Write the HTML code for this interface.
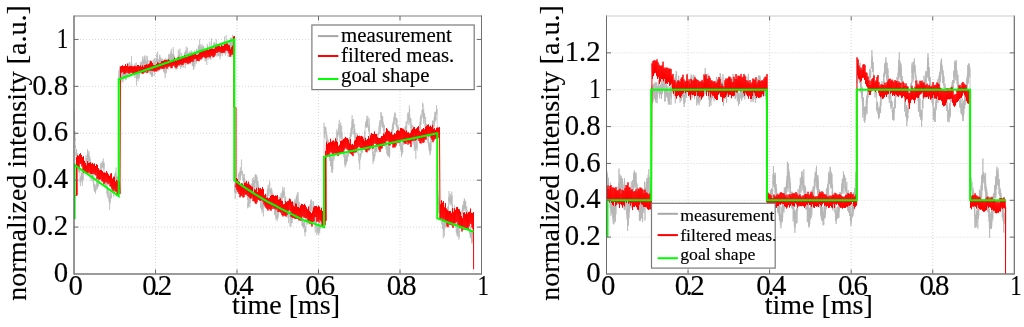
<!DOCTYPE html>
<html><head><meta charset="utf-8"><style>
html,body{margin:0;padding:0;background:#fff;width:1024px;height:327px;overflow:hidden}
svg{display:block;will-change:transform}
</style></head><body>
<svg width="1024" height="327" viewBox="0 0 1024 327" font-family='"Liberation Serif", serif' fill="#000">
<style>text{stroke:#000;stroke-width:0.15px}</style>
<defs>
<clipPath id="c1"><rect x="74.0" y="-14.0" width="407.5" height="288.0"/></clipPath>
<clipPath id="c2"><rect x="606.5" y="-14.0" width="407.79999999999995" height="288.0"/></clipPath>
</defs>
<rect width="1024" height="327" fill="#fff"/>
<g stroke="#d6d6d6" stroke-width="1" stroke-dasharray="1 2"><line x1="155.50" y1="16.00" x2="155.50" y2="274.00"/><line x1="237.00" y1="16.00" x2="237.00" y2="274.00"/><line x1="318.50" y1="16.00" x2="318.50" y2="274.00"/><line x1="400.00" y1="16.00" x2="400.00" y2="274.00"/><line x1="74.00" y1="227.09" x2="481.50" y2="227.09"/><line x1="74.00" y1="180.18" x2="481.50" y2="180.18"/><line x1="74.00" y1="133.27" x2="481.50" y2="133.27"/><line x1="74.00" y1="86.36" x2="481.50" y2="86.36"/><line x1="74.00" y1="39.45" x2="481.50" y2="39.45"/></g>
<g stroke="#d6d6d6" stroke-width="1" stroke-dasharray="1 2"><line x1="688.06" y1="16.00" x2="688.06" y2="274.00"/><line x1="769.62" y1="16.00" x2="769.62" y2="274.00"/><line x1="851.18" y1="16.00" x2="851.18" y2="274.00"/><line x1="932.74" y1="16.00" x2="932.74" y2="274.00"/><line x1="606.50" y1="237.14" x2="1014.30" y2="237.14"/><line x1="606.50" y1="200.29" x2="1014.30" y2="200.29"/><line x1="606.50" y1="163.43" x2="1014.30" y2="163.43"/><line x1="606.50" y1="126.57" x2="1014.30" y2="126.57"/><line x1="606.50" y1="89.71" x2="1014.30" y2="89.71"/><line x1="606.50" y1="52.86" x2="1014.30" y2="52.86"/></g>
<g clip-path="url(#c1)"><polyline points="74.0,124.2 74.1,110.7 74.2,128.4 74.3,131.3 74.4,131.1 74.5,132.6 74.6,131.5 74.7,137.5 74.8,132.1 74.9,131.2 75.0,139.2 75.1,138.9 75.2,140.7 75.3,138.2 75.4,147.8 75.5,145.7 75.6,147.4 75.7,150.2 75.8,155.2 75.9,154.2 76.0,151.7 76.1,159.9 76.2,155.1 76.3,152.5 76.4,149.3 76.5,151.9 76.6,149.1 76.7,152.9 76.8,160.4 76.9,152.6 77.0,161.9 77.1,160.6 77.2,153.5 77.3,159.2 77.4,166.1 77.5,157.6 77.6,158.1 77.7,158.5 77.8,166.4 77.9,155.3 78.0,160.3 78.1,155.6 78.2,165.2 78.3,163.2 78.4,171.9 78.5,167.7 78.6,161.9 78.7,164.5 78.8,169.9 78.9,161.7 79.0,168.2 79.1,169.0 79.2,169.5 79.3,172.7 79.4,172.8 79.5,172.5 79.6,167.2 79.7,172.5 79.8,169.4 79.9,176.5 80.0,182.4 80.1,178.3 80.2,178.5 80.3,180.2 80.4,186.1 80.5,178.7 80.6,180.9 80.7,177.2 80.8,176.4 80.9,177.5 81.0,176.1 81.1,180.4 81.2,178.1 81.3,176.5 81.4,172.9 81.5,177.3 81.6,176.8 81.7,179.8 81.8,174.4 81.9,172.5 82.0,182.4 82.1,175.1 82.2,174.1 82.3,170.4 82.4,185.8 82.5,177.6 82.6,180.4 82.7,169.0 82.8,173.1 82.9,169.6 83.0,170.5 83.1,171.7 83.2,172.0 83.3,173.5 83.4,179.8 83.5,172.0 83.6,173.0 83.7,173.0 83.8,172.5 83.9,165.3 84.0,172.2 84.1,171.6 84.2,164.8 84.3,161.3 84.4,169.8 84.5,169.1 84.6,171.0 84.7,166.5 84.8,166.6 84.9,165.7 85.0,169.0 85.1,169.3 85.2,170.6 85.3,163.4 85.4,169.1 85.5,172.0 85.6,169.0 85.7,166.4 85.8,165.7 85.9,167.1 86.0,156.0 86.1,155.2 86.2,164.6 86.3,158.4 86.4,161.4 86.5,158.4 86.6,161.2 86.7,161.3 86.8,159.6 86.9,158.8 87.0,164.7 87.1,167.2 87.2,163.7 87.3,153.9 87.4,160.0 87.5,156.2 87.6,149.1 87.7,157.5 87.8,151.2 87.9,156.2 88.0,154.5 88.1,164.0 88.2,157.6 88.3,155.2 88.4,155.4 88.5,162.8 88.6,157.4 88.7,153.4 88.8,157.4 88.9,151.5 89.0,151.3 89.1,154.4 89.2,157.9 89.3,156.2 89.4,164.2 89.5,158.8 89.6,160.1 89.7,158.3 89.8,156.6 89.9,158.5 90.0,160.8 90.1,163.2 90.2,159.6 90.3,158.8 90.4,164.1 90.5,168.6 90.6,170.0 90.7,164.6 90.8,166.5 90.9,170.5 91.0,178.8 91.1,175.9 91.2,181.1 91.3,178.3 91.4,174.9 91.5,174.6 91.6,165.1 91.7,172.6 91.8,172.5 91.9,170.9 92.0,169.5 92.1,169.4 92.2,173.8 92.3,177.1 92.4,176.1 92.5,174.1 92.6,179.0 92.7,173.8 92.8,180.9 92.9,181.5 93.0,179.6 93.1,172.3 93.2,179.2 93.3,180.8 93.4,184.7 93.5,186.8 93.6,185.9 93.7,175.8 93.8,178.7 93.9,184.6 94.0,187.4 94.1,190.6 94.2,188.5 94.3,183.9 94.4,185.2 94.5,187.7 94.6,191.9 94.7,186.7 94.8,190.0 94.9,184.1 95.0,188.2 95.1,185.6 95.2,187.7 95.3,191.6 95.4,187.1 95.5,193.7 95.6,188.3 95.7,191.2 95.8,190.5 95.9,188.0 96.0,187.8 96.1,189.7 96.2,188.9 96.3,189.5 96.4,184.1 96.5,183.1 96.6,183.4 96.7,187.7 96.8,181.2 96.9,178.0 97.0,187.4 97.1,187.4 97.2,182.1 97.3,186.5 97.4,181.6 97.5,184.9 97.6,188.9 97.7,184.5 97.8,183.5 97.9,181.8 98.0,185.1 98.1,183.5 98.2,173.7 98.3,184.3 98.4,176.3 98.5,186.6 98.6,180.0 98.7,179.4 98.8,174.2 98.9,177.5 99.0,179.3 99.1,176.8 99.2,180.0 99.3,183.8 99.4,181.8 99.5,170.6 99.6,172.5 99.7,168.5 99.8,173.5 99.9,179.0 100.0,175.7 100.1,171.2 100.2,175.4 100.3,174.2 100.4,173.4 100.5,171.7 100.6,173.6 100.7,163.7 100.8,169.9 100.9,163.4 101.0,164.2 101.1,170.3 101.2,167.2 101.3,165.9 101.4,167.8 101.5,168.0 101.6,163.1 101.7,165.9 101.8,167.2 101.9,167.9 102.0,164.8 102.1,161.5 102.2,161.7 102.3,167.3 102.4,164.8 102.5,162.0 102.6,164.2 102.7,161.6 102.8,166.6 102.9,167.4 103.0,165.6 103.1,167.2 103.2,170.5 103.3,158.5 103.4,166.8 103.5,163.1 103.6,163.2 103.7,165.5 103.8,163.9 103.9,164.2 104.0,168.7 104.1,168.1 104.2,162.3 104.3,174.5 104.4,173.0 104.5,173.4 104.6,177.0 104.7,181.5 104.8,182.8 104.9,181.7 105.0,181.8 105.1,181.1 105.2,176.1 105.3,183.7 105.4,185.4 105.5,180.5 105.6,180.2 105.7,185.7 105.8,181.4 105.9,184.5 106.0,179.5 106.1,180.2 106.2,183.7 106.3,180.0 106.4,185.9 106.5,186.7 106.6,187.0 106.7,187.4 106.8,183.3 106.9,194.0 107.0,187.9 107.1,189.7 107.2,185.7 107.3,195.3 107.4,196.3 107.5,187.6 107.6,187.3 107.7,188.5 107.8,191.6 107.9,188.0 108.0,192.5 108.1,197.6 108.2,195.0 108.3,196.5 108.4,198.7 108.5,195.6 108.6,195.6 108.7,190.4 108.8,188.8 108.9,189.8 109.0,193.0 109.1,202.0 109.2,198.9 109.3,200.5 109.4,201.5 109.5,202.7 109.6,209.7 109.7,197.7 109.8,199.1 109.9,192.3 110.0,204.1 110.1,196.5 110.2,199.0 110.3,201.5 110.4,197.9 110.5,195.1 110.6,190.8 110.7,192.4 110.8,192.8 110.9,194.8 111.0,198.6 111.1,198.2 111.2,195.2 111.3,194.2 111.4,197.8 111.5,198.0 111.6,188.7 111.7,189.0 111.8,181.4 111.9,189.9 112.0,184.9 112.1,187.6 112.2,187.4 112.3,189.9 112.4,186.7 112.5,187.6 112.6,190.0 112.7,188.0 112.8,187.6 112.9,185.3 113.0,183.8 113.1,185.3 113.2,185.7 113.3,182.8 113.4,190.3 113.5,184.3 113.6,185.6 113.7,196.7 113.8,190.4 113.9,185.3 114.0,192.9 114.1,183.6 114.2,182.8 114.3,184.6 114.4,181.2 114.5,183.4 114.6,177.3 114.7,174.3 114.8,174.8 114.9,175.9 115.0,182.6 115.1,180.3 115.2,173.2 115.3,173.3 115.4,177.5 115.5,180.5 115.6,183.0 115.7,172.1 115.8,176.2 115.9,170.5 116.0,169.5 116.1,167.4 116.2,172.8 116.3,176.9 116.4,177.6 116.5,176.9 116.6,186.3 116.7,177.8 116.8,182.4 116.9,175.9 117.0,180.5 117.1,181.5 117.2,176.8 117.3,191.3 117.4,176.9 117.5,180.1 117.6,182.9 117.7,179.1 117.8,184.2 117.9,180.2 118.0,183.2 118.1,179.9 118.2,186.3 118.3,183.1 118.4,175.1 118.5,180.2 118.6,183.8 118.7,186.4 118.8,72.6 118.9,70.5 119.0,77.3 119.1,74.9 119.2,75.4 119.3,84.2 119.4,74.8 119.5,68.4 119.6,74.0 119.7,72.3 119.8,66.2 119.9,70.1 120.0,77.8 120.1,73.0 120.2,75.9 120.3,79.9 120.4,73.1 120.5,76.0 120.6,76.9 120.7,77.8 120.8,68.1 120.9,73.3 121.0,82.8 121.1,75.3 121.2,78.2 121.3,79.4 121.4,70.9 121.5,71.9 121.6,77.2 121.7,76.1 121.8,72.9 121.9,76.5 122.0,74.4 122.1,79.4 122.2,72.4 122.3,71.3 122.4,78.9 122.5,81.4 122.6,75.6 122.7,71.3 122.8,74.3 122.9,75.4 123.0,75.6 123.1,82.3 123.2,73.0 123.3,73.6 123.4,75.9 123.5,69.9 123.6,75.5 123.7,77.5 123.8,71.3 123.9,69.9 124.0,73.1 124.1,71.9 124.2,71.9 124.3,71.5 124.4,78.7 124.5,72.0 124.6,70.2 124.7,75.7 124.8,79.3 124.9,73.0 125.0,74.4 125.1,78.3 125.2,75.9 125.3,77.9 125.4,71.4 125.5,80.2 125.6,70.0 125.7,77.7 125.8,74.9 125.9,76.8 126.0,73.9 126.1,70.8 126.2,72.6 126.3,79.6 126.4,78.1 126.5,76.6 126.6,68.7 126.7,77.4 126.8,75.1 126.9,75.5 127.0,71.7 127.1,71.4 127.2,75.7 127.3,66.6 127.4,67.0 127.5,67.9 127.6,68.7 127.7,63.6 127.8,76.5 127.9,72.3 128.0,63.3 128.1,72.4 128.2,64.5 128.3,67.4 128.4,71.2 128.5,69.4 128.6,69.3 128.7,67.0 128.8,66.7 128.9,65.2 129.0,67.1 129.1,64.3 129.2,62.7 129.3,65.4 129.4,70.9 129.5,62.0 129.6,74.0 129.7,63.9 129.8,62.0 129.9,72.1 130.0,77.1 130.1,73.4 130.2,69.9 130.3,73.6 130.4,65.0 130.5,66.5 130.6,72.6 130.7,66.5 130.8,74.7 130.9,71.2 131.0,69.7 131.1,65.1 131.2,65.6 131.3,63.9 131.4,72.9 131.5,55.9 131.6,72.8 131.7,69.7 131.8,63.3 131.9,67.5 132.0,64.3 132.1,72.8 132.2,71.0 132.3,69.5 132.4,72.1 132.5,71.2 132.6,70.3 132.7,74.9 132.8,70.4 132.9,74.8 133.0,70.3 133.1,68.7 133.2,73.6 133.3,72.4 133.4,70.7 133.5,68.0 133.6,67.8 133.7,67.9 133.8,67.8 133.9,74.2 134.0,72.2 134.1,71.4 134.2,70.2 134.3,69.0 134.4,70.6 134.5,69.8 134.6,64.9 134.7,71.9 134.8,78.2 134.9,74.0 135.0,72.8 135.1,73.8 135.2,63.2 135.3,68.5 135.4,65.8 135.5,73.4 135.6,68.9 135.7,71.7 135.8,70.6 135.9,72.3 136.0,68.2 136.1,77.3 136.2,69.3 136.3,62.6 136.4,69.0 136.5,85.7 136.6,76.6 136.7,78.7 136.8,78.8 136.9,79.0 137.0,71.2 137.1,73.0 137.2,78.0 137.3,73.3 137.4,73.6 137.5,66.0 137.6,78.4 137.7,73.7 137.8,77.3 137.9,72.4 138.0,81.3 138.1,76.8 138.2,74.1 138.3,74.4 138.4,75.5 138.5,72.5 138.6,74.4 138.7,76.3 138.8,72.4 138.9,72.0 139.0,70.5 139.1,78.9 139.2,72.7 139.3,68.6 139.4,77.7 139.4,71.8 139.5,74.1 139.6,67.5 139.7,66.3 139.8,70.7 139.9,72.0 140.0,73.7 140.1,70.3 140.2,70.3 140.3,66.8 140.4,62.1 140.5,63.8 140.6,69.7 140.7,72.0 140.8,72.2 140.9,70.6 141.0,69.0 141.1,61.8 141.2,69.7 141.3,65.3 141.4,69.4 141.5,67.3 141.6,62.1 141.7,68.1 141.8,70.8 141.9,72.1 142.0,69.3 142.1,74.1 142.2,63.7 142.3,60.7 142.4,61.2 142.5,59.2 142.6,63.3 142.7,56.2 142.8,70.4 142.9,67.3 143.0,59.6 143.1,69.0 143.2,71.3 143.3,73.8 143.4,60.6 143.5,59.7 143.6,61.5 143.7,68.3 143.8,63.2 143.9,67.4 144.0,59.2 144.1,57.6 144.2,58.9 144.3,58.8 144.4,56.3 144.5,55.6 144.6,67.1 144.7,60.6 144.8,68.6 144.9,65.6 145.0,58.6 145.1,67.9 145.2,67.1 145.3,60.5 145.4,65.4 145.5,72.2 145.6,66.2 145.7,66.2 145.8,68.0 145.9,55.7 146.0,64.1 146.1,64.3 146.2,60.7 146.3,64.9 146.4,71.1 146.5,67.2 146.6,66.4 146.7,67.6 146.8,62.3 146.9,62.2 147.0,63.2 147.1,63.9 147.2,62.8 147.3,55.9 147.4,70.1 147.5,58.6 147.6,61.8 147.7,66.5 147.8,66.4 147.9,64.0 148.0,72.9 148.1,68.8 148.2,67.3 148.3,72.2 148.4,68.4 148.5,65.3 148.6,68.7 148.7,70.6 148.8,71.8 148.9,72.9 149.0,60.0 149.1,64.8 149.2,65.7 149.3,66.9 149.4,69.4 149.5,61.3 149.6,62.5 149.7,61.4 149.8,72.7 149.9,63.9 150.0,65.0 150.1,74.2 150.2,72.9 150.3,72.6 150.4,67.1 150.5,70.4 150.6,74.9 150.7,69.5 150.8,73.2 150.9,69.3 151.0,69.0 151.1,69.8 151.2,61.5 151.3,64.8 151.4,74.0 151.5,66.4 151.6,62.6 151.7,77.0 151.8,66.9 151.9,69.6 152.0,75.5 152.1,70.5 152.2,75.4 152.3,76.8 152.4,70.1 152.5,69.7 152.6,76.2 152.7,69.7 152.8,65.3 152.9,71.4 153.0,60.4 153.1,66.3 153.2,63.9 153.3,65.0 153.4,71.2 153.5,65.1 153.6,66.1 153.7,64.0 153.8,63.8 153.9,58.5 154.0,60.2 154.1,59.7 154.2,62.9 154.3,75.8 154.4,72.0 154.5,69.4 154.6,65.4 154.7,71.2 154.8,63.2 154.9,61.5 155.0,62.4 155.1,58.3 155.2,65.7 155.3,62.8 155.4,68.2 155.5,64.3 155.6,68.5 155.7,66.9 155.8,62.1 155.9,68.4 156.0,63.6 156.1,60.3 156.2,59.3 156.3,60.5 156.4,59.3 156.5,61.6 156.6,56.5 156.7,57.2 156.8,53.4 156.9,59.3 157.0,58.7 157.1,64.2 157.2,59.5 157.3,62.2 157.4,57.3 157.5,57.6 157.6,51.5 157.7,65.7 157.8,61.1 157.9,61.8 158.0,60.7 158.1,67.8 158.2,66.3 158.3,60.0 158.4,67.0 158.5,66.5 158.6,59.7 158.7,71.5 158.8,61.6 158.9,61.1 159.0,59.3 159.1,65.5 159.2,65.5 159.3,63.9 159.4,64.7 159.5,57.5 159.6,63.7 159.7,54.7 159.8,59.8 159.9,55.6 160.0,62.2 160.1,62.9 160.2,60.3 160.3,58.6 160.4,65.0 160.5,60.1 160.6,66.2 160.7,57.7 160.8,68.9 160.9,68.0 161.0,62.5 161.1,64.8 161.2,69.3 161.3,64.3 161.4,63.3 161.5,66.0 161.6,63.4 161.7,66.2 161.8,68.4 161.9,58.3 162.0,68.0 162.1,64.7 162.2,59.0 162.3,64.2 162.4,66.6 162.5,63.4 162.6,62.5 162.7,59.7 162.8,64.4 162.9,64.9 163.0,68.3 163.1,65.0 163.2,65.9 163.3,60.7 163.4,71.9 163.5,71.9 163.6,71.2 163.7,66.1 163.8,63.0 163.9,59.1 164.0,72.4 164.1,66.1 164.2,70.0 164.3,61.4 164.4,64.8 164.5,59.3 164.6,67.2 164.7,61.8 164.8,67.5 164.9,74.1 165.0,66.1 165.1,70.3 165.2,78.2 165.3,67.0 165.4,66.4 165.5,62.6 165.6,58.1 165.7,61.8 165.8,61.9 165.9,71.4 166.0,67.6 166.1,68.3 166.2,58.7 166.3,67.4 166.4,63.9 166.5,73.2 166.6,66.6 166.7,64.1 166.8,64.6 166.9,63.8 167.0,59.6 167.1,59.4 167.2,66.9 167.3,67.4 167.4,61.9 167.5,60.0 167.6,68.6 167.7,58.9 167.8,67.1 167.9,62.9 168.0,59.0 168.1,69.7 168.2,63.6 168.3,61.9 168.4,62.8 168.5,53.9 168.6,57.4 168.7,60.0 168.8,62.5 168.9,58.9 169.0,59.3 169.1,57.8 169.2,62.1 169.3,65.8 169.4,55.7 169.5,63.1 169.6,59.0 169.7,54.5 169.8,55.9 169.9,66.1 170.0,64.5 170.1,61.0 170.2,53.8 170.3,59.3 170.4,52.6 170.5,53.5 170.6,55.4 170.7,57.4 170.8,60.7 170.9,54.4 171.0,58.8 171.1,51.1 171.2,57.7 171.3,60.8 171.4,48.8 171.5,59.9 171.6,56.3 171.7,60.3 171.8,58.0 171.9,59.3 172.0,61.1 172.1,62.8 172.2,57.2 172.3,62.1 172.4,53.9 172.5,59.3 172.6,53.8 172.7,60.9 172.8,56.1 172.9,60.4 173.0,62.6 173.1,59.3 173.2,57.7 173.3,47.1 173.4,61.4 173.5,57.8 173.6,53.8 173.7,59.2 173.8,58.4 173.9,55.0 174.0,61.0 174.1,62.9 174.2,65.2 174.3,61.0 174.4,57.7 174.5,59.5 174.6,56.2 174.7,61.9 174.8,58.8 174.9,63.2 175.0,67.9 175.1,59.0 175.2,64.0 175.3,61.6 175.4,68.5 175.5,69.4 175.6,67.0 175.7,61.8 175.8,63.5 175.9,61.1 176.0,58.2 176.1,60.0 176.2,59.6 176.3,60.7 176.4,62.6 176.5,64.4 176.6,69.6 176.7,61.0 176.8,59.4 176.9,67.0 177.0,67.3 177.1,65.8 177.2,60.7 177.3,61.3 177.4,62.0 177.5,62.1 177.6,69.0 177.7,62.3 177.8,62.0 177.9,60.5 178.0,62.4 178.1,62.1 178.2,60.2 178.3,49.8 178.4,63.6 178.5,54.7 178.6,64.6 178.7,60.7 178.8,65.8 178.9,56.9 179.0,61.8 179.1,62.2 179.2,59.0 179.3,58.2 179.4,62.7 179.5,58.3 179.6,58.7 179.7,51.8 179.8,63.5 179.9,48.6 180.0,57.1 180.1,66.8 180.2,60.4 180.3,66.4 180.4,62.9 180.5,64.1 180.6,59.9 180.7,68.9 180.8,58.2 180.9,56.4 181.0,65.8 181.1,58.2 181.2,57.2 181.3,63.0 181.4,67.0 181.5,57.3 181.6,59.2 181.7,53.1 181.8,60.7 181.9,58.2 182.0,61.5 182.1,61.5 182.2,67.3 182.3,63.9 182.4,60.6 182.5,59.4 182.6,60.7 182.7,56.0 182.8,58.0 182.9,56.6 183.0,59.2 183.1,57.5 183.2,61.7 183.3,67.5 183.4,56.9 183.5,57.7 183.6,58.1 183.7,61.7 183.8,56.0 183.9,58.7 184.0,55.4 184.1,58.0 184.2,58.4 184.3,55.8 184.4,51.9 184.5,55.5 184.6,53.6 184.7,58.1 184.8,60.3 184.9,56.2 185.0,58.5 185.1,58.0 185.2,68.3 185.3,53.4 185.4,57.8 185.5,60.8 185.6,50.4 185.7,56.0 185.8,55.5 185.9,55.6 186.0,65.1 186.1,51.2 186.2,57.3 186.3,46.7 186.4,52.4 186.5,57.4 186.6,62.6 186.7,56.0 186.8,59.7 186.9,57.7 187.0,59.2 187.1,53.9 187.2,58.1 187.3,58.1 187.4,47.7 187.5,52.0 187.6,56.8 187.7,55.9 187.8,63.5 187.9,60.8 188.0,57.3 188.1,60.8 188.2,61.1 188.3,52.8 188.4,56.5 188.5,58.2 188.6,57.4 188.7,57.9 188.8,52.7 188.9,55.4 189.0,63.5 189.1,53.4 189.2,54.5 189.3,61.3 189.4,64.3 189.5,61.3 189.6,62.8 189.7,58.4 189.8,58.6 189.9,51.4 190.0,61.8 190.1,56.3 190.2,52.2 190.3,58.6 190.4,59.9 190.5,63.9 190.6,53.2 190.7,62.1 190.8,55.1 190.9,59.4 191.0,57.4 191.1,58.2 191.2,50.4 191.3,54.0 191.4,53.0 191.5,53.7 191.6,53.0 191.7,59.7 191.8,58.7 191.9,51.0 192.0,58.8 192.1,54.7 192.2,62.4 192.3,65.9 192.4,62.2 192.5,65.9 192.6,63.1 192.7,56.6 192.8,61.3 192.9,56.8 193.0,63.6 193.1,62.1 193.2,66.1 193.3,56.9 193.4,68.7 193.5,59.7 193.6,57.3 193.7,70.1 193.8,66.8 193.9,65.9 194.0,58.2 194.1,58.9 194.2,57.6 194.3,54.3 194.4,50.4 194.5,64.7 194.6,59.4 194.7,61.2 194.8,57.2 194.9,67.2 195.0,63.4 195.1,61.6 195.2,60.7 195.3,54.3 195.4,55.9 195.5,61.9 195.6,55.5 195.7,58.9 195.8,57.5 195.9,57.4 196.0,60.6 196.1,55.1 196.2,52.0 196.3,57.3 196.4,63.7 196.5,52.7 196.6,48.8 196.7,54.3 196.8,52.9 196.9,50.7 197.0,54.6 197.1,49.8 197.2,53.3 197.3,57.7 197.4,56.1 197.5,55.3 197.6,57.4 197.7,50.8 197.8,52.8 197.9,56.9 198.0,51.4 198.1,54.1 198.2,49.1 198.3,46.7 198.4,50.1 198.5,53.7 198.6,55.3 198.7,44.9 198.8,49.2 198.9,51.7 199.0,49.2 199.1,54.9 199.2,46.4 199.3,49.4 199.4,51.5 199.5,56.0 199.6,39.3 199.7,45.2 199.8,54.4 199.9,50.6 200.0,47.2 200.1,47.6 200.2,51.4 200.3,44.4 200.4,45.8 200.5,47.3 200.6,49.7 200.7,55.2 200.8,50.5 200.9,50.1 201.0,54.7 201.1,50.0 201.2,48.2 201.3,53.2 201.4,54.0 201.5,51.9 201.6,46.4 201.7,48.4 201.8,58.2 201.9,53.9 202.0,44.0 202.1,54.9 202.2,46.8 202.3,52.5 202.4,47.7 202.5,55.0 202.6,53.6 202.7,53.4 202.8,54.4 202.9,54.0 203.0,47.2 203.1,52.0 203.2,45.9 203.3,54.7 203.4,53.5 203.5,49.9 203.6,50.1 203.7,45.8 203.8,49.9 203.9,51.0 204.0,52.9 204.1,58.1 204.2,58.7 204.3,51.7 204.4,57.3 204.5,55.8 204.6,52.1 204.7,56.9 204.8,53.0 204.9,55.2 205.0,49.8 205.1,61.4 205.2,58.9 205.3,60.1 205.4,60.2 205.5,60.7 205.6,50.1 205.7,56.1 205.8,53.4 205.9,58.9 206.0,58.6 206.1,56.4 206.2,59.4 206.3,54.5 206.4,59.7 206.5,58.7 206.6,58.2 206.7,62.7 206.8,64.9 206.9,58.5 207.0,56.1 207.1,54.8 207.2,53.3 207.3,43.8 207.4,50.4 207.5,48.4 207.6,45.7 207.7,55.0 207.8,48.0 207.9,51.0 208.0,49.8 208.1,59.6 208.2,59.0 208.3,56.1 208.4,54.7 208.5,50.9 208.6,55.8 208.7,52.2 208.8,54.0 208.9,58.8 209.0,53.8 209.1,52.0 209.2,47.8 209.3,50.2 209.4,53.7 209.5,55.8 209.6,52.1 209.7,53.4 209.8,41.7 209.9,49.4 210.0,52.9 210.1,54.3 210.2,54.6 210.3,50.0 210.4,59.3 210.5,51.4 210.6,54.4 210.7,47.1 210.8,60.0 210.9,51.0 211.0,55.9 211.1,48.9 211.2,55.6 211.3,50.2 211.4,47.0 211.5,38.5 211.6,51.1 211.7,51.1 211.8,50.2 211.9,53.3 212.0,50.7 212.1,50.3 212.2,49.3 212.3,56.1 212.4,48.2 212.5,55.5 212.6,50.0 212.7,46.5 212.8,56.0 212.9,49.6 213.0,48.3 213.1,51.0 213.2,50.0 213.3,45.0 213.4,43.4 213.5,49.3 213.6,45.4 213.7,46.2 213.8,51.4 213.9,54.9 214.0,46.3 214.1,46.4 214.2,41.9 214.3,46.9 214.4,49.9 214.5,44.8 214.6,43.2 214.7,45.4 214.8,51.4 214.9,46.7 215.0,48.7 215.1,52.4 215.2,48.3 215.3,45.5 215.4,46.7 215.5,49.6 215.6,43.5 215.7,54.3 215.8,45.1 215.9,51.5 216.0,46.2 216.1,50.5 216.2,39.2 216.3,41.6 216.4,51.8 216.5,42.9 216.6,47.0 216.7,44.5 216.8,51.6 216.9,52.1 217.0,56.7 217.1,54.7 217.2,53.5 217.3,55.7 217.4,52.8 217.5,49.2 217.6,47.9 217.7,51.1 217.8,45.6 217.9,50.3 218.0,46.5 218.1,44.1 218.2,51.0 218.3,44.9 218.4,52.4 218.5,55.8 218.6,48.1 218.7,48.4 218.8,56.3 218.9,50.8 219.0,50.0 219.1,51.7 219.2,43.3 219.3,51.5 219.4,55.2 219.5,51.1 219.6,52.0 219.7,54.7 219.8,52.4 219.9,56.5 220.0,50.8 220.1,59.3 220.2,51.6 220.3,53.4 220.4,55.1 220.5,54.8 220.6,56.0 220.7,52.3 220.8,46.3 220.9,52.7 221.0,54.4 221.1,45.8 221.2,53.1 221.3,53.5 221.4,44.4 221.5,51.3 221.6,47.9 221.7,51.5 221.8,51.6 221.9,50.5 222.0,48.8 222.1,42.8 222.2,53.5 222.3,56.2 222.4,47.4 222.5,52.7 222.6,45.6 222.7,48.9 222.8,45.8 222.9,43.2 223.0,49.3 223.1,52.1 223.2,47.6 223.3,52.5 223.4,50.2 223.5,49.2 223.6,51.9 223.7,43.0 223.8,49.9 223.9,42.5 224.0,45.1 224.1,49.8 224.2,48.0 224.3,45.0 224.4,47.8 224.5,36.6 224.6,51.4 224.7,41.7 224.8,52.2 224.9,47.0 225.0,43.9 225.1,53.4 225.2,48.0 225.3,52.9 225.4,55.7 225.5,53.9 225.6,51.4 225.7,50.3 225.8,47.4 225.9,47.2 226.0,53.8 226.1,40.2 226.2,35.3 226.3,43.9 226.4,46.3 226.5,46.9 226.6,42.7 226.7,43.7 226.8,47.3 226.9,44.8 227.0,42.5 227.1,43.8 227.2,44.7 227.3,45.5 227.4,49.7 227.5,47.5 227.6,48.3 227.7,53.1 227.8,50.4 227.9,45.4 228.0,46.2 228.1,56.8 228.2,53.8 228.3,42.6 228.4,46.3 228.5,46.3 228.6,54.4 228.7,49.6 228.8,49.8 228.9,48.2 229.0,51.7 229.1,49.9 229.2,45.7 229.3,44.8 229.4,42.9 229.5,56.1 229.6,49.9 229.7,41.8 229.8,52.0 229.9,46.8 230.0,40.5 230.1,49.5 230.2,46.1 230.3,37.8 230.4,49.6 230.5,52.3 230.6,39.4 230.7,45.6 230.8,43.6 230.9,41.7 231.0,37.9 231.1,43.9 231.2,38.5 231.3,44.3 231.4,47.6 231.5,44.3 231.6,50.1 231.7,51.1 231.8,37.7 231.9,57.4 232.0,52.0 232.1,48.9 232.2,46.0 232.3,41.5 232.4,43.5 232.5,34.8 232.6,47.4 232.7,52.2 232.8,49.8 232.9,50.6 233.0,51.1 233.1,45.3 233.2,45.9 233.3,43.4 233.4,52.0 233.5,47.9 233.6,50.3 233.7,53.2 233.8,56.9 233.9,49.8 234.0,53.9 234.1,46.3 234.2,45.7 234.3,45.0 234.4,175.9 234.5,180.8 234.6,192.3 234.7,184.4 234.8,185.1 234.9,187.1 235.0,189.7 235.1,185.3 235.2,199.1 235.3,195.1 235.4,190.5 235.5,193.0 235.6,191.3 235.7,193.7 235.8,193.7 235.9,186.2 236.0,187.0 236.1,191.7 236.2,184.4 236.3,193.3 236.4,187.4 236.5,189.7 236.6,188.9 236.7,187.5 236.8,191.6 236.9,184.3 237.0,185.3 237.1,183.8 237.2,181.9 237.3,183.3 237.4,181.9 237.5,181.9 237.6,185.7 237.7,179.5 237.8,183.6 237.9,187.5 238.0,183.2 238.1,181.4 238.2,186.1 238.3,178.9 238.4,179.3 238.5,174.4 238.6,176.5 238.7,173.6 238.8,175.3 238.9,186.6 239.0,177.8 239.1,176.7 239.2,176.3 239.3,172.9 239.4,175.0 239.5,172.2 239.6,174.2 239.7,179.4 239.8,180.6 239.9,171.8 240.0,171.4 240.1,178.1 240.2,175.7 240.3,167.3 240.4,171.4 240.5,180.0 240.6,172.2 240.7,170.9 240.8,172.8 240.9,174.7 241.0,173.6 241.1,174.3 241.2,173.3 241.3,168.5 241.4,160.5 241.5,159.5 241.6,169.1 241.7,173.4 241.8,171.1 241.9,170.9 242.0,171.7 242.1,175.9 242.2,171.2 242.3,173.3 242.4,171.1 242.5,178.0 242.6,176.7 242.7,180.2 242.8,179.5 242.9,179.3 243.0,178.2 243.1,178.2 243.2,179.1 243.3,178.5 243.4,180.1 243.5,182.6 243.6,181.8 243.7,174.0 243.8,179.9 243.9,186.5 244.0,188.0 244.1,177.6 244.2,182.7 244.3,177.6 244.4,173.9 244.5,185.7 244.6,182.5 244.7,181.3 244.8,179.6 244.9,184.2 245.0,183.0 245.1,183.6 245.2,184.3 245.3,186.6 245.4,191.6 245.5,194.0 245.6,192.7 245.7,189.6 245.8,184.8 245.9,189.0 246.0,190.8 246.1,186.2 246.2,188.4 246.3,189.1 246.4,193.2 246.5,193.6 246.6,193.1 246.7,195.5 246.8,190.8 246.9,196.8 247.0,193.0 247.1,191.5 247.2,195.3 247.3,191.4 247.4,195.7 247.5,196.3 247.6,200.0 247.7,192.5 247.8,208.4 247.9,204.1 248.0,207.7 248.1,202.1 248.2,204.7 248.3,206.4 248.4,196.2 248.5,194.6 248.6,205.1 248.7,199.3 248.8,201.1 248.9,204.8 249.0,198.2 249.1,197.6 249.2,196.8 249.3,193.4 249.4,190.5 249.5,198.5 249.6,192.9 249.7,189.7 249.8,207.2 249.9,197.4 250.0,193.2 250.1,193.8 250.2,198.2 250.3,192.2 250.4,195.0 250.5,202.9 250.6,195.8 250.7,198.9 250.8,195.0 250.9,197.8 251.0,190.6 251.1,192.7 251.2,195.6 251.3,192.6 251.4,185.2 251.5,184.5 251.6,192.1 251.7,183.7 251.8,187.5 251.9,188.7 252.0,185.8 252.1,182.9 252.2,185.2 252.3,188.1 252.4,184.6 252.5,183.5 252.6,178.1 252.7,183.2 252.8,184.0 252.9,183.0 253.0,181.0 253.1,192.1 253.2,180.0 253.3,185.4 253.4,185.4 253.5,187.3 253.6,182.1 253.7,176.9 253.8,181.8 253.9,186.3 254.0,180.8 254.1,180.6 254.2,181.3 254.3,190.3 254.4,183.0 254.5,181.9 254.6,200.6 254.7,184.4 254.8,180.5 254.9,186.4 255.0,192.4 255.1,182.9 255.2,175.2 255.3,181.1 255.4,174.5 255.5,177.9 255.6,180.4 255.7,179.7 255.8,174.1 255.9,182.6 256.0,180.1 256.1,183.0 256.2,182.5 256.3,181.5 256.4,188.1 256.5,188.4 256.6,175.3 256.7,182.3 256.8,183.7 256.9,184.2 257.0,182.4 257.1,186.1 257.2,176.9 257.3,178.9 257.4,184.4 257.5,182.5 257.6,187.8 257.7,190.3 257.8,184.0 257.9,186.3 258.0,186.6 258.1,180.7 258.2,189.5 258.3,189.0 258.4,186.5 258.5,199.7 258.6,193.0 258.7,189.1 258.8,194.0 258.9,196.4 259.0,195.9 259.1,198.4 259.2,198.7 259.3,195.3 259.4,196.1 259.5,188.9 259.6,194.0 259.7,187.9 259.8,193.3 259.9,188.3 260.0,194.5 260.1,191.1 260.2,197.4 260.3,192.7 260.4,202.4 260.5,203.8 260.6,202.4 260.7,208.3 260.8,201.0 260.9,206.9 261.0,202.5 261.1,198.1 261.2,198.1 261.3,204.3 261.4,205.8 261.5,209.5 261.6,207.5 261.7,209.7 261.8,209.7 261.9,205.6 262.0,211.5 262.1,213.1 262.2,205.5 262.3,199.2 262.4,210.1 262.5,206.7 262.6,206.9 262.7,202.6 262.8,202.9 262.9,206.9 263.0,205.1 263.1,207.8 263.2,204.9 263.3,202.7 263.4,216.4 263.5,211.3 263.6,210.4 263.7,210.7 263.8,206.9 263.9,205.0 264.0,200.7 264.1,201.0 264.2,202.1 264.3,202.3 264.4,197.4 264.5,196.9 264.6,201.0 264.7,198.2 264.8,200.8 264.9,200.5 265.0,199.6 265.1,201.4 265.2,201.4 265.3,200.6 265.4,202.8 265.5,206.5 265.6,195.4 265.7,195.3 265.8,193.4 265.9,194.5 266.0,199.0 266.1,201.9 266.2,200.4 266.3,201.9 266.4,197.1 266.5,202.0 266.6,197.3 266.7,195.3 266.8,201.1 266.9,199.7 267.0,198.9 267.1,194.4 267.2,199.0 267.3,188.7 267.4,197.7 267.5,194.0 267.6,193.9 267.7,193.7 267.8,193.3 267.9,191.9 268.0,193.5 268.1,184.8 268.2,194.7 268.3,188.3 268.4,188.0 268.5,193.6 268.6,196.4 268.7,190.5 268.8,185.7 268.9,188.0 269.0,189.9 269.1,188.8 269.2,190.4 269.3,188.4 269.4,183.5 269.5,180.7 269.6,181.0 269.7,185.2 269.8,183.5 269.9,184.5 270.0,196.6 270.1,190.2 270.2,192.3 270.2,188.6 270.3,193.3 270.4,192.3 270.5,189.8 270.6,192.2 270.7,191.3 270.8,192.6 270.9,191.2 271.0,190.2 271.1,201.5 271.2,198.8 271.3,198.7 271.4,192.9 271.5,189.7 271.6,187.7 271.7,190.5 271.8,196.6 271.9,190.4 272.0,190.2 272.1,205.8 272.2,196.0 272.3,199.2 272.4,204.5 272.5,194.1 272.6,197.3 272.7,193.2 272.8,204.3 272.9,202.5 273.0,206.1 273.1,201.5 273.2,208.8 273.3,203.8 273.4,199.9 273.5,203.8 273.6,201.3 273.7,203.2 273.8,201.2 273.9,203.5 274.0,204.9 274.1,200.0 274.2,203.3 274.3,206.3 274.4,209.5 274.5,203.8 274.6,214.7 274.7,210.5 274.8,208.3 274.9,206.5 275.0,207.6 275.1,215.5 275.2,205.3 275.3,208.8 275.4,213.4 275.5,205.5 275.6,208.4 275.7,216.8 275.8,219.7 275.9,212.7 276.0,213.1 276.1,209.4 276.2,208.3 276.3,211.4 276.4,209.2 276.5,212.7 276.6,217.7 276.7,215.0 276.8,218.8 276.9,217.0 277.0,215.2 277.1,221.3 277.2,219.8 277.3,214.5 277.4,217.4 277.5,208.2 277.6,209.7 277.7,209.0 277.8,205.9 277.9,210.8 278.0,208.3 278.1,218.4 278.2,208.6 278.3,215.1 278.4,214.8 278.5,210.1 278.6,209.6 278.7,207.1 278.8,206.5 278.9,196.9 279.0,209.9 279.1,208.2 279.2,208.9 279.3,202.4 279.4,202.9 279.5,202.5 279.6,196.7 279.7,204.2 279.8,209.5 279.9,203.6 280.0,198.3 280.1,197.3 280.2,202.3 280.3,201.7 280.4,201.8 280.5,202.6 280.6,203.8 280.7,203.5 280.8,195.0 280.9,193.1 281.0,196.9 281.1,199.8 281.2,200.0 281.3,201.4 281.4,203.4 281.5,198.6 281.6,199.8 281.7,196.5 281.8,197.4 281.9,196.8 282.0,194.4 282.1,200.2 282.2,191.9 282.3,195.6 282.4,191.6 282.5,197.8 282.6,196.8 282.7,197.9 282.8,186.8 282.9,191.8 283.0,189.6 283.1,194.3 283.2,190.7 283.3,196.8 283.4,194.3 283.5,193.2 283.6,197.7 283.7,192.6 283.8,192.1 283.9,191.4 284.0,195.6 284.1,193.2 284.2,191.8 284.3,187.5 284.4,195.6 284.5,195.2 284.6,192.1 284.7,196.0 284.8,196.9 284.9,202.1 285.0,198.4 285.1,196.3 285.2,197.3 285.3,209.6 285.4,201.1 285.5,205.9 285.6,208.2 285.7,196.8 285.8,202.6 285.9,208.3 286.0,205.3 286.1,201.9 286.2,208.5 286.3,203.1 286.4,203.4 286.5,213.0 286.6,205.8 286.7,204.5 286.8,207.9 286.9,203.5 287.0,202.8 287.1,205.8 287.2,209.6 287.3,206.3 287.4,211.2 287.5,210.3 287.6,208.5 287.7,212.2 287.8,217.8 287.9,205.9 288.0,208.3 288.1,211.6 288.2,210.4 288.3,215.0 288.4,214.9 288.5,213.4 288.6,223.0 288.7,217.1 288.8,216.9 288.9,216.1 289.0,215.5 289.1,217.0 289.2,213.4 289.3,211.6 289.4,212.1 289.5,211.5 289.6,214.0 289.7,212.3 289.8,213.2 289.9,224.0 290.0,226.7 290.1,224.9 290.2,221.3 290.3,216.2 290.4,215.7 290.5,214.4 290.6,217.7 290.7,219.5 290.8,218.7 290.9,215.5 291.0,226.7 291.1,215.2 291.2,212.5 291.3,218.1 291.4,211.8 291.5,215.3 291.6,214.9 291.7,222.9 291.8,213.0 291.9,214.9 292.0,214.0 292.1,223.0 292.2,220.5 292.3,217.1 292.4,218.4 292.5,208.4 292.6,219.0 292.7,212.8 292.8,213.2 292.9,205.7 293.0,214.9 293.1,207.0 293.2,210.9 293.3,214.1 293.4,208.0 293.5,203.6 293.6,208.3 293.7,201.9 293.8,203.4 293.9,206.8 294.0,206.6 294.1,207.2 294.2,211.2 294.3,208.1 294.4,206.5 294.5,208.9 294.6,214.8 294.7,203.1 294.8,205.6 294.9,198.7 295.0,204.9 295.1,200.6 295.2,204.6 295.3,205.7 295.4,205.9 295.5,203.3 295.6,211.2 295.7,200.2 295.8,201.1 295.9,205.7 296.0,213.8 296.1,204.4 296.2,205.0 296.3,196.6 296.4,201.2 296.5,199.7 296.6,195.1 296.7,206.5 296.8,200.8 296.9,198.9 297.0,207.1 297.1,202.9 297.2,196.2 297.3,195.7 297.4,192.6 297.5,196.6 297.6,203.5 297.7,198.1 297.8,201.2 297.9,201.3 298.0,202.2 298.1,192.3 298.2,193.7 298.3,199.0 298.4,203.7 298.5,205.9 298.6,208.1 298.7,202.7 298.8,211.6 298.9,203.6 299.0,209.2 299.1,207.4 299.2,204.5 299.3,201.9 299.4,209.9 299.5,212.5 299.6,210.7 299.7,211.2 299.8,210.2 299.9,209.4 300.0,213.6 300.1,209.0 300.2,216.5 300.3,207.6 300.4,209.4 300.5,213.2 300.6,207.1 300.7,207.8 300.8,212.1 300.9,221.4 301.0,221.5 301.1,216.2 301.2,211.9 301.3,215.9 301.4,215.0 301.5,214.5 301.6,220.4 301.7,212.8 301.8,221.4 301.9,220.7 302.0,224.4 302.1,225.6 302.2,222.8 302.3,226.2 302.4,224.2 302.5,216.7 302.6,222.4 302.7,225.3 302.8,219.4 302.9,224.6 303.0,219.0 303.1,221.0 303.2,226.9 303.3,226.4 303.4,223.3 303.5,228.6 303.6,227.7 303.7,223.6 303.8,226.8 303.9,226.3 304.0,222.8 304.1,226.8 304.2,226.2 304.3,221.5 304.4,226.8 304.5,220.9 304.6,230.5 304.7,232.0 304.8,229.5 304.9,232.6 305.0,236.3 305.1,226.8 305.2,227.1 305.3,231.5 305.4,229.4 305.5,228.9 305.6,232.5 305.7,226.2 305.8,231.9 305.9,230.6 306.0,217.4 306.1,221.7 306.2,222.4 306.3,219.5 306.4,221.8 306.5,213.0 306.6,217.2 306.7,216.0 306.8,215.8 306.9,210.4 307.0,224.6 307.1,214.9 307.2,217.2 307.3,217.6 307.4,213.9 307.5,215.5 307.6,223.5 307.7,214.9 307.8,215.6 307.9,212.0 308.0,224.3 308.1,216.6 308.2,217.6 308.3,214.0 308.4,214.5 308.5,222.9 308.6,212.1 308.7,214.8 308.8,219.2 308.9,212.2 309.0,213.0 309.1,205.9 309.2,208.1 309.3,216.0 309.4,208.9 309.5,210.8 309.6,212.5 309.7,210.5 309.8,204.5 309.9,208.7 310.0,205.8 310.1,211.3 310.2,207.5 310.3,212.6 310.4,213.8 310.5,208.8 310.6,211.4 310.7,201.7 310.8,210.2 310.9,199.9 311.0,203.9 311.1,206.9 311.2,205.1 311.3,206.1 311.4,199.4 311.5,205.9 311.6,209.7 311.7,206.9 311.8,210.7 311.9,209.6 312.0,211.3 312.1,212.0 312.2,208.8 312.3,210.6 312.4,209.5 312.5,211.8 312.6,209.7 312.7,210.5 312.8,204.5 312.9,201.1 313.0,209.9 313.1,209.7 313.2,216.0 313.3,217.4 313.4,209.9 313.5,216.3 313.6,201.8 313.7,209.3 313.8,206.5 313.9,216.2 314.0,221.1 314.1,218.1 314.2,219.7 314.3,213.9 314.4,222.7 314.5,223.4 314.6,214.5 314.7,224.0 314.8,222.2 314.9,213.6 315.0,211.6 315.1,227.4 315.2,232.5 315.3,226.7 315.4,223.0 315.5,222.1 315.6,225.5 315.7,226.9 315.8,219.4 315.9,225.2 316.0,225.5 316.1,220.7 316.2,217.0 316.3,222.5 316.4,214.7 316.5,227.2 316.6,225.9 316.7,235.0 316.8,228.5 316.9,226.0 317.0,227.7 317.1,227.7 317.2,228.9 317.3,232.6 317.4,231.5 317.5,230.1 317.6,228.8 317.7,231.0 317.8,228.6 317.9,233.5 318.0,227.3 318.1,225.2 318.2,229.3 318.3,228.3 318.4,229.3 318.5,225.4 318.6,228.4 318.7,235.2 318.8,226.3 318.9,222.7 319.0,228.8 319.1,229.8 319.2,230.0 319.3,224.1 319.4,231.6 319.5,226.7 319.6,228.4 319.7,233.2 319.8,226.2 319.9,222.3 320.0,223.8 320.1,224.7 320.2,228.9 320.3,222.7 320.4,222.5 320.5,220.9 320.6,214.4 320.7,220.6 320.8,217.5 320.9,219.6 321.0,209.9 321.1,217.8 321.2,207.7 321.3,221.4 321.4,220.7 321.5,213.8 321.6,217.3 321.7,211.5 321.8,211.1 321.9,209.7 322.0,216.4 322.1,213.2 322.2,213.0 322.3,220.1 322.4,218.9 322.5,215.0 322.6,219.4 322.7,217.9 322.8,213.8 322.9,217.9 323.0,223.1 323.1,217.8 323.2,216.5 323.3,213.5 323.4,205.3 323.5,209.2 323.6,209.1 323.7,211.1 323.8,204.3 323.9,204.3 324.0,122.7 324.1,127.5 324.2,126.8 324.3,133.9 324.4,133.8 324.5,134.9 324.6,138.3 324.7,130.8 324.8,133.1 324.9,131.1 325.0,129.9 325.1,126.7 325.2,134.4 325.3,127.2 325.4,129.6 325.5,128.8 325.6,127.4 325.7,130.7 325.8,132.4 325.9,127.5 326.0,135.6 326.1,135.2 326.2,141.3 326.3,135.3 326.4,135.2 326.5,132.4 326.6,131.8 326.7,131.6 326.8,138.8 326.9,139.6 327.0,135.4 327.1,141.5 327.2,143.1 327.3,140.9 327.4,145.7 327.5,146.3 327.6,139.5 327.7,142.6 327.8,139.0 327.9,145.2 328.0,149.5 328.1,140.8 328.2,143.2 328.3,140.9 328.4,145.1 328.5,143.8 328.6,145.8 328.7,149.2 328.8,147.4 328.9,150.4 329.0,145.6 329.1,144.4 329.2,147.0 329.3,154.3 329.4,146.7 329.5,161.0 329.6,155.4 329.7,156.0 329.8,152.6 329.9,157.4 330.0,156.4 330.1,149.5 330.2,149.3 330.3,158.2 330.4,157.5 330.5,158.7 330.6,166.1 330.7,153.9 330.8,161.0 330.9,158.0 331.0,158.8 331.1,165.9 331.2,159.1 331.3,165.9 331.4,172.3 331.5,167.7 331.6,164.6 331.7,168.6 331.8,166.0 331.9,156.1 332.0,158.6 332.1,163.9 332.2,164.4 332.3,157.3 332.4,166.7 332.5,173.0 332.6,161.7 332.7,165.8 332.8,169.7 332.9,164.1 333.0,161.7 333.1,160.6 333.2,155.6 333.3,156.7 333.4,151.6 333.5,157.4 333.6,161.1 333.7,158.2 333.8,155.1 333.9,148.7 334.0,147.1 334.1,159.2 334.2,157.9 334.3,152.0 334.4,145.3 334.5,154.4 334.6,148.8 334.7,152.5 334.8,152.3 334.9,150.0 335.0,141.6 335.1,146.2 335.2,143.6 335.3,142.0 335.4,140.0 335.5,142.4 335.6,138.4 335.7,137.6 335.8,140.5 335.9,143.4 336.0,142.3 336.1,140.0 336.2,138.8 336.3,141.8 336.4,142.2 336.5,139.5 336.6,144.7 336.7,129.4 336.8,134.8 336.9,138.7 337.0,140.7 337.1,134.0 337.2,140.7 337.3,138.4 337.4,132.0 337.5,135.7 337.6,131.9 337.7,134.6 337.8,135.2 337.9,136.6 338.0,130.8 338.1,132.9 338.2,133.4 338.3,135.1 338.4,128.1 338.5,132.2 338.6,127.5 338.7,132.3 338.8,134.2 338.9,123.9 339.0,128.6 339.1,126.8 339.2,124.5 339.3,119.8 339.4,128.5 339.5,130.4 339.6,131.7 339.7,132.9 339.8,136.3 339.9,142.0 340.0,132.5 340.1,137.8 340.2,124.6 340.3,135.0 340.4,131.2 340.5,132.4 340.6,129.6 340.7,122.5 340.8,133.6 340.9,129.9 341.0,133.1 341.1,138.6 341.2,133.2 341.3,134.4 341.4,137.1 341.5,137.9 341.6,132.8 341.7,125.8 341.8,137.9 341.9,138.9 342.0,145.5 342.1,132.0 342.2,147.4 342.3,144.1 342.4,147.8 342.5,141.6 342.6,141.5 342.7,143.4 342.8,146.4 342.9,139.5 343.0,138.1 343.1,140.6 343.2,154.2 343.3,147.6 343.4,144.5 343.5,142.1 343.6,156.7 343.7,139.5 343.8,144.9 343.9,142.0 344.0,152.9 344.1,151.2 344.2,156.4 344.3,156.9 344.4,157.4 344.5,161.8 344.6,151.3 344.7,153.4 344.8,159.3 344.9,165.0 345.0,154.3 345.1,167.3 345.2,162.4 345.3,163.1 345.4,161.7 345.5,158.7 345.6,157.7 345.7,160.9 345.8,165.7 345.9,157.0 346.0,155.4 346.1,157.4 346.2,152.1 346.3,163.7 346.4,160.3 346.5,161.8 346.6,161.5 346.7,155.0 346.8,157.8 346.9,161.5 347.0,155.7 347.1,159.6 347.2,160.8 347.3,159.1 347.4,161.0 347.5,156.1 347.6,157.7 347.7,155.6 347.8,153.3 347.9,151.4 348.0,156.2 348.1,145.5 348.2,156.4 348.3,151.7 348.4,153.3 348.5,148.5 348.6,152.8 348.7,150.5 348.8,142.5 348.9,150.3 349.0,142.2 349.1,144.9 349.2,146.4 349.3,140.4 349.4,143.9 349.5,137.0 349.6,151.8 349.7,144.7 349.8,142.7 349.9,139.4 350.0,139.7 350.1,144.0 350.2,132.9 350.3,132.9 350.4,136.0 350.5,138.9 350.6,133.4 350.7,133.7 350.8,134.0 350.9,137.0 351.0,128.1 351.1,133.0 351.2,131.1 351.3,136.2 351.4,132.4 351.5,127.8 351.6,132.9 351.7,126.5 351.8,129.0 351.9,121.2 352.0,128.6 352.1,115.3 352.2,120.3 352.3,123.0 352.4,126.9 352.5,125.0 352.6,119.0 352.7,131.6 352.8,134.3 352.9,126.2 353.0,122.7 353.1,126.2 353.2,128.4 353.3,125.9 353.4,127.4 353.5,120.9 353.6,119.1 353.7,127.2 353.8,128.3 353.9,130.2 354.0,134.4 354.1,131.3 354.2,134.5 354.3,129.2 354.4,133.2 354.5,134.0 354.6,124.1 354.7,139.5 354.8,129.2 354.9,131.8 355.0,133.8 355.1,137.5 355.2,140.2 355.3,134.3 355.4,133.4 355.5,144.2 355.6,136.7 355.7,136.6 355.8,139.9 355.9,137.6 356.0,139.9 356.1,141.5 356.2,136.5 356.3,143.8 356.4,143.9 356.5,144.2 356.6,147.1 356.7,145.5 356.8,136.7 356.9,144.5 357.0,132.9 357.1,148.2 357.2,153.6 357.3,150.1 357.4,149.5 357.5,140.6 357.6,142.0 357.7,146.7 357.8,144.2 357.9,146.5 358.0,138.0 358.1,148.4 358.2,147.7 358.3,150.1 358.4,151.9 358.5,153.4 358.6,155.4 358.7,155.5 358.8,152.5 358.9,160.6 359.0,154.1 359.1,161.1 359.2,163.8 359.3,162.1 359.4,160.9 359.5,160.2 359.6,166.3 359.7,169.6 359.8,164.3 359.9,160.4 360.0,160.6 360.1,157.5 360.2,156.3 360.3,153.1 360.4,159.6 360.5,155.9 360.6,154.1 360.7,155.1 360.8,153.0 360.9,156.8 361.0,148.6 361.1,150.4 361.2,151.1 361.3,152.1 361.4,147.5 361.5,150.0 361.6,152.7 361.7,145.1 361.8,151.8 361.9,147.3 362.0,148.5 362.1,150.2 362.2,150.3 362.3,153.2 362.4,147.6 362.5,146.0 362.6,137.3 362.7,138.5 362.8,140.2 362.9,138.8 363.0,149.8 363.1,142.9 363.2,145.5 363.3,140.3 363.4,142.5 363.5,142.9 363.6,141.3 363.7,139.5 363.8,142.8 363.9,143.6 364.0,137.1 364.1,141.8 364.2,136.8 364.3,139.5 364.4,135.8 364.5,137.2 364.6,130.5 364.7,136.9 364.8,142.9 364.9,137.9 365.0,137.5 365.1,132.2 365.2,132.6 365.3,125.0 365.4,126.2 365.5,122.9 365.6,121.6 365.7,122.6 365.8,123.0 365.9,127.7 366.0,124.7 366.1,125.8 366.2,121.7 366.3,127.6 366.4,123.2 366.5,127.1 366.6,121.3 366.7,119.7 366.8,118.6 366.9,124.2 367.0,115.7 367.1,127.6 367.2,120.8 367.3,122.8 367.4,120.4 367.5,126.8 367.6,120.5 367.7,124.2 367.8,120.2 367.9,116.4 368.0,124.1 368.1,125.1 368.2,126.7 368.3,127.6 368.4,126.9 368.5,128.9 368.6,131.1 368.7,126.5 368.8,131.2 368.9,129.2 369.0,132.7 369.1,118.1 369.2,122.9 369.3,130.4 369.4,123.6 369.5,130.1 369.6,131.3 369.7,136.3 369.8,137.1 369.9,132.9 370.0,135.8 370.1,134.8 370.2,135.1 370.3,140.0 370.4,141.3 370.5,138.0 370.6,146.8 370.7,140.1 370.8,135.1 370.9,141.0 371.0,134.3 371.1,141.9 371.2,145.0 371.3,140.1 371.4,143.1 371.5,142.8 371.6,146.0 371.7,142.0 371.8,144.8 371.9,144.3 372.0,141.1 372.1,150.8 372.2,150.1 372.3,147.1 372.4,146.9 372.5,149.2 372.6,154.6 372.7,152.0 372.8,155.2 372.9,156.0 373.0,161.7 373.1,163.8 373.2,151.1 373.3,151.3 373.4,160.8 373.5,156.2 373.6,157.4 373.7,158.6 373.8,154.3 373.9,156.8 374.0,161.3 374.1,155.9 374.2,154.6 374.3,158.6 374.4,151.5 374.5,149.8 374.6,151.8 374.7,148.9 374.8,151.3 374.9,148.3 375.0,152.2 375.1,156.3 375.2,153.4 375.3,145.2 375.4,146.1 375.5,152.6 375.6,149.4 375.7,149.5 375.8,151.5 375.9,148.5 376.0,143.2 376.1,145.4 376.2,144.8 376.3,151.7 376.4,137.5 376.5,148.6 376.6,146.5 376.7,145.3 376.8,147.2 376.9,142.0 377.0,152.3 377.1,140.8 377.2,138.2 377.3,139.1 377.4,140.5 377.5,133.7 377.6,143.4 377.7,135.5 377.8,136.3 377.9,139.9 378.0,142.2 378.1,139.4 378.2,137.5 378.3,135.0 378.4,135.1 378.5,131.9 378.6,132.9 378.7,133.4 378.8,135.0 378.9,131.6 379.0,126.1 379.1,133.9 379.2,131.2 379.3,129.2 379.4,123.3 379.5,124.6 379.6,122.8 379.7,125.8 379.8,122.2 379.9,120.1 380.0,126.0 380.1,126.4 380.2,133.4 380.3,130.5 380.4,125.6 380.5,130.5 380.6,127.3 380.7,120.1 380.8,124.9 380.9,119.7 381.0,112.0 381.1,118.9 381.2,113.0 381.3,115.1 381.4,122.7 381.5,120.3 381.6,117.8 381.7,116.9 381.8,115.6 381.9,118.7 382.0,122.0 382.1,126.9 382.2,119.8 382.3,126.9 382.4,118.7 382.5,116.4 382.6,128.1 382.7,116.6 382.8,124.0 382.9,122.5 383.0,125.5 383.1,121.7 383.2,125.9 383.3,124.6 383.4,127.1 383.5,130.7 383.6,131.3 383.7,126.5 383.8,125.4 383.9,129.7 384.0,135.2 384.1,134.8 384.2,132.6 384.3,124.9 384.4,136.2 384.5,138.0 384.6,135.6 384.7,132.9 384.8,134.4 384.9,142.8 385.0,139.4 385.1,141.4 385.2,139.5 385.3,145.9 385.4,145.8 385.5,145.3 385.6,142.6 385.7,132.7 385.8,137.0 385.9,139.6 386.0,148.4 386.1,149.5 386.2,142.9 386.3,146.8 386.4,144.6 386.5,145.4 386.6,145.6 386.7,153.5 386.8,143.0 386.9,139.6 387.0,145.5 387.1,148.8 387.2,150.1 387.3,151.2 387.4,156.0 387.5,151.5 387.6,150.3 387.7,146.8 387.8,155.8 387.9,155.0 388.0,153.9 388.1,151.2 388.2,144.6 388.3,148.0 388.4,148.7 388.5,155.2 388.6,144.7 388.7,156.8 388.8,148.1 388.9,147.3 389.0,148.1 389.1,152.1 389.2,145.8 389.3,146.2 389.4,142.1 389.5,158.0 389.6,148.3 389.7,155.5 389.8,147.0 389.9,143.4 390.0,136.1 390.1,139.6 390.2,138.5 390.3,141.6 390.4,137.4 390.5,136.0 390.6,138.5 390.7,142.1 390.8,138.3 390.9,135.5 391.0,136.5 391.1,144.4 391.2,136.8 391.3,136.8 391.4,142.7 391.5,129.5 391.6,132.7 391.7,140.0 391.8,135.5 391.9,135.1 392.0,136.7 392.1,130.1 392.2,129.5 392.3,129.9 392.4,125.6 392.5,136.8 392.6,123.5 392.7,128.6 392.8,130.9 392.9,125.4 393.0,129.6 393.1,130.1 393.2,121.6 393.3,126.3 393.4,129.2 393.5,128.0 393.6,121.9 393.7,120.9 393.8,124.1 393.9,116.7 394.0,120.5 394.1,120.6 394.2,117.7 394.3,122.6 394.4,124.4 394.5,118.8 394.6,114.9 394.7,117.9 394.8,113.6 394.9,112.5 395.0,115.8 395.1,112.9 395.2,115.7 395.3,114.0 395.4,115.0 395.5,120.3 395.6,117.7 395.7,119.9 395.8,120.2 395.9,125.6 396.0,121.5 396.1,117.4 396.2,120.9 396.3,122.4 396.4,123.5 396.5,127.2 396.6,125.4 396.7,118.4 396.8,123.1 396.9,123.0 397.0,119.0 397.1,126.7 397.2,129.8 397.3,124.6 397.4,126.7 397.5,136.4 397.6,130.0 397.7,131.3 397.8,130.1 397.9,131.3 398.0,135.6 398.1,133.7 398.2,125.4 398.3,131.4 398.4,131.6 398.5,127.5 398.6,136.0 398.7,132.0 398.8,128.5 398.9,134.9 399.0,134.3 399.1,136.8 399.2,137.1 399.3,134.5 399.4,136.4 399.5,137.2 399.6,139.0 399.7,146.2 399.8,140.2 399.9,138.6 400.0,140.0 400.1,140.9 400.2,144.9 400.3,140.8 400.4,134.7 400.5,138.6 400.6,146.8 400.7,139.1 400.8,149.6 400.9,149.7 401.0,146.4 401.0,145.8 401.1,151.2 401.2,144.8 401.3,149.4 401.4,146.0 401.5,156.9 401.6,148.6 401.7,146.7 401.8,142.9 401.9,155.0 402.0,146.8 402.1,152.3 402.2,145.4 402.3,149.4 402.4,149.0 402.5,147.1 402.6,148.6 402.7,152.6 402.8,147.6 402.9,136.7 403.0,145.1 403.1,139.9 403.2,142.7 403.3,138.5 403.4,142.6 403.5,139.0 403.6,144.7 403.7,137.7 403.8,127.9 403.9,140.7 404.0,138.2 404.1,134.0 404.2,139.9 404.3,144.2 404.4,141.8 404.5,135.6 404.6,131.3 404.7,136.1 404.8,136.5 404.9,132.3 405.0,134.6 405.1,129.6 405.2,126.9 405.3,133.1 405.4,126.5 405.5,129.6 405.6,131.3 405.7,130.8 405.8,125.7 405.9,133.1 406.0,133.0 406.1,125.4 406.2,121.5 406.3,126.7 406.4,126.0 406.5,136.4 406.6,132.0 406.7,128.4 406.8,127.5 406.9,122.1 407.0,124.1 407.1,121.6 407.2,122.3 407.3,116.8 407.4,115.9 407.5,114.7 407.6,113.5 407.7,118.2 407.8,119.1 407.9,122.3 408.0,121.0 408.1,112.4 408.2,112.9 408.3,113.4 408.4,115.3 408.5,116.9 408.6,120.0 408.7,115.1 408.8,117.4 408.9,125.3 409.0,112.2 409.1,119.0 409.2,113.0 409.3,107.6 409.4,105.5 409.5,112.0 409.6,109.0 409.7,109.8 409.8,115.0 409.9,116.6 410.0,123.4 410.1,117.9 410.2,121.4 410.3,120.8 410.4,121.0 410.5,118.1 410.6,125.9 410.7,128.3 410.8,128.3 410.9,118.4 411.0,131.9 411.1,129.1 411.2,136.4 411.3,132.9 411.4,136.5 411.5,132.3 411.6,125.9 411.7,123.4 411.8,127.6 411.9,125.0 412.0,127.8 412.1,131.1 412.2,128.1 412.3,126.6 412.4,130.3 412.5,134.7 412.6,137.1 412.7,137.1 412.8,139.4 412.9,136.1 413.0,144.6 413.1,133.9 413.2,136.2 413.3,132.6 413.4,125.7 413.5,127.2 413.6,136.0 413.7,139.0 413.8,137.3 413.9,137.2 414.0,142.4 414.1,140.0 414.2,142.3 414.3,150.7 414.4,137.3 414.5,142.5 414.6,139.2 414.7,144.7 414.8,144.0 414.9,147.8 415.0,142.0 415.1,142.0 415.2,140.8 415.3,142.6 415.4,145.1 415.5,150.1 415.6,148.4 415.7,146.2 415.8,158.9 415.9,152.2 416.0,147.2 416.1,140.8 416.2,138.0 416.3,137.4 416.4,144.2 416.5,141.7 416.6,146.4 416.7,147.9 416.8,145.4 416.9,145.4 417.0,143.4 417.1,150.5 417.2,148.0 417.3,148.1 417.4,138.4 417.5,134.9 417.6,141.0 417.7,138.7 417.8,133.2 417.9,130.0 418.0,137.4 418.1,134.3 418.2,131.4 418.3,137.4 418.4,128.5 418.5,132.6 418.6,132.9 418.7,138.4 418.8,129.8 418.9,138.8 419.0,135.5 419.1,133.8 419.2,130.3 419.3,133.4 419.4,132.3 419.5,127.4 419.6,128.0 419.7,126.6 419.8,124.7 419.9,123.6 420.0,121.6 420.1,126.4 420.2,128.2 420.3,117.8 420.4,129.3 420.5,128.1 420.6,127.4 420.7,114.5 420.8,121.1 420.9,117.4 421.0,124.6 421.1,121.5 421.2,116.8 421.3,118.9 421.4,118.2 421.5,116.5 421.6,116.7 421.7,114.9 421.8,113.3 421.9,112.9 422.0,110.9 422.1,109.7 422.2,117.2 422.3,113.6 422.4,110.0 422.5,113.4 422.6,110.7 422.7,102.7 422.8,107.6 422.9,103.8 423.0,105.8 423.1,115.3 423.2,118.0 423.3,115.1 423.4,109.8 423.5,123.7 423.6,112.2 423.7,108.5 423.8,112.9 423.9,115.2 424.0,118.1 424.1,122.1 424.2,114.2 424.3,118.3 424.4,115.6 424.5,118.8 424.6,113.0 424.7,118.0 424.8,120.2 424.9,122.7 425.0,126.4 425.1,124.1 425.2,120.7 425.3,125.7 425.4,132.5 425.5,126.1 425.6,116.8 425.7,126.3 425.8,123.9 425.9,133.4 426.0,130.9 426.1,132.8 426.2,126.8 426.3,126.0 426.4,125.2 426.5,124.9 426.6,129.9 426.7,124.0 426.8,133.3 426.9,129.6 427.0,124.2 427.1,133.6 427.2,129.0 427.3,130.3 427.4,129.5 427.5,131.6 427.6,132.5 427.7,133.6 427.8,132.5 427.9,143.3 428.0,137.3 428.1,139.1 428.2,142.4 428.3,135.3 428.4,137.2 428.5,142.0 428.6,144.9 428.7,146.2 428.8,143.3 428.9,148.9 429.0,143.4 429.1,144.6 429.2,144.4 429.3,150.9 429.4,149.3 429.5,142.1 429.6,147.9 429.7,150.6 429.8,151.6 429.9,147.7 430.0,155.4 430.1,145.0 430.2,145.3 430.3,150.5 430.4,143.1 430.5,153.9 430.6,147.3 430.7,144.2 430.8,138.4 430.9,148.7 431.0,150.7 431.1,143.7 431.2,141.1 431.3,142.5 431.4,141.6 431.5,129.3 431.6,138.5 431.7,139.6 431.8,135.3 431.9,126.7 432.0,130.0 432.1,133.0 432.2,138.2 432.3,131.6 432.4,120.7 432.5,127.0 432.6,121.4 432.7,130.5 432.8,127.6 432.9,129.8 433.0,120.3 433.1,130.4 433.2,128.2 433.3,130.1 433.4,137.4 433.5,125.3 433.6,131.4 433.7,125.5 433.8,127.8 433.9,123.1 434.0,121.1 434.1,124.5 434.2,117.2 434.3,126.9 434.4,122.4 434.5,117.3 434.6,120.5 434.7,120.9 434.8,111.9 434.9,116.3 435.0,122.3 435.1,116.4 435.2,120.2 435.3,112.9 435.4,120.3 435.5,112.4 435.6,114.3 435.7,114.0 435.8,115.5 435.9,116.2 436.0,120.3 436.1,115.0 436.2,110.6 436.3,110.8 436.4,112.7 436.5,105.0 436.6,113.8 436.7,113.2 436.8,114.8 436.9,113.6 437.0,113.6 437.1,109.3 437.2,108.8 437.3,191.3 437.4,199.1 437.5,195.4 437.6,194.6 437.7,200.7 437.8,205.6 437.9,199.2 438.0,190.8 438.1,199.4 438.2,198.6 438.3,196.3 438.4,203.7 438.5,203.0 438.6,201.0 438.7,198.1 438.8,202.9 438.9,206.7 439.0,213.2 439.1,201.7 439.2,212.6 439.3,203.7 439.4,209.8 439.5,202.6 439.6,200.7 439.7,212.5 439.8,207.6 439.9,208.4 440.0,206.4 440.1,212.1 440.2,208.2 440.3,212.0 440.4,215.4 440.5,208.4 440.6,209.6 440.7,212.1 440.8,214.6 440.9,210.9 441.0,206.6 441.1,216.5 441.2,207.4 441.3,201.6 441.4,213.7 441.5,211.6 441.6,214.2 441.7,214.3 441.8,214.2 441.9,223.9 442.0,221.7 442.1,224.9 442.2,222.9 442.3,216.8 442.4,228.9 442.5,226.0 442.6,227.9 442.7,224.5 442.8,223.3 442.9,226.3 443.0,227.9 443.1,226.7 443.2,231.0 443.3,238.4 443.4,224.8 443.5,228.7 443.6,231.4 443.7,227.9 443.8,221.5 443.9,227.1 444.0,222.9 444.1,225.7 444.2,221.8 444.3,236.4 444.4,231.9 444.5,222.0 444.6,227.1 444.7,221.7 444.8,223.8 444.9,228.9 445.0,219.6 445.1,217.4 445.2,222.3 445.3,227.1 445.4,221.7 445.5,213.7 445.6,221.4 445.7,221.6 445.8,215.4 445.9,218.5 446.0,223.9 446.1,220.8 446.2,215.8 446.3,217.4 446.4,216.3 446.5,212.7 446.6,215.6 446.7,214.3 446.8,210.9 446.9,213.5 447.0,213.1 447.1,216.9 447.2,220.5 447.3,220.5 447.4,215.1 447.5,207.5 447.6,216.0 447.7,206.7 447.8,207.2 447.9,211.6 448.0,211.6 448.1,207.4 448.2,209.3 448.3,211.4 448.4,210.8 448.5,204.1 448.6,213.8 448.7,204.7 448.8,197.0 448.9,201.9 449.0,191.0 449.1,199.1 449.2,199.6 449.3,198.0 449.4,204.2 449.5,203.0 449.6,200.5 449.7,202.2 449.8,197.2 449.9,195.1 450.0,201.0 450.1,198.0 450.2,197.9 450.3,201.2 450.4,193.8 450.5,195.9 450.6,202.5 450.7,200.8 450.8,205.5 450.9,203.3 451.0,200.1 451.1,200.7 451.2,199.4 451.3,201.5 451.4,196.6 451.5,197.5 451.6,204.0 451.7,198.4 451.8,191.6 451.9,204.3 452.0,199.2 452.1,195.5 452.2,206.5 452.3,204.5 452.4,214.6 452.5,204.2 452.6,208.6 452.7,209.5 452.8,210.6 452.9,209.1 453.0,209.5 453.1,208.5 453.2,211.4 453.3,212.9 453.4,211.2 453.5,211.2 453.6,215.1 453.7,219.2 453.8,215.7 453.9,222.0 454.0,220.1 454.1,222.9 454.2,223.0 454.3,218.1 454.4,215.2 454.5,205.2 454.6,213.3 454.7,209.3 454.8,212.2 454.9,214.5 455.0,219.7 455.1,219.4 455.2,218.6 455.3,227.3 455.4,220.0 455.5,221.3 455.6,225.3 455.7,225.5 455.8,219.6 455.9,218.4 456.0,225.3 456.1,222.3 456.2,224.4 456.3,232.9 456.4,232.6 456.5,227.6 456.6,231.5 456.7,229.5 456.8,228.8 456.9,232.2 457.0,233.0 457.1,235.1 457.2,223.4 457.3,236.0 457.4,232.7 457.5,228.6 457.6,233.4 457.7,236.7 457.8,236.0 457.9,227.4 458.0,225.8 458.1,233.6 458.2,230.8 458.3,223.3 458.4,217.6 458.5,227.9 458.6,226.1 458.7,236.0 458.8,236.9 458.9,239.6 459.0,233.3 459.1,232.4 459.2,230.4 459.3,237.3 459.4,221.4 459.5,226.4 459.6,215.7 459.7,222.4 459.8,227.9 459.9,221.9 460.0,225.0 460.1,214.2 460.2,218.5 460.3,215.9 460.4,222.0 460.5,222.2 460.6,220.8 460.7,221.9 460.8,225.6 460.9,220.6 461.0,217.6 461.1,222.0 461.2,221.6 461.3,220.5 461.4,216.7 461.5,218.6 461.6,215.1 461.7,213.1 461.8,217.7 461.9,217.4 462.0,218.5 462.1,209.8 462.2,213.9 462.3,212.2 462.4,212.6 462.5,205.8 462.6,208.8 462.7,214.0 462.8,207.0 462.9,209.0 463.0,204.8 463.1,206.7 463.2,206.3 463.3,209.9 463.4,201.8 463.5,201.1 463.6,210.4 463.7,210.1 463.8,209.0 463.9,211.2 464.0,208.8 464.1,209.2 464.2,208.0 464.3,198.9 464.4,207.5 464.5,198.6 464.6,206.2 464.7,204.2 464.8,208.7 464.9,206.3 465.0,208.4 465.1,201.7 465.2,207.9 465.3,205.3 465.4,204.4 465.5,202.6 465.6,209.5 465.7,200.7 465.8,210.9 465.9,207.3 466.0,218.4 466.1,215.5 466.2,215.8 466.3,216.6 466.4,216.5 466.5,211.4 466.6,214.2 466.7,206.2 466.8,211.7 466.9,212.1 467.0,221.8 467.1,211.0 467.2,210.0 467.3,220.3 467.4,218.2 467.5,220.5 467.6,213.0 467.7,226.2 467.8,225.6 467.9,230.0 468.0,222.0 468.1,219.1 468.2,224.0 468.3,217.6 468.4,221.9 468.5,226.5 468.6,222.7 468.7,221.5 468.8,221.9 468.9,226.3 469.0,222.5 469.1,227.4 469.2,224.5 469.3,221.3 469.4,227.8 469.5,231.2 469.6,232.8 469.7,232.6 469.8,233.4 469.9,231.4 470.0,234.6 470.1,231.7 470.2,237.7 470.3,236.1 470.4,235.8 470.5,229.5 470.6,230.7 470.7,226.7 470.8,233.3 470.9,237.2 471.0,231.9 471.1,233.5 471.2,238.4 471.3,234.4 471.4,231.0 471.5,238.3 471.6,240.7 471.7,238.7 471.8,243.0 471.9,233.7 472.0,243.6 472.1,240.9 472.2,233.3 472.3,235.7 472.4,237.3 472.5,229.9 472.6,231.0 472.7,241.7 472.8,235.3 472.9,234.1 473.0,231.2 473.1,234.8 473.2,230.2 473.3,233.2 473.4,230.0 473.5,224.6 473.6,227.3" fill="none" stroke="#b8b8b8" stroke-width="0.6"/>
<polyline points="74.0,195.4 74.5,195.4 74.5,195.4 75.0,195.4 75.0,195.4 75.5,195.4 75.5,195.4 76.0,195.4 76.0,195.4 76.5,195.4 76.5,157.5 77.0,195.4 77.0,168.7 77.5,157.5 77.5,155.5 78.0,166.5 78.0,165.2 78.5,155.9 78.5,157.3 79.0,168.2 79.0,162.7 79.5,156.3 79.5,154.3 80.0,163.8 80.0,163.3 80.5,155.7 80.5,153.3 81.0,163.6 81.0,164.0 81.5,155.2 81.5,157.0 82.0,166.5 82.0,165.3 82.5,157.3 82.5,160.4 83.0,166.9 83.0,171.3 83.5,156.4 83.5,161.6 84.0,168.7 84.0,173.1 84.5,160.9 84.5,163.5 85.0,172.6 85.0,169.8 85.5,164.1 85.5,163.3 86.0,172.5 86.0,173.1 86.5,165.7 86.5,165.4 87.0,174.0 87.0,173.9 87.5,162.7 87.5,161.3 88.0,173.4 88.0,172.0 88.5,164.1 88.5,163.1 89.0,171.8 89.0,172.1 89.5,163.9 89.5,162.8 90.0,170.3 90.0,173.6 90.5,162.8 90.5,162.4 91.0,174.2 91.0,171.1 91.5,163.8 91.5,165.5 92.0,174.0 92.0,173.0 92.5,164.5 92.5,162.9 93.0,173.9 93.0,172.3 93.5,165.4 93.5,164.4 94.0,171.4 94.0,173.4 94.5,163.6 94.5,163.9 95.0,174.8 95.0,173.6 95.5,166.0 95.5,166.4 96.0,175.5 96.0,173.7 96.5,164.2 96.5,168.4 97.0,173.6 97.0,178.9 97.5,165.1 97.5,167.6 98.0,176.4 98.0,178.4 98.5,168.4 98.5,168.5 99.0,179.7 99.0,177.8 99.5,170.4 99.5,171.2 100.0,179.3 100.0,177.9 100.5,170.0 100.5,171.1 101.0,179.4 101.0,179.0 101.5,170.0 101.5,172.7 102.0,181.0 102.0,181.4 102.5,171.3 102.5,172.5 103.0,180.8 103.0,181.7 103.5,172.6 103.5,173.8 104.0,184.3 104.0,180.9 104.5,173.4 104.5,172.6 105.0,182.8 105.0,180.6 105.5,173.1 105.5,173.0 106.0,179.5 106.0,181.3 106.5,171.2 106.5,174.0 107.0,182.4 107.0,181.7 107.5,173.4 107.5,172.8 108.0,184.3 108.0,184.3 108.5,174.5 108.5,175.9 109.0,182.6 109.0,183.2 109.5,175.9 109.5,176.4 110.0,184.2 110.0,186.3 110.5,175.9 110.5,173.8 111.0,186.6 111.0,186.4 111.5,173.3 111.5,179.0 112.0,188.7 112.0,187.3 112.5,178.6 112.5,178.6 113.0,191.3 113.0,189.7 113.5,179.5 113.5,176.8 114.0,189.0 114.0,187.8 114.5,176.8 114.5,182.6 115.0,188.7 115.0,191.2 115.5,182.5 115.5,181.8 116.0,191.7 116.0,190.0 116.5,180.8 116.5,179.9 117.0,192.5 117.0,195.8 117.5,185.8 117.5,180.9 118.0,193.9 118.0,193.4 118.5,183.7 118.5,182.8 119.0,189.9 119.0,189.7 119.5,182.0 119.5,181.0 120.0,193.8 120.0,186.8 120.5,67.6 120.5,66.6 121.0,72.2 121.0,72.9 121.5,66.0 121.5,66.4 122.0,72.1 122.0,72.1 122.5,67.6 122.5,65.4 123.0,71.8 123.0,72.1 123.5,66.7 123.5,66.2 124.0,72.0 124.0,74.1 124.5,66.0 124.5,68.4 125.0,73.6 125.0,71.2 125.5,66.7 125.5,64.3 126.0,73.0 126.0,72.4 126.5,66.2 126.5,67.2 127.0,71.7 127.0,70.0 127.5,66.0 127.5,63.8 128.0,71.0 128.0,73.0 128.5,67.5 128.5,66.8 129.0,73.8 129.0,72.2 129.5,68.0 129.5,66.4 130.0,72.1 130.0,72.2 130.5,66.2 130.5,66.8 131.0,73.0 131.0,72.7 131.5,68.7 131.5,66.0 132.0,71.7 132.0,72.3 132.5,67.3 132.5,66.5 133.0,72.8 133.0,74.0 133.5,66.6 133.5,66.5 134.0,73.0 134.0,73.5 134.5,67.2 134.5,65.9 135.0,72.5 135.0,72.7 135.5,66.6 135.5,66.5 136.0,73.8 136.0,73.6 136.5,67.7 136.5,66.6 137.0,73.2 137.0,73.2 137.5,65.2 137.5,68.1 138.0,71.8 138.0,70.7 138.5,65.1 138.5,65.8 139.0,71.4 139.0,71.2 139.5,66.9 139.5,66.4 140.0,72.8 140.0,72.6 140.5,65.5 140.5,67.2 141.0,70.5 141.0,72.2 141.5,67.7 141.5,66.9 142.0,73.4 142.0,72.8 142.5,67.4 142.5,65.5 143.0,73.6 143.0,72.5 143.5,66.9 143.5,67.6 144.0,72.6 144.0,71.2 144.5,66.4 144.5,65.4 145.0,72.3 145.0,71.5 145.5,65.1 145.5,66.6 146.0,71.0 146.0,71.1 146.5,64.7 146.5,64.3 147.0,70.6 147.0,73.1 147.5,66.2 147.5,64.8 148.0,71.3 148.0,70.0 148.5,64.3 148.5,65.6 149.0,68.9 149.0,69.6 149.5,63.9 149.5,63.6 150.0,69.6 150.0,71.0 150.5,60.8 150.5,61.5 151.0,69.6 151.0,69.2 151.5,62.9 151.5,61.6 152.0,71.0 152.0,68.2 152.5,63.1 152.5,63.4 153.0,68.1 153.0,70.4 153.5,65.8 153.5,65.0 154.0,71.3 154.0,71.2 154.5,67.8 154.5,65.4 155.0,69.4 155.0,71.4 155.5,65.3 155.5,65.5 156.0,71.4 156.0,70.7 156.5,64.7 156.5,64.1 157.0,71.0 157.0,71.2 157.5,63.2 157.5,62.3 158.0,69.3 158.0,69.9 158.5,64.8 158.5,63.3 159.0,70.1 159.0,69.0 159.5,63.6 159.5,64.2 160.0,69.2 160.0,69.0 160.5,63.0 160.5,63.9 161.0,67.8 161.0,67.9 161.5,62.0 161.5,61.2 162.0,68.6 162.0,68.7 162.5,62.6 162.5,61.2 163.0,68.9 163.0,68.7 163.5,61.0 163.5,61.7 164.0,68.7 164.0,67.9 164.5,62.6 164.5,60.1 165.0,67.4 165.0,67.6 165.5,60.4 165.5,61.0 166.0,66.5 166.0,65.4 166.5,61.6 166.5,60.2 167.0,68.6 167.0,67.7 167.5,60.4 167.5,61.5 168.0,65.8 168.0,66.6 168.5,61.6 168.5,59.5 169.0,66.5 169.0,65.4 169.5,60.3 169.5,60.4 170.0,66.3 170.0,65.9 170.5,62.4 170.5,62.2 171.0,66.3 171.0,68.1 171.5,61.2 171.5,60.1 172.0,68.2 172.0,66.9 172.5,61.7 172.5,60.0 173.0,65.6 173.0,66.0 173.5,60.3 173.5,59.6 174.0,65.2 174.0,65.0 174.5,59.7 174.5,57.8 175.0,64.8 175.0,66.9 175.5,59.9 175.5,59.8 176.0,66.7 176.0,68.1 176.5,60.8 176.5,61.2 177.0,64.7 177.0,66.8 177.5,57.6 177.5,59.4 178.0,64.9 178.0,65.0 178.5,57.4 178.5,56.9 179.0,64.6 179.0,65.4 179.5,57.3 179.5,57.9 180.0,62.8 180.0,64.0 180.5,59.4 180.5,59.3 181.0,64.7 181.0,63.9 181.5,58.3 181.5,58.3 182.0,64.8 182.0,63.9 182.5,56.8 182.5,57.4 183.0,64.7 183.0,63.0 183.5,57.6 183.5,57.8 184.0,62.6 184.0,63.3 184.5,55.0 184.5,57.0 185.0,62.5 185.0,62.7 185.5,56.4 185.5,57.4 186.0,62.7 186.0,61.9 186.5,57.6 186.5,57.4 187.0,62.9 187.0,63.1 187.5,56.9 187.5,57.7 188.0,64.2 188.0,62.6 188.5,56.8 188.5,55.8 189.0,61.0 189.0,62.7 189.5,57.4 189.5,55.7 190.0,63.1 190.0,61.1 190.5,55.7 190.5,55.5 191.0,61.7 191.0,60.7 191.5,54.1 191.5,57.5 192.0,61.7 192.0,60.8 192.5,53.2 192.5,55.1 193.0,61.5 193.0,60.9 193.5,54.3 193.5,55.1 194.0,59.3 194.0,59.1 194.5,53.6 194.5,53.0 195.0,59.0 195.0,58.7 195.5,54.8 195.5,53.3 196.0,59.0 196.0,58.9 196.5,55.0 196.5,55.6 197.0,58.9 197.0,60.9 197.5,55.1 197.5,54.9 198.0,60.9 198.0,58.7 198.5,55.3 198.5,54.5 199.0,59.6 199.0,61.2 199.5,53.0 199.5,52.5 200.0,59.0 200.0,59.1 200.5,51.9 200.5,52.3 201.0,58.6 201.0,59.6 201.5,52.8 201.5,51.6 202.0,58.2 202.0,58.3 202.5,51.9 202.5,51.3 203.0,56.7 203.0,56.9 203.5,50.9 203.5,53.4 204.0,56.8 204.0,56.7 204.5,50.5 204.5,50.4 205.0,57.2 205.0,57.7 205.5,49.9 205.5,49.8 206.0,58.2 206.0,55.4 206.5,50.8 206.5,50.3 207.0,57.4 207.0,56.2 207.5,50.2 207.5,49.0 208.0,55.9 208.0,57.0 208.5,50.9 208.5,50.2 209.0,56.9 209.0,56.6 209.5,49.9 209.5,47.8 210.0,54.4 210.0,57.5 210.5,49.9 210.5,49.1 211.0,55.2 211.0,55.4 211.5,48.5 211.5,49.8 212.0,55.9 212.0,54.8 212.5,48.8 212.5,49.3 213.0,55.1 213.0,57.4 213.5,51.4 213.5,49.2 214.0,56.4 214.0,56.9 214.5,49.5 214.5,48.8 215.0,54.9 215.0,55.5 215.5,49.4 215.5,46.6 216.0,52.8 216.0,51.8 216.5,46.6 216.5,45.1 217.0,51.0 217.0,53.0 217.5,46.2 217.5,44.8 218.0,51.9 218.0,51.2 218.5,46.0 218.5,45.1 219.0,52.1 219.0,51.5 219.5,46.7 219.5,45.7 220.0,51.2 220.0,51.3 220.5,47.1 220.5,47.0 221.0,52.8 221.0,52.5 221.5,44.7 221.5,47.0 222.0,51.7 222.0,52.7 222.5,46.3 222.5,46.1 223.0,52.6 223.0,51.6 223.5,46.3 223.5,46.3 224.0,51.1 224.0,53.1 224.5,44.5 224.5,45.7 225.0,51.4 225.0,50.2 225.5,44.3 225.5,45.0 226.0,50.1 226.0,48.6 226.5,43.8 226.5,43.5 227.0,50.1 227.0,50.9 227.5,43.7 227.5,45.4 228.0,51.0 228.0,49.5 228.5,45.1 228.5,45.4 229.0,52.7 229.0,53.1 229.5,45.5 229.5,45.5 230.0,54.6 230.0,56.9 230.5,49.0 230.5,50.6 231.0,55.3 231.0,52.7 231.5,48.7 231.5,47.4 232.0,54.1 232.0,53.6 232.5,49.2 232.5,45.9 233.0,54.8 233.0,50.7 233.5,41.7 233.5,36.6 234.0,49.4 234.0,107.5 234.5,36.2 234.5,107.5 235.0,107.5 235.0,107.5 235.5,107.5 235.5,107.5 236.0,107.5 236.0,187.3 236.5,178.1 236.5,180.4 237.0,189.2 237.0,189.9 237.5,179.2 237.5,181.4 238.0,192.2 238.0,191.5 238.5,181.5 238.5,184.4 239.0,193.5 239.0,194.0 239.5,181.9 239.5,183.8 240.0,192.4 240.0,197.3 240.5,184.8 240.5,184.8 241.0,196.0 241.0,193.2 241.5,183.5 241.5,186.1 242.0,195.1 242.0,195.5 242.5,186.2 242.5,183.7 243.0,193.1 243.0,197.4 243.5,185.5 243.5,187.9 244.0,197.2 244.0,195.0 244.5,182.8 244.5,184.5 245.0,194.4 245.0,193.6 245.5,182.7 245.5,184.6 246.0,191.5 246.0,194.7 246.5,183.4 246.5,180.9 247.0,193.1 247.0,194.1 247.5,183.8 247.5,183.9 248.0,196.0 248.0,195.7 248.5,184.3 248.5,181.8 249.0,194.4 249.0,196.9 249.5,184.9 249.5,184.6 250.0,195.9 250.0,198.2 250.5,185.5 250.5,189.1 251.0,198.6 251.0,198.4 251.5,186.6 251.5,187.7 252.0,197.4 252.0,197.0 252.5,188.3 252.5,186.9 253.0,199.6 253.0,201.1 253.5,193.4 253.5,193.2 254.0,200.3 254.0,200.9 254.5,189.2 254.5,193.2 255.0,202.6 255.0,199.8 255.5,189.9 255.5,190.0 256.0,204.1 256.0,200.4 256.5,193.2 256.5,187.9 257.0,202.3 257.0,198.3 257.5,192.1 257.5,192.6 258.0,199.0 258.0,199.8 258.5,187.7 258.5,189.9 259.0,199.9 259.0,197.3 259.5,188.8 259.5,195.0 260.0,200.9 260.0,199.9 260.5,188.2 260.5,190.5 261.0,200.3 261.0,200.6 261.5,192.0 261.5,189.5 262.0,198.7 262.0,199.8 262.5,190.1 262.5,187.1 263.0,201.7 263.0,200.9 263.5,189.2 263.5,193.5 264.0,201.7 264.0,204.4 264.5,195.4 264.5,195.9 265.0,204.5 265.0,206.3 265.5,196.4 265.5,194.3 266.0,207.2 266.0,207.9 266.5,198.1 266.5,200.2 267.0,208.9 267.0,207.4 267.5,199.3 267.5,197.7 268.0,210.6 268.0,208.7 268.5,198.6 268.5,199.5 269.0,209.0 269.0,208.7 269.5,197.8 269.5,199.2 270.0,209.4 270.0,208.4 270.5,200.5 270.5,196.0 271.0,210.8 271.0,209.2 271.5,195.1 271.5,196.4 272.0,207.4 272.0,209.0 272.5,194.9 272.5,195.1 273.0,206.2 273.0,206.6 273.5,195.2 273.5,199.0 274.0,208.7 274.0,207.9 274.5,196.1 274.5,196.0 275.0,207.6 275.0,208.4 275.5,195.6 275.5,196.8 276.0,209.6 276.0,209.6 276.5,197.5 276.5,195.9 277.0,208.5 277.0,207.4 277.5,195.1 277.5,199.4 278.0,207.6 278.0,211.8 278.5,199.8 278.5,200.1 279.0,211.7 279.0,210.3 279.5,200.6 279.5,199.3 280.0,212.1 280.0,211.0 280.5,200.1 280.5,198.5 281.0,212.3 281.0,212.8 281.5,200.8 281.5,205.6 282.0,215.1 282.0,213.4 282.5,200.9 282.5,204.8 283.0,213.6 283.0,216.4 283.5,205.4 283.5,204.4 284.0,215.1 284.0,213.1 284.5,205.3 284.5,204.2 285.0,215.1 285.0,216.0 285.5,201.3 285.5,201.9 286.0,216.6 286.0,213.3 286.5,202.7 286.5,202.4 287.0,215.1 287.0,213.4 287.5,204.3 287.5,201.3 288.0,211.1 288.0,210.2 288.5,201.8 288.5,200.8 289.0,210.3 289.0,208.6 289.5,200.4 289.5,198.7 290.0,208.8 290.0,210.6 290.5,202.0 290.5,199.5 291.0,213.6 291.0,216.6 291.5,203.5 291.5,201.8 292.0,215.0 292.0,217.2 292.5,201.6 292.5,205.8 293.0,215.3 293.0,217.9 293.5,205.7 293.5,207.1 294.0,216.8 294.0,217.8 294.5,207.5 294.5,206.8 295.0,219.0 295.0,218.9 295.5,203.7 295.5,207.4 296.0,218.5 296.0,215.3 296.5,203.8 296.5,209.9 297.0,218.8 297.0,218.8 297.5,206.9 297.5,211.5 298.0,217.2 298.0,218.9 298.5,208.1 298.5,207.0 299.0,220.5 299.0,217.6 299.5,209.3 299.5,208.2 300.0,219.8 300.0,217.2 300.5,205.9 300.5,205.6 301.0,215.3 301.0,220.6 301.5,205.8 301.5,203.9 302.0,216.6 302.0,213.5 302.5,204.3 302.5,207.2 303.0,214.6 303.0,216.3 303.5,208.2 303.5,205.2 304.0,217.1 304.0,217.7 304.5,203.9 304.5,206.6 305.0,217.6 305.0,214.9 305.5,205.4 305.5,205.7 306.0,218.3 306.0,216.9 306.5,212.3 306.5,207.4 307.0,217.2 307.0,217.9 307.5,209.4 307.5,211.1 308.0,219.9 308.0,221.4 308.5,209.7 308.5,206.7 309.0,222.8 309.0,222.9 309.5,211.3 309.5,215.6 310.0,223.7 310.0,224.2 310.5,212.8 310.5,212.3 311.0,222.9 311.0,222.8 311.5,213.2 311.5,213.9 312.0,226.5 312.0,220.0 312.5,212.3 312.5,211.6 313.0,222.1 313.0,218.6 313.5,212.8 313.5,207.7 314.0,221.2 314.0,216.9 314.5,206.3 314.5,207.1 315.0,216.7 315.0,217.3 315.5,206.7 315.5,206.2 316.0,216.8 316.0,216.9 316.5,205.9 316.5,209.6 317.0,221.8 317.0,218.4 317.5,207.4 317.5,209.7 318.0,220.8 318.0,221.0 318.5,205.8 318.5,209.4 319.0,222.5 319.0,220.3 319.5,206.8 319.5,207.4 320.0,219.7 320.0,218.6 320.5,210.0 320.5,211.0 321.0,220.5 321.0,221.3 321.5,207.8 321.5,213.9 322.0,223.4 322.0,226.1 322.5,211.1 322.5,215.4 323.0,226.1 323.0,227.3 323.5,216.2 323.5,212.2 324.0,225.2 324.0,225.4 324.5,215.4 324.5,214.4 325.0,225.2 325.0,224.9 325.5,213.8 325.5,151.3 326.0,220.7 326.0,155.2 326.5,141.8 326.5,147.7 327.0,154.3 327.0,156.8 327.5,144.0 327.5,147.2 328.0,155.7 328.0,153.3 328.5,143.4 328.5,142.9 329.0,154.0 329.0,154.4 329.5,142.5 329.5,144.2 330.0,152.5 330.0,151.1 330.5,145.3 330.5,138.8 331.0,148.1 331.0,151.7 331.5,142.3 331.5,144.4 332.0,152.2 332.0,153.4 332.5,141.8 332.5,140.9 333.0,154.1 333.0,150.7 333.5,140.6 333.5,142.4 334.0,152.6 334.0,151.5 334.5,142.2 334.5,141.9 335.0,153.0 335.0,153.4 335.5,141.6 335.5,138.6 336.0,149.6 336.0,154.6 336.5,140.9 336.5,142.6 337.0,153.8 337.0,153.3 337.5,144.6 337.5,141.9 338.0,155.5 338.0,156.0 338.5,146.4 338.5,146.3 339.0,153.7 339.0,154.1 339.5,144.8 339.5,145.1 340.0,153.3 340.0,152.6 340.5,142.8 340.5,141.3 341.0,149.3 341.0,153.4 341.5,140.8 341.5,140.9 342.0,151.9 342.0,150.0 342.5,140.5 342.5,142.4 343.0,152.2 343.0,150.0 343.5,139.2 343.5,139.5 344.0,150.3 344.0,150.0 344.5,138.5 344.5,138.6 345.0,146.8 345.0,148.5 345.5,136.9 345.5,138.0 346.0,148.1 346.0,146.4 346.5,139.2 346.5,137.9 347.0,149.1 347.0,149.5 347.5,140.1 347.5,138.1 348.0,149.0 348.0,149.7 348.5,141.6 348.5,139.7 349.0,147.7 349.0,152.1 349.5,143.6 349.5,145.3 350.0,152.5 350.0,153.3 350.5,139.2 350.5,143.3 351.0,152.5 351.0,154.0 351.5,145.2 351.5,144.7 352.0,153.4 352.0,154.7 352.5,146.4 352.5,143.9 353.0,156.1 353.0,152.5 353.5,145.2 353.5,145.1 354.0,152.6 354.0,151.6 354.5,141.9 354.5,140.8 355.0,152.6 355.0,150.1 355.5,139.8 355.5,140.6 356.0,150.2 356.0,152.2 356.5,138.6 356.5,137.2 357.0,146.9 357.0,148.3 357.5,135.5 357.5,139.1 358.0,145.0 358.0,147.2 358.5,136.0 358.5,137.1 359.0,143.1 359.0,146.3 359.5,135.8 359.5,135.9 360.0,147.5 360.0,146.4 360.5,137.4 360.5,136.5 361.0,148.0 361.0,146.5 361.5,135.9 361.5,136.8 362.0,148.3 362.0,146.5 362.5,138.6 362.5,136.7 363.0,148.3 363.0,148.9 363.5,140.8 363.5,138.9 364.0,149.5 364.0,149.5 364.5,141.9 364.5,141.4 365.0,149.4 365.0,149.4 365.5,137.9 365.5,140.5 366.0,151.8 366.0,148.0 366.5,140.3 366.5,142.2 367.0,152.3 367.0,147.8 367.5,139.0 367.5,140.9 368.0,149.7 368.0,149.1 368.5,136.3 368.5,140.1 369.0,150.4 369.0,148.1 369.5,138.5 369.5,139.0 370.0,148.8 370.0,148.0 370.5,135.6 370.5,137.8 371.0,146.9 371.0,146.2 371.5,137.4 371.5,133.2 372.0,146.5 372.0,145.2 372.5,133.9 372.5,135.6 373.0,142.0 373.0,148.8 373.5,134.2 373.5,137.2 374.0,143.4 374.0,142.1 374.5,131.6 374.5,135.1 375.0,141.6 375.0,143.7 375.5,135.8 375.5,134.0 376.0,143.5 376.0,141.7 376.5,134.1 376.5,134.9 377.0,144.9 377.0,146.4 377.5,137.1 377.5,137.0 378.0,146.2 378.0,145.7 378.5,138.1 378.5,138.5 379.0,149.2 379.0,149.7 379.5,138.1 379.5,138.3 380.0,148.6 380.0,151.8 380.5,142.3 380.5,137.9 381.0,148.8 381.0,147.6 381.5,136.3 381.5,139.0 382.0,148.3 382.0,148.3 382.5,137.2 382.5,136.1 383.0,145.7 383.0,144.9 383.5,137.4 383.5,133.7 384.0,145.8 384.0,144.8 384.5,135.0 384.5,134.6 385.0,143.3 385.0,140.6 385.5,132.4 385.5,133.6 386.0,140.9 386.0,141.1 386.5,128.2 386.5,131.1 387.0,141.2 387.0,140.2 387.5,133.2 387.5,129.5 388.0,140.9 388.0,138.7 388.5,131.2 388.5,130.9 389.0,141.6 389.0,145.3 389.5,134.6 389.5,131.6 390.0,145.3 390.0,140.0 390.5,132.8 390.5,133.2 391.0,143.4 391.0,143.6 391.5,131.9 391.5,136.7 392.0,143.8 392.0,144.0 392.5,135.5 392.5,134.9 393.0,143.8 393.0,147.6 393.5,136.2 393.5,134.8 394.0,145.1 394.0,147.2 394.5,133.3 394.5,138.6 395.0,147.4 395.0,145.9 395.5,134.1 395.5,135.2 396.0,145.6 396.0,142.9 396.5,131.4 396.5,136.0 397.0,142.1 397.0,141.6 397.5,135.2 397.5,130.3 398.0,142.4 398.0,143.2 398.5,130.6 398.5,135.6 399.0,142.4 399.0,137.9 399.5,130.9 399.5,132.8 400.0,142.2 400.0,140.3 400.5,130.8 400.5,128.2 401.0,139.6 401.0,138.1 401.5,128.1 401.5,128.7 402.0,139.6 402.0,140.7 402.5,128.7 402.5,129.8 403.0,138.8 403.0,139.7 403.5,129.4 403.5,129.5 404.0,138.8 404.0,142.6 404.5,130.6 404.5,130.3 405.0,140.9 405.0,143.7 405.5,131.8 405.5,132.5 406.0,143.8 406.0,143.7 406.5,130.7 406.5,132.0 407.0,141.7 407.0,142.0 407.5,132.9 407.5,132.6 408.0,142.6 408.0,144.6 408.5,133.1 408.5,132.4 409.0,143.0 409.0,142.9 409.5,135.9 409.5,133.7 410.0,142.6 410.0,143.5 410.5,133.1 410.5,132.8 411.0,147.0 411.0,144.2 411.5,132.1 411.5,130.6 412.0,138.8 412.0,140.8 412.5,129.2 412.5,130.2 413.0,140.9 413.0,136.7 413.5,130.7 413.5,127.7 414.0,137.4 414.0,134.7 414.5,127.2 414.5,130.3 415.0,140.6 415.0,140.8 415.5,130.4 415.5,129.2 416.0,138.8 416.0,140.1 416.5,128.5 416.5,130.3 417.0,137.0 417.0,137.2 417.5,127.4 417.5,132.1 418.0,137.4 418.0,138.7 418.5,126.1 418.5,127.7 419.0,137.7 419.0,140.8 419.5,131.1 419.5,132.6 420.0,139.5 420.0,143.1 420.5,132.0 420.5,131.9 421.0,141.3 421.0,143.5 421.5,132.7 421.5,129.8 422.0,140.7 422.0,141.1 422.5,132.5 422.5,129.3 423.0,142.5 423.0,143.0 423.5,132.9 423.5,128.1 424.0,142.3 424.0,140.6 424.5,131.7 424.5,129.5 425.0,139.5 425.0,138.3 425.5,126.9 425.5,130.5 426.0,139.4 426.0,139.7 426.5,126.1 426.5,128.2 427.0,135.4 427.0,136.1 427.5,125.0 427.5,125.9 428.0,135.5 428.0,134.7 428.5,125.2 428.5,124.6 429.0,136.4 429.0,135.4 429.5,126.8 429.5,127.7 430.0,135.8 430.0,133.6 430.5,125.7 430.5,126.3 431.0,136.1 431.0,138.1 431.5,127.1 431.5,128.9 432.0,139.6 432.0,137.9 432.5,124.9 432.5,128.6 433.0,142.2 433.0,140.2 433.5,131.3 433.5,129.1 434.0,138.5 434.0,140.3 434.5,128.3 434.5,128.3 435.0,136.7 435.0,139.0 435.5,130.6 435.5,130.0 436.0,137.6 436.0,137.5 436.5,129.2 436.5,127.9 437.0,138.7 437.0,136.7 437.5,127.6 437.5,128.6 438.0,138.2 438.0,137.3 438.5,129.4 438.5,127.7 439.0,136.0 439.0,137.1 439.5,127.3 439.5,128.2 440.0,219.2 440.0,219.9 440.5,204.4 440.5,205.5 441.0,217.6 441.0,218.9 441.5,203.2 441.5,200.3 442.0,216.8 442.0,217.5 442.5,202.7 442.5,204.8 443.0,216.1 443.0,221.4 443.5,203.7 443.5,201.2 444.0,218.5 444.0,215.0 444.5,207.5 444.5,208.3 445.0,217.1 445.0,221.1 445.5,203.0 445.5,211.4 446.0,221.4 446.0,222.1 446.5,208.6 446.5,211.2 447.0,222.5 447.0,226.4 447.5,210.2 447.5,211.6 448.0,226.2 448.0,227.3 448.5,211.4 448.5,211.8 449.0,222.6 449.0,223.7 449.5,211.1 449.5,211.3 450.0,224.9 450.0,224.4 450.5,211.4 450.5,211.2 451.0,225.0 451.0,220.9 451.5,213.4 451.5,216.2 452.0,225.4 452.0,222.4 452.5,208.3 452.5,213.4 453.0,224.4 453.0,227.8 453.5,215.4 453.5,212.0 454.0,223.8 454.0,223.9 454.5,214.4 454.5,208.4 455.0,223.1 455.0,220.9 455.5,210.1 455.5,212.1 456.0,222.0 456.0,221.5 456.5,207.3 456.5,208.5 457.0,220.3 457.0,222.2 457.5,207.8 457.5,207.2 458.0,220.7 458.0,224.6 458.5,209.0 458.5,210.6 459.0,223.0 459.0,225.4 459.5,214.9 459.5,209.6 460.0,224.4 460.0,228.3 460.5,211.8 460.5,214.9 461.0,224.8 461.0,227.0 461.5,217.7 461.5,216.3 462.0,231.5 462.0,230.1 462.5,218.2 462.5,218.7 463.0,229.2 463.0,226.2 463.5,214.2 463.5,212.7 464.0,226.8 464.0,229.5 464.5,213.1 464.5,212.4 465.0,228.6 465.0,228.7 465.5,214.8 465.5,214.3 466.0,227.1 466.0,230.0 466.5,215.0 466.5,212.1 467.0,224.0 467.0,227.6 467.5,213.8 467.5,214.0 468.0,229.6 468.0,229.7 468.5,213.0 468.5,212.4 469.0,226.2 469.0,221.9 469.5,214.7 469.5,211.8 470.0,223.1 470.0,223.5 470.5,211.0 470.5,208.7 471.0,223.3 471.0,224.2 471.5,213.6 471.5,213.1 472.0,223.1 472.0,227.4 472.5,213.1 472.5,213.5 473.0,226.1 473.0,229.1 473.5,212.8 473.5,212.3 473.6,269.3" fill="none" stroke="#ff0000" stroke-width="1"/>
<polyline points="74.6,219.1 74.6,164.5 74.0,164.5 118.7,196.1 118.7,79.3 234.3,39.5 234.3,180.2 236.6,181.8 238.9,183.5 241.2,185.2 243.5,186.7 245.8,188.2 248.1,189.7 250.4,191.2 252.7,192.7 255.0,194.2 257.3,195.5 259.6,196.9 261.9,198.3 264.2,199.7 266.5,201.1 268.8,202.3 271.1,203.5 273.4,204.7 275.7,205.9 278.0,207.2 280.3,208.4 282.6,209.6 284.9,210.7 287.2,211.9 289.5,213.0 291.8,214.2 294.1,215.3 296.4,216.5 298.7,217.6 301.0,218.8 303.3,219.9 305.6,220.7 307.9,221.5 310.2,222.3 312.5,223.1 314.8,223.9 317.1,224.7 319.4,225.5 321.7,226.3 324.0,227.1 324.0,156.7 437.3,133.3 437.3,218.4 473.6,231.8" fill="none" stroke="#00ff00" stroke-width="2"/></g>
<g clip-path="url(#c2)"><polyline points="606.5,184.7 606.6,187.7 606.7,183.1 606.8,176.8 606.9,171.1 607.0,172.6 607.1,183.6 607.2,189.0 607.3,178.5 607.4,179.4 607.5,173.7 607.6,176.3 607.7,182.0 607.8,185.5 607.9,183.2 608.0,195.6 608.1,180.6 608.2,189.7 608.3,186.7 608.4,177.8 608.5,183.4 608.6,190.8 608.7,185.3 608.8,196.5 608.9,189.7 609.0,200.5 609.1,198.7 609.2,196.1 609.3,198.1 609.4,193.6 609.5,203.1 609.6,202.2 609.7,198.6 609.8,195.6 609.9,188.0 610.0,195.2 610.1,208.4 610.2,202.9 610.3,195.9 610.4,182.6 610.5,198.4 610.6,188.6 610.7,191.2 610.8,192.8 610.9,215.8 611.0,202.0 611.1,204.8 611.2,198.0 611.3,211.0 611.4,199.4 611.5,202.0 611.6,196.3 611.7,203.8 611.8,211.7 611.9,197.5 612.0,208.4 612.1,213.6 612.2,210.1 612.3,213.0 612.4,210.8 612.5,214.4 612.6,204.4 612.7,209.8 612.8,213.6 612.9,212.5 613.0,219.4 613.1,206.5 613.2,223.5 613.3,208.6 613.4,214.5 613.5,214.1 613.6,200.7 613.7,211.9 613.8,207.2 613.9,224.4 614.0,223.9 614.1,212.1 614.2,205.8 614.3,216.6 614.4,208.2 614.5,210.4 614.6,205.8 614.7,206.7 614.8,215.6 614.9,216.0 615.0,221.3 615.1,214.4 615.2,205.2 615.3,221.9 615.4,199.4 615.5,207.6 615.6,213.8 615.7,201.2 615.8,203.8 615.9,214.4 616.0,210.1 616.1,198.2 616.2,205.4 616.3,196.6 616.4,203.4 616.5,195.3 616.6,199.0 616.7,203.8 616.8,197.3 616.9,193.3 617.0,200.2 617.1,191.3 617.2,197.8 617.3,199.8 617.4,193.9 617.5,196.2 617.6,193.9 617.7,204.5 617.8,195.3 617.9,197.7 618.0,194.5 618.1,199.5 618.2,186.1 618.3,186.1 618.4,195.9 618.5,190.5 618.6,186.8 618.7,183.7 618.8,188.7 618.9,183.2 619.0,168.6 619.1,185.7 619.2,182.6 619.3,189.5 619.4,186.5 619.5,184.7 619.6,187.9 619.7,188.1 619.8,174.1 619.9,187.5 620.0,184.0 620.1,188.1 620.2,184.5 620.3,194.2 620.4,179.4 620.5,186.6 620.6,176.9 620.7,178.2 620.8,182.5 620.9,185.9 621.0,175.7 621.1,179.9 621.2,183.3 621.3,181.6 621.4,178.6 621.5,188.1 621.6,178.4 621.7,181.2 621.8,181.9 621.9,183.5 622.0,194.4 622.1,190.6 622.2,186.4 622.3,192.2 622.4,191.6 622.5,178.3 622.6,187.2 622.7,181.7 622.8,185.8 622.9,184.4 623.0,185.8 623.1,194.4 623.2,194.9 623.3,192.2 623.4,192.0 623.5,201.9 623.6,195.6 623.7,199.2 623.8,191.8 623.9,195.1 624.0,206.3 624.1,185.3 624.2,209.4 624.3,186.1 624.4,197.6 624.5,178.3 624.6,194.7 624.7,190.7 624.8,197.0 624.9,202.7 625.0,210.1 625.1,206.7 625.2,207.4 625.3,203.1 625.4,200.1 625.5,202.0 625.6,203.8 625.7,198.4 625.8,201.5 625.9,193.7 626.0,191.8 626.1,205.8 626.2,205.5 626.3,201.8 626.4,207.1 626.5,208.9 626.6,214.7 626.7,214.4 626.8,209.3 626.9,210.0 627.0,216.1 627.1,219.4 627.2,215.1 627.3,214.1 627.4,215.6 627.5,221.7 627.6,230.8 627.7,217.5 627.8,215.8 627.9,200.7 628.0,214.1 628.1,212.4 628.2,204.1 628.3,208.1 628.4,211.6 628.5,225.5 628.6,214.3 628.7,210.3 628.8,209.7 628.9,216.3 629.0,218.0 629.1,201.5 629.2,201.3 629.3,205.4 629.4,205.0 629.5,212.1 629.6,200.8 629.7,209.0 629.8,199.4 629.9,207.1 630.0,206.0 630.1,205.6 630.2,202.6 630.3,195.3 630.4,195.0 630.5,200.4 630.6,196.0 630.7,193.3 630.8,193.7 630.9,198.9 631.0,202.7 631.1,199.4 631.2,198.5 631.3,181.7 631.4,207.7 631.5,193.7 631.6,188.8 631.7,206.9 631.8,192.5 631.9,201.5 632.0,203.1 632.1,193.7 632.2,191.5 632.3,190.8 632.4,189.0 632.5,198.0 632.6,180.0 632.7,183.2 632.8,186.2 632.9,181.5 633.0,189.3 633.1,190.0 633.2,187.6 633.3,185.3 633.4,190.9 633.5,185.4 633.6,187.9 633.7,185.2 633.8,172.7 633.9,181.7 634.0,181.3 634.1,173.6 634.2,177.7 634.3,170.4 634.4,181.9 634.5,179.0 634.6,186.8 634.7,180.4 634.8,176.8 634.8,181.6 634.9,175.9 635.0,172.4 635.1,188.4 635.2,180.4 635.3,173.5 635.4,179.5 635.5,183.8 635.6,181.7 635.7,180.8 635.8,184.5 635.9,183.5 636.0,180.2 636.1,172.7 636.2,183.2 636.3,189.8 636.4,186.5 636.5,181.8 636.6,186.0 636.7,194.2 636.8,186.4 636.9,188.7 637.0,187.6 637.1,183.6 637.2,187.8 637.3,195.8 637.4,200.6 637.5,196.2 637.6,190.0 637.7,193.4 637.8,203.3 637.9,205.8 638.0,198.0 638.1,206.0 638.2,196.9 638.3,198.4 638.4,207.4 638.5,200.4 638.6,207.0 638.7,204.3 638.8,200.5 638.9,211.9 639.0,197.4 639.1,197.4 639.2,209.4 639.3,201.1 639.4,220.5 639.5,209.2 639.6,217.4 639.7,209.3 639.8,194.7 639.9,220.6 640.0,201.9 640.1,206.0 640.2,221.1 640.3,206.2 640.4,215.5 640.5,214.4 640.6,203.4 640.7,204.8 640.8,218.7 640.9,210.0 641.0,211.7 641.1,211.0 641.2,203.8 641.3,210.7 641.4,201.3 641.5,213.4 641.6,208.2 641.7,217.2 641.8,213.8 641.9,218.4 642.0,210.8 642.1,217.7 642.2,218.2 642.3,215.5 642.4,217.7 642.5,205.6 642.6,222.2 642.7,214.1 642.8,206.2 642.9,199.0 643.0,205.6 643.1,207.8 643.2,206.6 643.3,206.1 643.4,206.2 643.5,205.9 643.6,212.8 643.7,200.2 643.8,206.9 643.9,198.7 644.0,198.4 644.1,204.4 644.2,209.6 644.3,199.5 644.4,191.0 644.5,181.6 644.6,200.4 644.7,197.8 644.8,202.2 644.9,195.9 645.0,220.4 645.1,192.0 645.2,192.8 645.3,199.0 645.4,203.8 645.5,196.9 645.6,192.9 645.7,203.9 645.8,187.7 645.9,190.6 646.0,198.4 646.1,182.2 646.2,189.7 646.3,186.8 646.4,192.5 646.5,186.8 646.6,192.1 646.7,198.0 646.8,178.1 646.9,181.6 647.0,190.8 647.1,188.5 647.2,186.2 647.3,179.9 647.4,184.4 647.5,181.4 647.6,196.5 647.7,192.6 647.8,181.0 647.9,177.9 648.0,179.3 648.1,179.3 648.2,174.8 648.3,180.4 648.4,198.0 648.5,181.1 648.6,182.7 648.7,181.6 648.8,169.2 648.9,178.2 649.0,189.5 649.1,185.2 649.2,177.6 649.3,181.9 649.4,177.4 649.5,177.8 649.6,184.3 649.7,185.4 649.8,194.1 649.9,195.2 650.0,185.2 650.1,183.7 650.2,187.3 650.3,197.2 650.4,195.1 650.5,191.3 650.6,189.2 650.7,184.5 650.8,194.2 650.9,188.8 651.0,199.8 651.1,197.8 651.2,192.5 651.3,87.7 651.4,92.6 651.5,85.5 651.6,102.0 651.7,90.5 651.8,90.6 651.9,104.6 652.0,98.0 652.1,98.2 652.2,101.2 652.3,97.7 652.4,95.9 652.5,90.7 652.6,95.3 652.7,86.0 652.8,87.9 652.9,93.9 653.0,101.8 653.1,96.2 653.2,83.9 653.3,92.3 653.4,95.2 653.5,92.0 653.6,90.8 653.7,89.1 653.8,89.4 653.9,85.5 654.0,92.5 654.1,83.6 654.2,98.4 654.3,99.4 654.4,91.6 654.5,91.9 654.6,90.8 654.7,92.7 654.8,90.9 654.9,97.4 655.0,95.1 655.1,97.6 655.2,82.2 655.3,89.3 655.4,91.5 655.5,87.6 655.6,92.1 655.7,100.6 655.8,94.9 655.9,102.6 656.0,98.7 656.1,92.2 656.2,82.0 656.3,86.7 656.4,83.7 656.5,93.8 656.6,86.6 656.7,88.7 656.8,96.1 656.9,98.6 657.0,93.8 657.1,103.3 657.2,91.6 657.3,94.6 657.4,92.4 657.5,96.7 657.6,90.8 657.7,93.7 657.8,86.4 657.9,90.2 658.0,87.1 658.1,92.4 658.2,83.1 658.3,90.9 658.4,88.7 658.5,80.5 658.6,87.5 658.7,86.6 658.8,85.5 658.9,80.8 659.0,90.5 659.1,86.7 659.2,94.2 659.3,86.9 659.4,88.8 659.5,94.8 659.6,90.7 659.7,98.2 659.8,92.3 659.9,87.5 660.0,88.9 660.1,92.1 660.2,93.3 660.3,84.7 660.4,84.8 660.5,94.0 660.6,86.9 660.7,92.0 660.8,89.6 660.9,86.6 661.0,85.2 661.1,94.9 661.2,89.9 661.3,81.0 661.4,85.0 661.5,98.9 661.6,87.1 661.7,93.9 661.8,86.1 661.9,92.8 662.0,91.3 662.1,80.8 662.2,79.7 662.3,84.8 662.4,84.6 662.5,94.0 662.6,87.6 662.7,89.0 662.8,84.1 662.9,86.5 663.0,86.1 663.1,89.9 663.2,86.9 663.3,89.0 663.4,88.4 663.5,89.6 663.6,79.1 663.7,82.9 663.8,83.9 663.9,85.1 664.0,85.5 664.1,90.0 664.2,79.2 664.3,89.3 664.4,82.5 664.5,79.8 664.6,94.6 664.7,99.1 664.8,101.9 664.9,89.3 665.0,93.8 665.1,93.9 665.2,101.0 665.3,92.4 665.4,90.4 665.5,93.9 665.6,89.8 665.7,95.5 665.8,93.4 665.9,86.3 666.0,82.9 666.1,88.0 666.2,93.6 666.3,83.0 666.4,89.5 666.5,96.1 666.6,97.2 666.7,86.5 666.8,91.9 666.9,95.0 667.0,85.6 667.1,91.0 667.2,88.0 667.3,90.8 667.4,88.4 667.5,88.1 667.6,96.1 667.7,91.8 667.8,97.4 667.9,86.0 668.0,92.0 668.1,100.9 668.2,95.8 668.3,97.8 668.4,104.5 668.5,100.6 668.6,96.6 668.7,92.8 668.8,94.2 668.9,95.4 669.0,100.7 669.1,102.9 669.2,94.5 669.3,91.8 669.4,104.6 669.5,99.9 669.6,91.1 669.7,89.5 669.8,89.1 669.9,88.3 670.0,90.2 670.1,80.7 670.2,89.0 670.3,94.9 670.4,87.3 670.5,92.4 670.6,94.6 670.7,96.7 670.8,93.4 670.9,95.2 671.0,104.8 671.1,96.7 671.2,88.8 671.3,98.3 671.4,91.7 671.5,92.2 671.6,86.2 671.7,84.1 671.8,91.5 671.9,91.7 672.0,85.6 672.1,86.3 672.2,83.4 672.3,78.6 672.4,84.8 672.5,85.9 672.6,92.9 672.7,92.5 672.8,89.6 672.9,86.1 673.0,91.3 673.1,91.2 673.2,82.9 673.3,87.6 673.4,89.2 673.5,82.6 673.6,84.7 673.7,82.6 673.8,94.0 673.9,90.1 674.0,89.9 674.1,93.1 674.2,96.0 674.3,89.5 674.4,81.7 674.5,91.4 674.6,84.5 674.7,82.9 674.8,77.5 674.9,90.8 675.0,91.0 675.1,86.4 675.2,92.0 675.3,103.3 675.4,92.0 675.5,91.8 675.6,83.0 675.7,77.6 675.8,82.7 675.9,80.9 676.0,74.6 676.1,78.0 676.2,75.7 676.3,71.0 676.4,74.2 676.5,80.2 676.6,71.9 676.7,86.6 676.8,90.7 676.9,91.6 677.0,89.0 677.1,95.6 677.2,90.7 677.3,91.4 677.4,85.8 677.5,80.0 677.6,89.1 677.7,81.5 677.8,83.1 677.9,83.0 678.0,85.9 678.1,91.9 678.2,85.0 678.3,84.9 678.4,89.5 678.5,88.6 678.6,85.5 678.7,75.7 678.8,90.2 678.9,86.4 679.0,80.8 679.1,86.3 679.2,93.9 679.3,84.6 679.4,88.2 679.5,90.8 679.6,93.2 679.7,93.6 679.8,89.0 679.9,97.9 680.0,88.6 680.1,102.5 680.2,95.2 680.3,86.2 680.4,87.2 680.5,92.9 680.6,85.0 680.7,93.9 680.8,90.3 680.9,93.0 681.0,92.6 681.1,90.4 681.2,84.2 681.3,79.9 681.4,92.5 681.5,100.8 681.6,94.2 681.7,97.4 681.8,95.7 681.9,91.1 682.0,96.2 682.1,92.1 682.2,97.4 682.3,94.1 682.4,93.7 682.5,94.2 682.6,96.5 682.7,89.3 682.8,92.5 682.9,93.1 683.0,95.1 683.1,90.6 683.2,95.9 683.3,91.5 683.4,89.8 683.5,89.8 683.6,90.8 683.7,90.7 683.8,99.0 683.9,103.8 684.0,95.3 684.1,97.3 684.2,107.0 684.3,92.9 684.4,93.8 684.5,90.3 684.6,92.1 684.7,88.3 684.8,96.9 684.9,89.9 685.0,98.9 685.1,102.5 685.2,89.6 685.3,87.0 685.4,93.4 685.5,89.8 685.6,92.4 685.7,95.5 685.8,93.9 685.9,89.7 686.0,88.7 686.1,85.3 686.2,94.0 686.3,91.1 686.4,97.9 686.5,89.4 686.6,87.5 686.7,83.5 686.8,90.0 686.9,92.0 687.0,82.0 687.1,86.2 687.2,75.5 687.3,73.8 687.4,91.2 687.5,85.5 687.6,88.1 687.7,92.2 687.8,89.7 687.9,85.8 688.0,88.9 688.1,83.6 688.2,85.4 688.3,90.4 688.4,87.4 688.5,89.7 688.6,90.7 688.7,94.2 688.8,89.0 688.9,85.7 689.0,86.7 689.1,85.8 689.2,84.7 689.3,91.6 689.4,96.9 689.5,83.8 689.6,90.9 689.7,85.9 689.8,87.4 689.9,81.2 690.0,90.2 690.1,87.0 690.2,84.7 690.3,90.7 690.4,95.2 690.5,92.2 690.6,94.0 690.7,100.4 690.8,77.7 690.9,80.6 691.0,79.3 691.1,74.5 691.2,79.5 691.3,83.0 691.4,90.9 691.5,81.8 691.5,83.8 691.6,82.2 691.7,79.4 691.8,75.7 691.9,82.7 692.0,85.5 692.1,89.3 692.2,97.7 692.3,93.4 692.4,95.2 692.5,94.4 692.6,94.1 692.7,96.0 692.8,92.9 692.9,91.9 693.0,83.8 693.1,79.7 693.2,78.4 693.3,83.4 693.4,74.7 693.5,85.0 693.6,87.0 693.7,82.0 693.8,83.3 693.9,90.7 694.0,88.3 694.1,90.8 694.2,90.8 694.3,94.1 694.4,93.3 694.5,99.0 694.6,84.7 694.7,87.9 694.8,75.4 694.9,88.8 695.0,91.3 695.1,86.5 695.2,90.2 695.3,94.9 695.4,82.8 695.5,85.2 695.6,88.1 695.7,89.3 695.8,89.5 695.9,91.3 696.0,92.2 696.1,94.7 696.2,94.3 696.3,91.2 696.4,95.0 696.5,95.1 696.6,87.0 696.7,90.8 696.8,105.6 696.9,96.5 697.0,102.4 697.1,102.2 697.2,99.3 697.3,97.3 697.4,94.4 697.5,91.2 697.6,95.8 697.7,91.1 697.8,91.4 697.9,90.5 698.0,92.3 698.1,100.9 698.2,90.7 698.3,103.4 698.4,93.5 698.5,98.0 698.6,82.9 698.7,96.6 698.8,89.0 698.9,98.6 699.0,99.9 699.1,102.6 699.2,105.1 699.3,96.4 699.4,97.7 699.5,90.4 699.6,86.7 699.7,95.3 699.8,96.3 699.9,97.6 700.0,92.0 700.1,94.4 700.2,101.7 700.3,93.1 700.4,87.6 700.5,95.1 700.6,88.3 700.7,93.0 700.8,92.2 700.9,89.1 701.0,89.6 701.1,89.7 701.2,97.7 701.3,93.6 701.4,94.5 701.5,93.7 701.6,91.9 701.7,89.2 701.8,92.1 701.9,87.3 702.0,90.6 702.1,94.0 702.2,95.4 702.3,94.1 702.4,85.9 702.5,86.3 702.6,81.3 702.7,83.5 702.8,86.2 702.9,85.1 703.0,82.1 703.1,90.5 703.2,90.4 703.3,86.6 703.4,83.9 703.5,85.2 703.6,85.1 703.7,86.9 703.8,86.1 703.9,88.5 704.0,89.1 704.1,85.6 704.2,95.4 704.3,85.0 704.4,78.0 704.5,90.1 704.6,93.8 704.7,80.3 704.8,78.9 704.9,76.6 705.0,73.3 705.1,73.8 705.2,68.1 705.3,72.9 705.4,82.8 705.5,83.3 705.6,86.3 705.7,90.8 705.8,93.9 705.9,92.9 706.0,85.8 706.1,93.1 706.2,85.5 706.3,75.5 706.4,78.5 706.5,84.4 706.6,85.9 706.7,90.8 706.8,90.1 706.9,89.6 707.0,81.7 707.1,89.3 707.2,86.2 707.3,88.4 707.4,83.7 707.5,87.2 707.6,90.2 707.7,88.0 707.8,73.7 707.9,83.4 708.0,76.3 708.1,91.3 708.2,82.9 708.3,82.4 708.4,88.0 708.5,93.7 708.6,92.5 708.7,98.1 708.8,86.6 708.9,85.0 709.0,95.6 709.1,99.6 709.2,99.1 709.3,96.9 709.4,106.9 709.5,90.9 709.6,93.7 709.7,87.1 709.8,84.0 709.9,86.9 710.0,89.8 710.1,102.0 710.2,98.8 710.3,93.4 710.4,90.2 710.5,90.6 710.6,89.4 710.7,100.6 710.8,95.3 710.9,105.7 711.0,92.3 711.1,96.8 711.2,93.6 711.3,91.5 711.4,89.5 711.5,93.4 711.6,96.2 711.7,89.6 711.8,99.4 711.9,91.2 712.0,91.6 712.1,91.4 712.2,97.2 712.3,97.3 712.4,95.7 712.5,96.7 712.6,97.9 712.7,96.7 712.8,92.1 712.9,93.8 713.0,91.9 713.1,93.6 713.2,86.1 713.3,94.3 713.4,94.0 713.5,88.8 713.6,90.3 713.7,96.4 713.8,94.2 713.9,89.8 714.0,93.0 714.1,101.2 714.2,99.5 714.3,96.2 714.4,92.2 714.5,92.0 714.6,98.7 714.7,89.0 714.8,94.5 714.9,83.9 715.0,93.4 715.1,83.9 715.2,88.6 715.3,87.3 715.4,91.4 715.5,85.5 715.6,96.5 715.7,94.1 715.8,97.1 715.9,86.4 716.0,90.1 716.1,91.8 716.2,89.5 716.3,87.9 716.4,76.9 716.5,82.8 716.6,83.3 716.7,77.1 716.8,89.2 716.9,86.8 717.0,84.5 717.1,89.3 717.2,92.8 717.3,88.7 717.4,86.4 717.5,81.5 717.6,92.7 717.7,89.9 717.8,82.1 717.9,86.6 718.0,87.1 718.1,86.1 718.2,78.7 718.3,87.8 718.4,87.8 718.5,87.2 718.6,93.1 718.7,83.9 718.8,87.4 718.9,85.6 719.0,83.7 719.1,82.4 719.2,79.3 719.3,80.3 719.4,78.3 719.5,94.2 719.6,88.0 719.7,88.7 719.8,88.9 719.9,89.6 720.0,83.6 720.1,83.6 720.2,73.0 720.3,85.4 720.4,80.2 720.5,74.2 720.6,84.4 720.7,83.7 720.8,88.8 720.9,77.2 721.0,93.6 721.1,94.2 721.2,88.7 721.3,92.6 721.4,82.4 721.5,87.3 721.6,89.3 721.7,92.5 721.8,83.5 721.9,90.2 722.0,90.7 722.1,88.0 722.2,86.9 722.3,88.3 722.4,88.5 722.5,87.2 722.6,82.2 722.7,93.5 722.8,85.7 722.9,94.5 723.0,74.1 723.1,92.2 723.2,89.3 723.3,95.2 723.4,106.0 723.5,95.6 723.6,104.3 723.7,96.0 723.8,92.0 723.9,88.0 724.0,90.6 724.1,88.8 724.2,87.5 724.3,98.7 724.4,94.0 724.5,94.9 724.6,89.3 724.7,98.8 724.8,93.5 724.9,96.4 725.0,91.0 725.1,98.8 725.2,90.9 725.3,98.2 725.4,97.9 725.5,89.5 725.6,87.4 725.7,93.4 725.8,84.5 725.9,90.0 726.0,87.0 726.1,92.1 726.2,96.8 726.3,96.1 726.4,92.6 726.5,97.5 726.6,102.9 726.7,96.7 726.8,97.1 726.9,96.9 727.0,86.3 727.1,93.8 727.2,85.1 727.3,95.3 727.4,84.5 727.5,87.4 727.6,96.9 727.7,92.6 727.8,89.3 727.9,95.6 728.0,93.2 728.1,90.9 728.2,89.3 728.3,88.5 728.4,88.6 728.5,84.7 728.6,86.3 728.7,84.4 728.8,86.8 728.9,76.8 729.0,78.9 729.1,87.2 729.2,83.9 729.3,80.1 729.4,77.5 729.5,84.4 729.6,78.3 729.7,86.7 729.8,79.0 729.9,82.5 730.0,92.7 730.1,94.0 730.2,86.2 730.3,91.3 730.4,92.5 730.5,86.8 730.6,91.0 730.7,87.2 730.8,87.3 730.9,83.8 731.0,88.6 731.1,77.7 731.2,82.7 731.3,80.8 731.4,81.1 731.5,80.7 731.6,82.4 731.7,81.3 731.8,79.9 731.9,90.2 732.0,83.9 732.1,77.3 732.2,82.0 732.3,81.9 732.4,85.1 732.5,81.1 732.6,83.4 732.7,80.5 732.8,77.8 732.9,79.7 733.0,83.1 733.1,74.0 733.2,78.8 733.3,79.1 733.4,92.0 733.5,82.3 733.6,89.2 733.7,85.6 733.8,85.4 733.9,85.7 734.0,86.2 734.1,89.6 734.2,95.5 734.3,93.5 734.4,89.8 734.5,88.1 734.6,90.9 734.7,92.4 734.8,88.1 734.9,89.5 735.0,86.8 735.1,89.8 735.2,99.1 735.3,91.4 735.4,87.0 735.5,92.5 735.6,90.2 735.7,89.1 735.8,98.0 735.9,93.5 736.0,89.0 736.1,86.7 736.2,81.2 736.3,80.4 736.4,86.4 736.5,90.4 736.6,88.0 736.7,80.9 736.8,90.5 736.9,77.0 737.0,93.5 737.1,95.6 737.2,83.2 737.3,101.3 737.4,99.5 737.5,94.4 737.6,88.3 737.7,89.8 737.8,83.3 737.9,92.1 738.0,94.1 738.1,94.0 738.2,101.2 738.3,101.0 738.4,104.5 738.5,105.7 738.6,93.3 738.7,98.8 738.8,101.2 738.9,92.8 739.0,102.0 739.1,94.6 739.2,99.1 739.3,97.8 739.4,100.9 739.5,104.0 739.6,103.2 739.7,100.9 739.8,97.5 739.9,96.3 740.0,90.7 740.1,86.2 740.2,80.9 740.3,92.1 740.4,88.6 740.5,83.8 740.6,86.3 740.7,83.3 740.8,97.6 740.9,86.6 741.0,95.8 741.1,98.7 741.2,90.4 741.3,95.2 741.4,87.3 741.5,90.7 741.6,100.8 741.7,93.9 741.8,90.4 741.9,90.0 742.0,95.3 742.1,92.6 742.2,94.3 742.3,94.7 742.4,98.2 742.5,96.2 742.6,84.3 742.7,84.2 742.8,92.8 742.9,86.9 743.0,85.1 743.1,95.8 743.2,89.9 743.3,97.2 743.4,87.4 743.5,90.4 743.6,92.4 743.7,82.4 743.8,87.4 743.9,84.1 744.0,90.8 744.1,89.1 744.2,86.2 744.3,90.1 744.4,80.1 744.5,87.2 744.6,94.1 744.7,93.0 744.8,90.1 744.9,99.4 745.0,78.4 745.1,76.4 745.2,83.4 745.3,75.0 745.4,78.9 745.5,78.1 745.6,83.0 745.7,80.0 745.8,82.5 745.9,80.9 746.0,86.9 746.1,84.7 746.2,83.0 746.3,88.7 746.4,81.8 746.5,82.0 746.6,87.4 746.7,88.3 746.8,76.7 746.9,85.0 747.0,87.9 747.1,88.7 747.2,90.0 747.3,94.6 747.4,82.5 747.5,90.9 747.6,87.7 747.7,83.0 747.8,80.1 747.9,88.3 748.0,81.1 748.1,81.7 748.1,88.3 748.2,80.3 748.3,89.3 748.4,73.9 748.5,87.6 748.6,88.5 748.7,92.4 748.8,91.1 748.9,90.2 749.0,89.4 749.1,95.1 749.2,87.8 749.3,87.6 749.4,91.5 749.5,91.3 749.6,82.2 749.7,83.2 749.8,87.7 749.9,87.8 750.0,91.0 750.1,93.3 750.2,91.7 750.3,87.1 750.4,89.9 750.5,96.1 750.6,92.1 750.7,93.5 750.8,83.2 750.9,91.4 751.0,95.6 751.1,102.1 751.2,98.0 751.3,93.8 751.4,91.0 751.5,85.7 751.6,97.3 751.7,94.1 751.8,88.4 751.9,99.0 752.0,96.1 752.1,87.4 752.2,89.2 752.3,91.7 752.4,96.3 752.5,93.6 752.6,89.0 752.7,97.3 752.8,100.2 752.9,93.2 753.0,100.1 753.1,102.1 753.2,96.2 753.3,97.9 753.4,89.6 753.5,92.8 753.6,97.1 753.7,85.6 753.8,88.2 753.9,94.6 754.0,99.0 754.1,86.6 754.2,91.1 754.3,94.6 754.4,91.3 754.5,94.7 754.6,92.2 754.7,93.6 754.8,94.5 754.9,89.7 755.0,90.8 755.1,96.0 755.2,95.2 755.3,92.1 755.4,102.9 755.5,96.0 755.6,98.2 755.7,89.4 755.8,92.6 755.9,84.3 756.0,99.5 756.1,84.3 756.2,86.8 756.3,95.7 756.4,90.2 756.5,83.4 756.6,84.6 756.7,88.2 756.8,86.0 756.9,82.0 757.0,88.9 757.1,82.6 757.2,86.8 757.3,82.9 757.4,88.7 757.5,92.7 757.6,79.2 757.7,84.2 757.8,90.0 757.9,83.1 758.0,78.3 758.1,80.8 758.2,87.4 758.3,91.3 758.4,82.3 758.5,75.6 758.6,80.4 758.7,79.4 758.8,87.9 758.9,88.0 759.0,93.6 759.1,81.5 759.2,82.3 759.3,82.3 759.4,90.3 759.5,84.7 759.6,80.3 759.7,75.5 759.8,83.1 759.9,77.0 760.0,76.3 760.1,82.4 760.2,78.9 760.3,86.6 760.4,89.8 760.5,87.7 760.6,85.5 760.7,82.2 760.8,90.8 760.9,90.4 761.0,86.5 761.1,92.8 761.2,91.8 761.3,89.7 761.4,87.0 761.5,88.5 761.6,84.7 761.7,90.0 761.8,91.6 761.9,88.3 762.0,90.7 762.1,91.0 762.2,86.1 762.3,89.2 762.4,85.6 762.5,84.9 762.6,89.2 762.7,86.3 762.8,84.2 762.9,81.9 763.0,85.7 763.1,89.8 763.2,92.3 763.3,91.5 763.4,94.2 763.5,91.1 763.6,92.2 763.7,85.7 763.8,93.0 763.9,87.8 764.0,79.4 764.1,93.9 764.2,86.7 764.3,90.0 764.4,88.3 764.5,92.5 764.6,92.5 764.7,91.6 764.8,94.8 764.9,96.2 765.0,95.9 765.1,91.4 765.2,95.2 765.3,93.6 765.4,91.2 765.5,96.0 765.6,91.4 765.7,95.4 765.8,93.8 765.9,90.1 766.0,95.1 766.1,93.9 766.2,99.8 766.3,96.2 766.4,106.9 766.5,89.3 766.6,85.7 766.7,86.7 766.8,89.0 766.9,94.3 767.0,223.2 767.1,213.7 767.2,213.5 767.3,224.4 767.4,229.9 767.5,219.2 767.6,210.9 767.7,224.4 767.8,209.8 767.9,214.4 768.0,209.0 768.1,219.4 768.2,215.3 768.3,216.7 768.4,214.1 768.5,212.2 768.6,215.7 768.7,218.1 768.8,210.6 768.9,207.3 769.0,213.6 769.1,221.9 769.2,213.3 769.3,212.2 769.4,202.5 769.5,202.5 769.6,208.0 769.7,202.2 769.8,204.1 769.9,200.3 770.0,209.8 770.1,203.4 770.2,202.9 770.3,208.5 770.4,193.3 770.5,193.1 770.6,210.5 770.7,190.2 770.8,204.7 770.9,199.3 771.0,203.5 771.1,203.2 771.2,200.7 771.3,188.7 771.4,200.7 771.5,195.7 771.6,188.8 771.7,189.5 771.8,197.3 771.9,192.7 772.0,198.0 772.1,190.9 772.2,201.3 772.3,193.0 772.4,191.0 772.5,191.4 772.6,188.7 772.7,191.8 772.8,182.4 772.9,183.5 773.0,174.2 773.1,179.7 773.2,183.3 773.3,178.4 773.4,165.9 773.5,175.0 773.6,178.9 773.7,186.9 773.8,186.8 773.9,172.7 774.0,177.8 774.1,183.9 774.2,177.0 774.3,182.2 774.4,183.7 774.5,186.2 774.6,175.3 774.7,183.8 774.8,188.6 774.9,181.6 775.0,175.7 775.1,193.7 775.2,184.9 775.3,172.8 775.4,175.9 775.5,176.3 775.6,191.9 775.7,184.2 775.8,188.5 775.9,187.9 776.0,184.1 776.1,197.6 776.2,189.5 776.3,187.8 776.4,203.1 776.5,200.8 776.6,189.4 776.7,192.6 776.8,192.8 776.9,197.5 777.0,195.7 777.1,202.9 777.2,196.5 777.3,198.1 777.4,193.2 777.5,202.9 777.6,212.7 777.7,204.3 777.8,195.4 777.9,201.1 778.0,196.9 778.1,193.6 778.2,203.2 778.3,199.7 778.4,204.1 778.5,212.6 778.6,205.3 778.7,207.9 778.8,196.2 778.9,203.7 779.0,204.2 779.1,215.6 779.2,208.3 779.3,205.6 779.4,220.9 779.5,213.1 779.6,219.0 779.7,211.4 779.8,212.5 779.9,209.0 780.0,206.1 780.1,214.0 780.2,217.4 780.3,213.6 780.4,225.1 780.5,220.1 780.6,223.9 780.7,215.1 780.8,217.3 780.9,226.8 781.0,228.3 781.1,214.1 781.2,220.0 781.3,221.7 781.4,217.6 781.5,221.2 781.6,219.4 781.7,213.7 781.8,211.3 781.9,207.3 782.0,222.3 782.1,216.2 782.2,219.2 782.3,201.0 782.4,221.4 782.5,215.8 782.6,202.7 782.7,217.3 782.8,206.0 782.9,209.7 783.0,208.9 783.1,202.8 783.2,209.3 783.3,211.2 783.4,207.5 783.5,202.3 783.6,199.1 783.7,206.2 783.8,205.7 783.9,212.7 784.0,205.3 784.1,208.6 784.2,199.8 784.3,187.5 784.4,191.5 784.5,190.9 784.6,196.4 784.7,194.7 784.8,195.8 784.9,190.5 785.0,195.8 785.1,205.2 785.2,195.4 785.3,187.7 785.4,198.3 785.5,202.9 785.6,193.5 785.7,188.6 785.8,190.2 785.9,187.0 786.0,198.6 786.1,186.1 786.2,191.1 786.3,193.6 786.4,183.5 786.5,182.1 786.6,185.7 786.7,188.6 786.8,180.2 786.9,187.6 787.0,176.2 787.1,185.4 787.2,182.9 787.3,185.1 787.4,161.7 787.5,188.6 787.6,177.8 787.7,177.1 787.8,179.7 787.9,173.3 788.0,191.8 788.1,181.8 788.2,175.4 788.3,163.3 788.4,167.2 788.5,172.0 788.6,176.6 788.7,176.6 788.8,169.0 788.9,178.0 789.0,183.5 789.1,188.3 789.2,171.9 789.3,180.0 789.4,179.0 789.5,175.5 789.6,176.6 789.7,184.7 789.8,179.3 789.9,178.2 790.0,193.0 790.1,187.8 790.2,185.9 790.3,196.8 790.4,190.9 790.5,182.6 790.6,188.9 790.7,200.2 790.8,191.7 790.9,192.3 791.0,199.5 791.1,205.9 791.2,197.8 791.3,202.6 791.4,198.7 791.5,206.6 791.6,196.6 791.7,196.5 791.8,192.5 791.9,208.4 792.0,194.1 792.1,201.0 792.2,191.8 792.3,202.7 792.4,200.3 792.5,199.2 792.6,209.0 792.7,204.9 792.8,200.9 792.9,204.4 793.0,202.4 793.1,200.2 793.2,221.5 793.3,206.4 793.4,208.9 793.5,217.4 793.6,213.3 793.7,215.6 793.8,202.8 793.9,215.0 794.0,215.9 794.1,210.3 794.2,218.9 794.3,211.3 794.4,225.8 794.5,209.4 794.6,219.2 794.7,216.2 794.8,226.3 794.9,232.8 795.0,216.1 795.1,218.6 795.2,227.9 795.3,214.6 795.4,212.0 795.5,215.8 795.6,216.7 795.7,214.6 795.8,210.8 795.9,211.4 796.0,217.4 796.1,221.6 796.2,223.8 796.3,221.3 796.4,209.3 796.5,213.6 796.6,213.6 796.7,208.5 796.8,208.5 796.9,210.8 797.0,210.8 797.1,222.9 797.2,208.8 797.3,209.5 797.4,193.3 797.5,200.5 797.6,210.8 797.7,202.5 797.8,198.4 797.9,205.0 798.0,189.2 798.1,190.4 798.2,203.3 798.3,204.5 798.4,204.2 798.5,206.5 798.6,199.9 798.7,198.9 798.8,198.7 798.9,197.1 799.0,206.9 799.1,200.6 799.2,200.8 799.3,206.7 799.4,186.8 799.5,185.6 799.6,192.5 799.7,192.6 799.8,198.7 799.9,190.9 800.0,186.8 800.1,190.8 800.2,191.6 800.3,177.5 800.4,182.6 800.5,187.5 800.6,185.7 800.7,183.8 800.8,187.5 800.9,180.8 801.0,182.4 801.1,192.7 801.2,178.7 801.3,184.0 801.4,181.8 801.5,182.9 801.6,171.9 801.7,181.0 801.8,175.7 801.9,184.0 802.0,179.4 802.1,171.2 802.2,178.0 802.3,176.0 802.4,185.9 802.5,178.1 802.6,177.0 802.7,177.1 802.8,190.5 802.9,179.1 803.0,177.8 803.1,177.9 803.2,183.9 803.3,182.3 803.4,180.5 803.5,188.1 803.6,181.7 803.7,185.6 803.8,169.3 803.9,193.4 804.0,186.2 804.1,188.7 804.2,191.6 804.3,189.3 804.4,186.3 804.5,185.7 804.6,197.0 804.7,199.2 804.8,192.9 804.8,195.6 804.9,188.0 805.0,185.5 805.1,194.9 805.2,195.0 805.3,201.8 805.4,199.1 805.5,197.5 805.6,187.5 805.7,209.5 805.8,191.1 805.9,206.9 806.0,200.0 806.1,196.2 806.2,201.2 806.3,200.9 806.4,204.0 806.5,202.9 806.6,199.5 806.7,198.0 806.8,209.3 806.9,205.2 807.0,209.6 807.1,207.1 807.2,206.4 807.3,222.2 807.4,214.9 807.5,201.3 807.6,199.0 807.7,217.2 807.8,201.3 807.9,210.0 808.0,220.6 808.1,213.4 808.2,203.6 808.3,203.2 808.4,211.6 808.5,217.1 808.6,225.1 808.7,219.5 808.8,227.5 808.9,218.3 809.0,218.2 809.1,216.7 809.2,208.0 809.3,220.5 809.4,226.4 809.5,222.2 809.6,210.6 809.7,224.1 809.8,211.9 809.9,220.0 810.0,207.8 810.1,215.3 810.2,218.9 810.3,205.1 810.4,206.2 810.5,217.7 810.6,210.6 810.7,211.9 810.8,199.1 810.9,206.7 811.0,202.7 811.1,206.8 811.2,218.1 811.3,208.6 811.4,211.3 811.5,202.6 811.6,209.3 811.7,205.1 811.8,215.2 811.9,202.6 812.0,204.2 812.1,205.0 812.2,189.7 812.3,198.7 812.4,192.9 812.5,196.6 812.6,190.7 812.7,189.1 812.8,195.6 812.9,206.2 813.0,197.1 813.1,187.7 813.2,186.6 813.3,197.1 813.4,208.0 813.5,195.4 813.6,201.6 813.7,200.4 813.8,191.6 813.9,186.1 814.0,195.6 814.1,195.4 814.2,189.1 814.3,178.8 814.4,178.5 814.5,187.7 814.6,183.7 814.7,189.0 814.8,187.1 814.9,178.6 815.0,185.8 815.1,172.6 815.2,177.3 815.3,177.8 815.4,179.8 815.5,173.2 815.6,173.7 815.7,180.4 815.8,178.7 815.9,172.1 816.0,182.5 816.1,171.4 816.2,174.9 816.3,168.3 816.4,181.1 816.5,165.8 816.6,180.8 816.7,188.1 816.8,184.4 816.9,175.6 817.0,182.8 817.1,189.5 817.2,189.7 817.3,175.3 817.4,194.7 817.5,193.5 817.6,180.2 817.7,182.8 817.8,188.7 817.9,187.3 818.0,175.4 818.1,194.9 818.2,185.6 818.3,191.1 818.4,179.7 818.5,202.1 818.6,195.9 818.7,190.7 818.8,189.3 818.9,198.4 819.0,190.1 819.1,190.1 819.2,207.7 819.3,195.4 819.4,194.0 819.5,189.6 819.6,198.3 819.7,203.0 819.8,203.7 819.9,198.9 820.0,197.6 820.1,203.3 820.2,204.3 820.3,206.2 820.4,201.4 820.5,203.3 820.6,215.2 820.7,198.5 820.8,208.6 820.9,203.9 821.0,208.8 821.1,216.7 821.2,215.2 821.3,215.2 821.4,219.4 821.5,204.7 821.6,218.6 821.7,209.0 821.8,220.8 821.9,213.5 822.0,214.0 822.1,210.9 822.2,216.5 822.3,216.7 822.4,207.0 822.5,211.5 822.6,220.4 822.7,218.1 822.8,221.1 822.9,217.1 823.0,211.0 823.1,225.4 823.2,214.1 823.3,217.7 823.4,218.3 823.5,219.6 823.6,212.6 823.7,218.2 823.8,224.7 823.9,212.5 824.0,218.0 824.1,206.0 824.2,218.7 824.3,210.0 824.4,216.3 824.5,217.9 824.6,200.2 824.7,204.6 824.8,208.5 824.9,209.1 825.0,214.8 825.1,203.1 825.2,212.3 825.3,217.7 825.4,206.7 825.5,214.0 825.6,209.5 825.7,202.6 825.8,200.7 825.9,206.6 826.0,200.0 826.1,196.4 826.2,209.2 826.3,200.9 826.4,189.0 826.5,195.0 826.6,189.4 826.7,194.8 826.8,187.9 826.9,200.9 827.0,199.9 827.1,190.9 827.2,198.1 827.3,199.2 827.4,194.4 827.5,187.3 827.6,193.8 827.7,184.2 827.8,196.5 827.9,199.7 828.0,185.5 828.1,202.8 828.2,187.4 828.3,180.8 828.4,183.9 828.5,173.6 828.6,195.6 828.7,185.2 828.8,171.7 828.9,184.2 829.0,183.9 829.1,180.2 829.2,183.9 829.3,174.9 829.4,175.3 829.5,174.5 829.6,177.7 829.7,180.6 829.8,178.2 829.9,182.5 830.0,177.1 830.1,170.6 830.2,166.9 830.3,175.4 830.4,167.8 830.5,179.5 830.6,172.0 830.7,186.8 830.8,171.0 830.9,188.5 831.0,187.4 831.1,176.4 831.2,177.1 831.3,183.8 831.4,175.8 831.5,187.9 831.6,173.0 831.7,184.7 831.8,188.2 831.9,174.2 832.0,185.2 832.1,183.6 832.2,193.4 832.3,191.8 832.4,198.6 832.5,185.0 832.6,186.3 832.7,190.8 832.8,192.6 832.9,210.6 833.0,193.0 833.1,193.2 833.2,199.4 833.3,195.7 833.4,202.2 833.5,195.0 833.6,196.7 833.7,200.2 833.8,196.3 833.9,196.6 834.0,199.5 834.1,195.1 834.2,196.0 834.3,198.1 834.4,202.1 834.5,202.2 834.6,196.7 834.7,196.7 834.8,212.1 834.9,202.7 835.0,207.1 835.1,208.5 835.2,213.5 835.3,211.4 835.4,213.0 835.5,219.0 835.6,216.0 835.7,218.0 835.8,221.0 835.9,210.7 836.0,217.8 836.1,221.8 836.2,224.0 836.3,216.4 836.4,217.0 836.5,221.0 836.6,215.5 836.7,217.1 836.8,213.2 836.9,207.3 837.0,213.6 837.1,218.1 837.2,210.2 837.3,218.5 837.4,213.7 837.5,218.1 837.6,209.9 837.7,206.6 837.8,216.5 837.9,218.4 838.0,213.7 838.1,215.5 838.2,215.1 838.3,217.4 838.4,210.0 838.5,203.7 838.6,215.3 838.7,206.9 838.8,201.7 838.9,217.8 839.0,205.5 839.1,211.9 839.2,203.6 839.3,200.9 839.4,205.7 839.5,207.2 839.6,208.5 839.7,206.5 839.8,204.0 839.9,192.1 840.0,198.5 840.1,200.4 840.2,197.0 840.3,197.6 840.4,192.5 840.5,200.0 840.6,202.3 840.7,196.4 840.8,204.2 840.9,197.3 841.0,204.5 841.1,207.6 841.2,192.5 841.3,194.9 841.4,190.0 841.5,190.6 841.6,187.2 841.7,183.5 841.8,187.4 841.9,192.6 842.0,188.0 842.1,193.8 842.2,189.8 842.3,180.4 842.4,178.7 842.5,191.2 842.6,188.1 842.7,179.8 842.8,186.6 842.9,186.7 843.0,181.4 843.1,179.6 843.2,181.6 843.3,185.0 843.4,171.5 843.5,176.3 843.6,176.6 843.7,187.8 843.8,174.3 843.9,193.6 844.0,175.2 844.1,180.0 844.2,181.4 844.3,177.0 844.4,175.2 844.5,180.2 844.6,176.2 844.7,176.7 844.8,177.6 844.9,181.0 845.0,187.2 845.1,187.2 845.2,186.6 845.3,189.7 845.4,190.7 845.5,182.9 845.6,177.8 845.7,190.0 845.8,191.4 845.9,188.4 846.0,188.2 846.1,187.7 846.2,195.4 846.3,194.7 846.4,186.0 846.5,198.2 846.6,190.4 846.7,191.2 846.8,181.9 846.9,199.5 847.0,194.4 847.1,192.3 847.2,204.7 847.3,200.0 847.4,199.0 847.5,207.8 847.6,199.4 847.7,210.9 847.8,193.6 847.9,201.2 848.0,197.3 848.1,191.8 848.2,190.0 848.3,208.4 848.4,206.0 848.5,205.4 848.6,210.7 848.7,200.8 848.8,198.3 848.9,212.9 849.0,199.8 849.1,212.1 849.2,207.7 849.3,203.1 849.4,212.8 849.5,204.0 849.6,212.4 849.7,215.8 849.8,213.4 849.9,213.8 850.0,216.0 850.1,203.5 850.2,215.3 850.3,209.4 850.4,220.5 850.5,214.9 850.6,213.7 850.7,220.8 850.8,213.2 850.9,226.0 851.0,217.6 851.1,220.5 851.2,217.6 851.3,221.4 851.4,223.4 851.5,216.9 851.6,215.0 851.7,213.5 851.8,213.3 851.9,217.9 852.0,212.2 852.1,205.2 852.2,217.4 852.3,205.2 852.4,210.0 852.5,207.9 852.6,214.1 852.7,215.7 852.8,203.6 852.9,211.6 853.0,215.4 853.1,207.8 853.2,212.4 853.3,210.8 853.4,192.2 853.5,203.6 853.6,200.6 853.7,210.8 853.8,206.0 853.9,208.3 854.0,193.0 854.1,198.0 854.2,202.8 854.3,200.5 854.4,200.3 854.5,206.8 854.6,197.1 854.7,197.7 854.8,187.8 854.9,195.1 855.0,196.9 855.1,193.8 855.2,188.9 855.3,203.4 855.4,196.0 855.5,190.6 855.6,195.9 855.7,190.5 855.8,191.9 855.9,172.0 856.0,198.4 856.1,193.3 856.2,193.5 856.3,179.0 856.4,194.3 856.5,176.2 856.6,185.9 856.7,188.8 856.8,74.7 856.9,82.9 857.0,74.8 857.1,68.5 857.2,65.4 857.3,76.0 857.4,69.0 857.5,66.0 857.6,72.7 857.7,63.3 857.8,64.6 857.9,73.2 858.0,65.4 858.1,74.3 858.2,66.3 858.3,73.9 858.4,70.6 858.5,69.7 858.6,60.3 858.7,75.5 858.8,67.4 858.9,64.1 859.0,80.4 859.1,69.6 859.2,66.0 859.3,69.5 859.4,64.8 859.5,69.0 859.6,82.9 859.7,73.1 859.8,71.6 859.9,79.6 860.0,62.5 860.1,82.3 860.2,80.7 860.3,83.5 860.4,78.5 860.5,89.5 860.6,87.2 860.7,79.2 860.8,92.9 860.9,80.7 861.0,85.1 861.1,84.5 861.2,79.5 861.3,78.2 861.4,81.9 861.5,84.5 861.5,87.2 861.6,95.3 861.7,86.1 861.8,98.6 861.9,95.6 862.0,90.1 862.1,94.5 862.2,93.7 862.3,102.5 862.4,100.5 862.5,87.7 862.6,104.3 862.7,102.6 862.8,117.6 862.9,104.0 863.0,105.7 863.1,110.4 863.2,101.4 863.3,98.6 863.4,104.9 863.5,97.3 863.6,101.4 863.7,106.2 863.8,114.6 863.9,110.0 864.0,108.8 864.1,109.8 864.2,121.1 864.3,115.7 864.4,120.1 864.5,113.9 864.6,107.0 864.7,122.8 864.8,119.5 864.9,107.3 865.0,120.3 865.1,108.7 865.2,108.7 865.3,108.7 865.4,106.0 865.5,114.7 865.6,116.3 865.7,112.4 865.8,109.3 865.9,111.8 866.0,108.2 866.1,106.5 866.2,108.6 866.3,100.0 866.4,109.9 866.5,104.1 866.6,112.4 866.7,96.7 866.8,104.9 866.9,103.7 867.0,114.3 867.1,105.5 867.2,93.9 867.3,103.1 867.4,99.6 867.5,96.5 867.6,87.5 867.7,94.0 867.8,92.9 867.9,80.2 868.0,95.0 868.1,84.0 868.2,97.6 868.3,93.1 868.4,86.6 868.5,92.3 868.6,94.2 868.7,91.0 868.8,90.7 868.9,94.4 869.0,76.4 869.1,89.2 869.2,83.0 869.3,89.4 869.4,81.6 869.5,86.4 869.6,69.2 869.7,84.9 869.8,81.1 869.9,77.3 870.0,75.9 870.1,70.5 870.2,70.3 870.3,77.3 870.4,77.6 870.5,73.5 870.6,70.6 870.7,77.7 870.8,68.8 870.9,67.5 871.0,67.7 871.1,68.3 871.2,68.4 871.3,68.3 871.4,65.7 871.5,61.0 871.6,63.0 871.7,63.7 871.8,59.2 871.9,50.1 872.0,66.9 872.1,59.2 872.2,61.4 872.3,68.2 872.4,56.6 872.5,69.5 872.6,63.5 872.7,67.5 872.8,66.9 872.9,72.1 873.0,66.7 873.1,72.0 873.2,62.0 873.3,75.7 873.4,81.3 873.5,77.8 873.6,75.5 873.7,74.0 873.8,80.9 873.9,87.1 874.0,79.4 874.1,84.4 874.2,81.9 874.3,86.2 874.4,75.4 874.5,88.5 874.6,82.7 874.7,84.0 874.8,90.0 874.9,90.2 875.0,96.4 875.1,97.6 875.2,80.6 875.3,85.6 875.4,89.1 875.5,85.7 875.6,91.9 875.7,92.2 875.8,81.4 875.9,89.6 876.0,90.2 876.1,92.4 876.2,93.1 876.3,94.8 876.4,92.4 876.5,93.9 876.6,92.3 876.7,110.0 876.8,106.9 876.9,102.6 877.0,111.4 877.1,102.5 877.2,105.7 877.3,107.0 877.4,109.4 877.5,101.8 877.6,109.8 877.7,104.8 877.8,111.0 877.9,114.2 878.0,113.3 878.1,113.3 878.2,110.6 878.3,108.9 878.4,110.6 878.5,119.1 878.6,114.0 878.7,112.2 878.8,115.4 878.9,107.6 879.0,117.8 879.1,113.9 879.2,117.6 879.3,108.5 879.4,116.5 879.5,116.2 879.6,111.2 879.7,108.0 879.8,109.0 879.9,106.3 880.0,111.3 880.1,108.4 880.2,109.1 880.3,102.2 880.4,106.6 880.5,101.9 880.6,113.1 880.7,107.7 880.8,99.6 880.9,96.1 881.0,105.7 881.1,92.4 881.2,100.3 881.3,97.2 881.4,92.2 881.5,85.1 881.6,95.9 881.7,97.3 881.8,83.6 881.9,81.2 882.0,93.0 882.1,85.7 882.2,87.7 882.3,89.3 882.4,94.3 882.5,94.0 882.6,97.3 882.7,91.8 882.8,97.7 882.9,89.8 883.0,87.0 883.1,84.1 883.2,87.3 883.3,82.5 883.4,86.8 883.5,73.7 883.6,89.0 883.7,85.7 883.8,87.3 883.9,80.6 884.0,84.9 884.1,80.0 884.2,72.2 884.3,71.6 884.4,76.2 884.5,76.9 884.6,64.4 884.7,76.5 884.8,63.0 884.9,71.3 885.0,67.7 885.1,73.7 885.2,68.0 885.3,66.3 885.4,69.5 885.5,73.9 885.6,61.9 885.7,64.0 885.8,63.9 885.9,57.3 886.0,68.2 886.1,63.9 886.2,61.3 886.3,64.2 886.4,70.6 886.5,70.1 886.6,80.6 886.7,68.0 886.8,68.8 886.9,78.2 887.0,71.8 887.1,71.4 887.2,62.8 887.3,74.9 887.4,73.4 887.5,72.1 887.6,78.6 887.7,86.3 887.8,82.6 887.9,68.0 888.0,72.4 888.1,70.9 888.2,78.1 888.3,82.9 888.4,75.6 888.5,84.7 888.6,79.0 888.7,84.3 888.8,86.7 888.9,90.7 889.0,90.2 889.1,98.7 889.2,92.4 889.3,103.1 889.4,95.6 889.5,96.5 889.6,94.9 889.7,86.5 889.8,99.3 889.9,87.8 890.0,90.7 890.1,92.1 890.2,87.6 890.3,94.4 890.4,85.5 890.5,94.5 890.6,98.3 890.7,98.3 890.8,95.5 890.9,108.9 891.0,100.5 891.1,106.1 891.2,102.5 891.3,107.2 891.4,99.8 891.5,100.0 891.6,106.0 891.7,105.4 891.8,102.9 891.9,102.0 892.0,106.9 892.1,101.7 892.2,111.9 892.3,110.3 892.4,110.6 892.5,117.1 892.6,119.0 892.7,111.8 892.8,111.8 892.9,110.6 893.0,120.0 893.1,108.9 893.2,119.7 893.3,110.3 893.4,107.0 893.5,117.0 893.6,108.4 893.7,120.8 893.8,109.0 893.9,120.0 894.0,110.7 894.1,111.8 894.2,112.6 894.3,109.2 894.4,107.8 894.5,106.5 894.6,101.0 894.7,99.6 894.8,100.3 894.9,101.0 895.0,108.4 895.1,102.8 895.2,91.5 895.3,108.0 895.4,101.5 895.5,100.0 895.6,95.6 895.7,95.9 895.8,88.5 895.9,89.2 896.0,96.1 896.1,97.0 896.2,86.4 896.3,83.9 896.4,82.5 896.5,81.6 896.6,87.1 896.7,87.1 896.8,91.6 896.9,87.9 897.0,76.9 897.1,84.4 897.2,89.0 897.3,83.1 897.4,82.3 897.5,86.4 897.6,89.8 897.7,78.7 897.8,86.6 897.9,81.6 898.0,73.2 898.1,72.7 898.2,78.4 898.3,77.5 898.4,67.2 898.5,75.6 898.6,67.0 898.7,59.8 898.8,79.4 898.9,73.4 899.0,76.8 899.1,65.3 899.2,71.0 899.3,52.4 899.4,64.0 899.5,67.5 899.6,75.6 899.7,64.8 899.8,66.9 899.9,76.6 900.0,74.5 900.1,60.9 900.2,66.0 900.3,76.4 900.4,69.2 900.5,66.7 900.6,71.9 900.7,63.2 900.8,72.8 900.9,80.1 901.0,64.7 901.1,70.9 901.2,80.9 901.3,72.7 901.4,67.3 901.5,76.5 901.6,76.3 901.7,88.0 901.8,80.5 901.9,84.5 902.0,83.0 902.1,86.3 902.2,81.9 902.3,80.1 902.4,76.0 902.5,89.5 902.6,85.7 902.7,89.9 902.8,85.8 902.9,94.4 903.0,84.6 903.1,80.8 903.2,90.4 903.3,86.6 903.4,88.1 903.5,92.6 903.6,90.7 903.7,95.4 903.8,90.4 903.9,88.6 904.0,92.9 904.1,86.3 904.2,92.4 904.3,97.3 904.4,96.1 904.5,94.0 904.6,94.6 904.7,111.7 904.8,99.6 904.9,99.1 905.0,107.8 905.1,97.6 905.2,99.2 905.3,97.9 905.4,102.7 905.5,101.4 905.6,114.2 905.7,113.3 905.8,115.7 905.9,116.3 906.0,115.0 906.1,116.7 906.2,114.7 906.3,112.1 906.4,115.5 906.5,118.9 906.6,105.0 906.7,117.4 906.8,126.2 906.9,113.1 907.0,114.5 907.1,111.8 907.2,115.9 907.3,108.9 907.4,113.7 907.5,121.1 907.6,118.7 907.7,117.6 907.8,115.5 907.9,118.3 908.0,107.1 908.1,109.5 908.2,112.8 908.3,102.2 908.4,101.5 908.5,102.1 908.6,97.1 908.7,107.0 908.8,106.7 908.9,98.5 909.0,104.4 909.1,105.7 909.2,105.8 909.3,93.0 909.4,97.4 909.5,94.2 909.6,88.8 909.7,90.4 909.8,92.0 909.9,102.0 910.0,104.5 910.1,94.7 910.2,92.6 910.3,92.5 910.4,95.2 910.5,88.4 910.6,84.9 910.7,95.9 910.8,88.6 910.9,83.5 911.0,92.6 911.1,87.3 911.2,88.7 911.3,83.0 911.4,85.8 911.5,83.1 911.6,81.9 911.7,85.3 911.8,76.2 911.9,77.1 912.0,64.8 912.1,72.8 912.2,62.5 912.3,75.9 912.4,69.2 912.5,72.7 912.6,77.6 912.7,73.4 912.8,82.3 912.9,72.1 913.0,67.7 913.1,70.0 913.2,64.9 913.3,61.6 913.4,72.5 913.5,65.5 913.6,66.0 913.7,67.4 913.8,79.6 913.9,67.5 914.0,69.3 914.1,67.4 914.2,69.1 914.3,61.0 914.4,58.4 914.5,71.2 914.6,63.8 914.7,71.5 914.8,69.9 914.9,72.5 915.0,73.3 915.1,68.2 915.2,65.6 915.3,68.3 915.4,75.6 915.5,74.7 915.6,77.4 915.7,73.0 915.8,76.5 915.9,78.7 916.0,79.3 916.1,82.9 916.2,83.7 916.3,76.5 916.4,78.6 916.5,89.6 916.6,86.8 916.7,83.3 916.8,93.3 916.9,82.8 917.0,89.1 917.1,92.1 917.2,85.8 917.3,86.5 917.4,92.4 917.5,82.3 917.6,92.8 917.7,80.2 917.8,87.3 917.9,85.8 918.0,88.8 918.1,95.8 918.1,101.1 918.2,95.0 918.3,94.3 918.4,111.1 918.5,91.6 918.6,111.9 918.7,106.1 918.8,92.2 918.9,100.0 919.0,104.8 919.1,103.4 919.2,91.3 919.3,105.0 919.4,106.3 919.5,108.3 919.6,98.3 919.7,104.9 919.8,111.6 919.9,116.7 920.0,98.6 920.1,113.7 920.2,109.9 920.3,116.8 920.4,116.9 920.5,114.6 920.6,114.7 920.7,119.7 920.8,109.5 920.9,111.4 921.0,116.9 921.1,115.7 921.2,111.5 921.3,115.4 921.4,113.3 921.5,114.3 921.6,126.8 921.7,121.8 921.8,110.0 921.9,120.3 922.0,118.3 922.1,117.6 922.2,113.9 922.3,112.1 922.4,100.0 922.5,103.1 922.6,103.3 922.7,99.9 922.8,102.9 922.9,108.3 923.0,99.0 923.1,98.6 923.2,85.6 923.3,96.2 923.4,99.6 923.5,92.5 923.6,90.0 923.7,88.8 923.8,91.0 923.9,87.2 924.0,75.5 924.1,87.1 924.2,96.6 924.3,81.2 924.4,90.5 924.5,94.4 924.6,92.8 924.7,91.7 924.8,86.2 924.9,98.7 925.0,92.6 925.1,92.3 925.2,78.0 925.3,89.6 925.4,89.9 925.5,77.5 925.6,71.2 925.7,73.8 925.8,77.9 925.9,77.0 926.0,83.1 926.1,78.0 926.2,80.8 926.3,73.9 926.4,75.8 926.5,81.8 926.6,72.1 926.7,72.0 926.8,74.8 926.9,74.5 927.0,70.9 927.1,76.2 927.2,77.6 927.3,66.7 927.4,69.7 927.5,68.2 927.6,58.1 927.7,67.2 927.8,61.7 927.9,77.5 928.0,53.3 928.1,68.8 928.2,57.4 928.3,63.0 928.4,72.3 928.5,72.6 928.6,62.3 928.7,81.0 928.8,70.2 928.9,78.1 929.0,68.2 929.1,67.0 929.2,75.6 929.3,78.4 929.4,68.1 929.5,78.3 929.6,76.2 929.7,83.6 929.8,89.6 929.9,77.1 930.0,86.7 930.1,88.0 930.2,77.4 930.3,82.4 930.4,89.3 930.5,86.3 930.6,89.8 930.7,100.0 930.8,95.1 930.9,90.0 931.0,90.7 931.1,91.3 931.2,87.9 931.3,92.3 931.4,84.4 931.5,87.6 931.6,88.3 931.7,95.2 931.8,97.7 931.9,98.2 932.0,102.9 932.1,101.3 932.2,101.1 932.3,94.7 932.4,97.1 932.5,92.6 932.6,93.1 932.7,104.6 932.8,95.1 932.9,106.3 933.0,89.4 933.1,102.5 933.2,112.8 933.3,120.3 933.4,111.5 933.5,116.3 933.6,112.8 933.7,106.6 933.8,109.6 933.9,110.2 934.0,107.5 934.1,110.3 934.2,113.2 934.3,108.9 934.4,118.5 934.5,117.1 934.6,113.4 934.7,112.0 934.8,121.9 934.9,112.0 935.0,117.5 935.1,120.7 935.2,121.8 935.3,110.4 935.4,114.1 935.5,108.7 935.6,105.4 935.7,103.8 935.8,100.8 935.9,108.4 936.0,103.0 936.1,110.1 936.2,92.8 936.3,100.3 936.4,99.3 936.5,97.8 936.6,106.4 936.7,98.8 936.8,102.7 936.9,94.4 937.0,94.7 937.1,100.1 937.2,96.3 937.3,99.0 937.4,98.1 937.5,97.1 937.6,93.7 937.7,91.7 937.8,96.9 937.9,78.9 938.0,102.9 938.1,101.1 938.2,91.2 938.3,86.4 938.4,88.0 938.5,87.8 938.6,88.9 938.7,85.9 938.8,85.0 938.9,84.9 939.0,76.2 939.1,89.2 939.2,85.3 939.3,91.9 939.4,73.5 939.5,87.5 939.6,88.2 939.7,87.8 939.8,72.0 939.9,79.1 940.0,82.5 940.1,80.2 940.2,79.6 940.3,70.2 940.4,81.3 940.5,74.6 940.6,63.2 940.7,63.9 940.8,76.7 940.9,73.8 941.0,60.2 941.1,63.0 941.2,69.8 941.3,69.9 941.4,65.1 941.5,69.8 941.6,58.5 941.7,73.3 941.8,70.6 941.9,64.8 942.0,67.4 942.1,70.2 942.2,66.4 942.3,72.5 942.4,71.1 942.5,72.4 942.6,70.5 942.7,70.0 942.8,83.1 942.9,81.1 943.0,70.1 943.1,80.0 943.2,73.1 943.3,82.9 943.4,77.1 943.5,79.1 943.6,78.9 943.7,85.6 943.8,80.1 943.9,80.7 944.0,76.5 944.1,89.7 944.2,87.0 944.3,89.7 944.4,100.1 944.5,87.5 944.6,87.2 944.7,86.1 944.8,86.6 944.9,94.1 945.0,88.1 945.1,83.7 945.2,90.1 945.3,92.4 945.4,102.4 945.5,100.0 945.6,91.8 945.7,95.7 945.8,88.6 945.9,93.5 946.0,94.5 946.1,90.6 946.2,100.0 946.3,92.1 946.4,101.3 946.5,98.7 946.6,104.0 946.7,107.7 946.8,110.8 946.9,107.5 947.0,101.9 947.1,107.7 947.2,106.0 947.3,107.5 947.4,105.8 947.5,108.2 947.6,112.6 947.7,107.9 947.8,121.7 947.9,113.5 948.0,116.4 948.1,120.9 948.2,115.8 948.3,116.4 948.4,115.1 948.5,111.0 948.6,113.2 948.7,110.2 948.8,110.4 948.9,111.1 949.0,113.0 949.1,122.3 949.2,121.9 949.3,111.2 949.4,103.1 949.5,110.7 949.6,109.0 949.7,112.8 949.8,115.7 949.9,109.6 950.0,109.9 950.1,117.8 950.2,108.1 950.3,115.3 950.4,112.3 950.5,98.6 950.6,97.8 950.7,94.7 950.8,94.3 950.9,96.8 951.0,98.0 951.1,101.7 951.2,90.7 951.3,90.1 951.4,101.3 951.5,89.7 951.6,85.1 951.7,87.2 951.8,90.1 951.9,88.8 952.0,91.7 952.1,90.2 952.2,81.7 952.3,92.1 952.4,89.7 952.5,82.7 952.6,80.0 952.7,90.6 952.8,89.1 952.9,89.3 953.0,85.2 953.1,90.4 953.2,86.1 953.3,86.6 953.4,80.2 953.5,83.7 953.6,83.5 953.7,78.8 953.8,72.9 953.9,70.5 954.0,77.1 954.1,71.7 954.2,83.0 954.3,73.3 954.4,71.1 954.5,75.9 954.6,62.0 954.7,67.3 954.8,72.9 954.9,60.7 955.0,68.3 955.1,70.7 955.2,62.7 955.3,62.0 955.4,68.6 955.5,70.9 955.6,70.5 955.7,68.9 955.8,79.4 955.9,62.4 956.0,67.3 956.1,80.5 956.2,59.9 956.3,74.5 956.4,70.6 956.5,71.9 956.6,68.6 956.7,74.0 956.8,74.2 956.9,77.0 957.0,70.9 957.1,81.7 957.2,84.7 957.3,76.3 957.4,81.3 957.5,83.4 957.6,81.5 957.7,87.0 957.8,85.5 957.9,94.9 958.0,74.8 958.1,84.5 958.2,87.2 958.3,89.5 958.4,82.6 958.5,85.1 958.6,95.7 958.7,94.3 958.8,89.9 958.9,100.5 959.0,97.7 959.1,97.3 959.2,91.8 959.3,88.4 959.4,92.6 959.5,89.0 959.6,89.9 959.7,99.6 959.8,100.4 959.9,107.9 960.0,89.7 960.1,105.8 960.2,105.8 960.3,105.7 960.4,97.9 960.5,99.9 960.6,103.0 960.7,106.3 960.8,107.8 960.9,105.0 961.0,112.8 961.1,103.5 961.2,113.4 961.3,110.7 961.4,110.0 961.5,107.3 961.6,112.4 961.7,114.6 961.8,103.3 961.9,105.0 962.0,101.7 962.1,98.3 962.2,113.0 962.3,103.8 962.4,115.5 962.5,116.6 962.6,117.0 962.7,116.7 962.8,109.8 962.9,120.9 963.0,113.5 963.1,114.8 963.2,121.1 963.3,100.6 963.4,116.7 963.5,113.8 963.6,112.0 963.7,105.2 963.8,112.7 963.9,114.3 964.0,103.9 964.1,108.2 964.2,101.0 964.3,107.5 964.4,104.6 964.5,97.4 964.6,108.8 964.7,106.9 964.8,93.8 964.9,102.2 965.0,98.6 965.1,96.7 965.2,98.9 965.3,104.9 965.4,94.4 965.5,97.0 965.6,86.5 965.7,91.0 965.8,98.0 965.9,96.2 966.0,92.4 966.1,92.5 966.2,92.7 966.3,96.8 966.4,94.4 966.5,89.1 966.6,95.8 966.7,85.2 966.8,77.7 966.9,90.8 967.0,86.1 967.1,79.5 967.2,90.5 967.3,79.1 967.4,74.4 967.5,78.7 967.6,78.3 967.7,65.1 967.8,77.7 967.9,77.0 968.0,76.9 968.1,81.9 968.2,76.2 968.3,83.6 968.4,68.0 968.5,76.7 968.6,72.9 968.7,72.4 968.8,63.3 968.9,68.6 969.0,63.8 969.1,65.4 969.2,74.3 969.3,77.1 969.4,65.5 969.5,72.3 969.6,70.0 969.7,77.3 969.8,67.2 969.9,68.3 970.0,74.1 970.1,185.2 970.2,178.9 970.3,185.8 970.4,178.0 970.5,178.3 970.6,176.7 970.7,180.6 970.8,184.6 970.9,183.2 971.0,191.2 971.1,177.8 971.2,185.2 971.3,188.9 971.4,184.5 971.5,190.7 971.6,185.9 971.7,184.0 971.8,186.4 971.9,181.5 972.0,191.6 972.1,193.0 972.2,200.1 972.3,197.0 972.4,192.1 972.5,195.9 972.6,195.4 972.7,192.1 972.8,194.1 972.9,201.1 973.0,187.4 973.1,192.7 973.2,192.9 973.3,190.4 973.4,191.5 973.5,205.4 973.6,204.0 973.7,204.9 973.8,205.6 973.9,202.7 974.0,203.1 974.1,198.7 974.2,208.5 974.3,209.1 974.4,206.7 974.5,207.0 974.6,217.1 974.7,215.8 974.8,213.5 974.8,208.8 974.9,227.9 975.0,214.9 975.1,216.6 975.2,214.5 975.3,219.7 975.4,217.1 975.5,219.3 975.6,221.7 975.7,219.6 975.8,227.3 975.9,224.5 976.0,217.6 976.1,220.9 976.2,226.8 976.3,225.8 976.4,219.6 976.5,220.4 976.6,210.6 976.7,217.2 976.8,222.5 976.9,213.4 977.0,215.1 977.1,218.7 977.2,215.9 977.3,206.1 977.4,218.6 977.5,214.1 977.6,209.6 977.7,206.5 977.8,228.6 977.9,214.4 978.0,213.1 978.1,215.3 978.2,210.9 978.3,207.9 978.4,215.7 978.5,218.7 978.6,202.7 978.7,210.3 978.8,215.6 978.9,205.0 979.0,199.9 979.1,200.6 979.2,201.3 979.3,206.5 979.4,189.6 979.5,203.6 979.6,206.6 979.7,209.2 979.8,193.6 979.9,200.1 980.0,195.7 980.1,196.4 980.2,199.5 980.3,202.2 980.4,204.5 980.5,203.0 980.6,198.5 980.7,195.6 980.8,191.0 980.9,202.8 981.0,185.5 981.1,188.1 981.2,197.2 981.3,186.5 981.4,183.0 981.5,180.2 981.6,175.9 981.7,197.7 981.8,190.0 981.9,182.9 982.0,186.9 982.1,174.7 982.2,179.3 982.3,174.9 982.4,179.8 982.5,190.3 982.6,177.6 982.7,179.5 982.8,181.5 982.9,158.5 983.0,182.7 983.1,175.8 983.2,174.3 983.3,175.5 983.4,174.2 983.5,172.2 983.6,174.6 983.7,176.6 983.8,178.9 983.9,176.9 984.0,172.8 984.1,183.3 984.2,175.5 984.3,176.3 984.4,179.2 984.5,177.8 984.6,180.2 984.7,181.0 984.8,184.2 984.9,185.1 985.0,188.0 985.1,179.4 985.2,191.6 985.3,186.6 985.4,189.5 985.5,184.7 985.6,173.2 985.7,199.8 985.8,183.7 985.9,190.4 986.0,187.5 986.1,200.6 986.2,187.3 986.3,191.3 986.4,198.5 986.5,193.1 986.6,207.6 986.7,193.6 986.8,189.6 986.9,204.4 987.0,192.4 987.1,196.3 987.2,204.0 987.3,207.8 987.4,212.1 987.5,209.6 987.6,205.5 987.7,196.9 987.8,205.1 987.9,201.1 988.0,205.8 988.1,207.6 988.2,203.2 988.3,202.5 988.4,207.1 988.5,205.4 988.6,212.4 988.7,216.8 988.8,207.9 988.9,208.8 989.0,221.6 989.1,213.2 989.2,209.1 989.3,219.2 989.4,227.9 989.5,222.2 989.6,237.8 989.7,218.9 989.8,215.4 989.9,212.1 990.0,217.6 990.1,218.2 990.2,216.9 990.3,223.3 990.4,222.7 990.5,228.9 990.6,214.0 990.7,225.8 990.8,219.8 990.9,228.0 991.0,220.1 991.1,221.6 991.2,212.3 991.3,212.3 991.4,219.7 991.5,229.0 991.6,216.6 991.7,226.6 991.8,210.0 991.9,222.4 992.0,210.2 992.1,213.5 992.2,214.8 992.3,216.8 992.4,207.0 992.5,217.1 992.6,197.5 992.7,204.7 992.8,219.6 992.9,216.9 993.0,198.4 993.1,203.9 993.2,205.5 993.3,196.6 993.4,194.3 993.5,205.7 993.6,193.1 993.7,194.2 993.8,196.5 993.9,199.3 994.0,203.5 994.1,212.7 994.2,194.5 994.3,197.2 994.4,192.8 994.5,185.4 994.6,198.0 994.7,191.3 994.8,190.2 994.9,187.6 995.0,186.1 995.1,192.6 995.2,193.7 995.3,186.9 995.4,183.9 995.5,198.3 995.6,187.8 995.7,176.6 995.8,176.3 995.9,196.7 996.0,181.0 996.1,183.6 996.2,185.6 996.3,177.5 996.4,184.3 996.5,170.4 996.6,172.0 996.7,189.3 996.8,174.4 996.9,166.7 997.0,172.8 997.1,184.5 997.2,180.6 997.3,183.2 997.4,177.4 997.5,171.4 997.6,176.9 997.7,172.3 997.8,174.5 997.9,175.6 998.0,168.4 998.1,183.0 998.2,185.8 998.3,174.1 998.4,177.7 998.5,185.4 998.6,182.3 998.7,186.7 998.8,182.2 998.9,186.7 999.0,193.9 999.1,193.5 999.2,193.8 999.3,178.9 999.4,194.6 999.5,192.3 999.6,187.2 999.7,195.6 999.8,193.1 999.9,194.9 1000.0,188.0 1000.1,194.3 1000.2,197.0 1000.3,209.0 1000.4,195.3 1000.5,199.6 1000.6,190.5 1000.7,195.9 1000.8,200.0 1000.9,193.0 1001.0,196.5 1001.1,209.2 1001.2,199.2 1001.3,196.5 1001.4,199.9 1001.5,202.2 1001.6,200.5 1001.7,202.7 1001.8,204.5 1001.9,207.3 1002.0,209.3 1002.1,205.6 1002.2,208.3 1002.3,217.1 1002.4,211.2 1002.5,205.0 1002.6,216.3 1002.7,207.8 1002.8,211.5 1002.9,211.1 1003.0,218.3 1003.1,215.3 1003.2,221.0 1003.3,207.4 1003.4,221.9 1003.5,217.2 1003.6,219.8 1003.7,229.7 1003.8,232.6 1003.9,214.1 1004.0,222.5 1004.1,213.6 1004.2,224.0 1004.3,213.2 1004.4,220.9 1004.5,214.4 1004.6,223.8 1004.7,213.1 1004.8,217.7 1004.9,213.4 1005.0,224.0 1005.1,217.7 1005.2,216.7 1005.3,208.9 1005.4,217.1 1005.5,214.8 1005.6,219.1 1005.7,218.8" fill="none" stroke="#b8b8b8" stroke-width="0.8"/>
<polyline points="606.5,204.7 607.0,192.4 607.0,188.5 607.5,200.0 607.5,202.0 608.0,185.4 608.0,188.2 608.5,197.7 608.5,199.8 609.0,189.1 609.0,190.1 609.5,202.3 609.5,201.1 610.0,187.4 610.0,186.0 610.5,200.1 610.5,198.2 611.0,185.1 611.0,190.8 611.5,202.9 611.5,200.3 612.0,190.1 612.0,187.3 612.5,204.7 612.5,200.2 613.0,189.0 613.0,187.8 613.5,205.7 613.5,201.4 614.0,191.0 614.0,187.6 614.5,201.9 614.5,201.0 615.0,190.5 615.0,188.7 615.5,206.1 615.5,199.9 616.0,187.1 616.0,189.2 616.5,204.7 616.5,201.0 617.0,190.1 617.0,192.1 617.5,201.1 617.5,202.5 618.0,191.1 618.0,192.1 618.5,202.1 618.5,203.5 619.0,189.8 619.0,191.2 619.5,203.6 619.5,207.8 620.0,188.6 620.0,194.2 620.5,202.7 620.5,203.8 621.0,193.7 621.0,193.4 621.5,203.0 621.5,205.1 622.0,190.0 622.0,189.8 622.5,207.5 622.5,204.9 623.0,190.5 623.0,193.2 623.5,204.6 623.5,202.3 624.0,191.0 624.0,190.7 624.5,206.2 624.5,202.2 625.0,193.1 625.0,188.1 625.5,199.6 625.5,198.0 626.0,189.6 626.0,185.2 626.5,203.0 626.5,199.6 627.0,187.6 627.0,185.4 627.5,200.2 627.5,200.2 628.0,182.4 628.0,187.6 628.5,202.9 628.5,203.7 629.0,187.5 629.0,186.9 629.5,202.4 629.5,201.2 630.0,187.6 630.0,189.4 630.5,204.9 630.5,205.4 631.0,190.1 631.0,192.9 631.5,202.7 631.5,200.2 632.0,189.3 632.0,192.8 632.5,206.4 632.5,210.1 633.0,191.5 633.0,193.1 633.5,205.4 633.5,206.7 634.0,191.3 634.0,195.0 634.5,206.9 634.5,203.5 635.0,191.2 635.0,191.8 635.5,205.4 635.5,204.0 636.0,189.3 636.0,192.3 636.5,207.2 636.5,206.5 637.0,191.5 637.0,192.6 637.5,206.2 637.5,209.5 638.0,189.6 638.0,188.5 638.5,199.5 638.5,209.8 639.0,189.3 639.0,189.9 639.5,204.5 639.5,203.6 640.0,187.5 640.0,189.7 640.5,202.4 640.5,200.7 641.0,187.8 641.0,189.0 641.5,201.2 641.5,204.3 642.0,188.6 642.0,190.4 642.5,204.7 642.5,199.7 643.0,190.9 643.0,189.8 643.5,204.2 643.5,206.7 644.0,193.7 644.0,193.2 644.5,206.7 644.5,204.0 645.0,190.0 645.0,189.7 645.5,206.2 645.5,207.0 646.0,195.9 646.0,192.8 646.5,207.3 646.5,205.5 647.0,192.6 647.0,195.0 647.5,206.8 647.5,209.1 648.0,194.1 648.0,201.5 648.5,209.8 648.5,205.0 649.0,194.9 649.0,194.9 649.5,206.6 649.5,209.2 650.0,193.4 650.0,193.0 650.5,209.3 650.5,208.3 651.0,191.1 651.0,194.9 651.5,206.0 651.5,202.3 652.0,63.6 652.0,63.4 652.5,78.7 652.5,76.1 653.0,63.8 653.0,61.1 653.5,74.6 653.5,76.0 654.0,60.4 654.0,61.1 654.5,67.0 654.5,73.3 655.0,62.4 655.0,60.3 655.5,72.3 655.5,72.8 656.0,61.7 656.0,61.0 656.5,70.4 656.5,75.6 657.0,59.4 657.0,64.8 657.5,78.9 657.5,76.4 658.0,62.6 658.0,62.3 658.5,77.2 658.5,76.6 659.0,64.7 659.0,67.4 659.5,84.0 659.5,79.6 660.0,65.7 660.0,66.8 660.5,81.4 660.5,81.1 661.0,65.9 661.0,66.9 661.5,78.8 661.5,75.4 662.0,65.8 662.0,65.4 662.5,79.2 662.5,78.3 663.0,63.3 663.0,61.7 663.5,76.8 663.5,81.2 664.0,70.2 664.0,68.6 664.5,77.5 664.5,78.8 665.0,69.4 665.0,67.5 665.5,77.5 665.5,83.5 666.0,68.4 666.0,69.6 666.5,80.2 666.5,83.1 667.0,67.5 667.0,69.4 667.5,82.3 667.5,83.8 668.0,68.3 668.0,69.0 668.5,80.2 668.5,81.8 669.0,68.8 669.0,69.7 669.5,85.8 669.5,81.2 670.0,68.6 670.0,72.5 670.5,83.4 670.5,84.7 671.0,69.1 671.0,69.9 671.5,81.1 671.5,83.5 672.0,75.8 672.0,76.0 672.5,89.1 672.5,91.0 673.0,74.0 673.0,79.5 673.5,91.0 673.5,93.8 674.0,79.8 674.0,80.1 674.5,90.6 674.5,90.2 675.0,80.5 675.0,80.5 675.5,95.0 675.5,96.2 676.0,85.4 676.0,83.9 676.5,91.6 676.5,98.5 677.0,85.9 677.0,82.0 677.5,93.0 677.5,96.0 678.0,82.6 678.0,80.4 678.5,95.1 678.5,93.4 679.0,80.7 679.0,85.2 679.5,95.2 679.5,96.6 680.0,81.7 680.0,85.0 680.5,98.0 680.5,95.0 681.0,80.9 681.0,78.6 681.5,95.6 681.5,89.3 682.0,79.3 682.0,77.0 682.5,93.9 682.5,87.9 683.0,74.7 683.0,82.4 683.5,87.6 683.5,92.6 684.0,79.4 684.0,83.8 684.5,89.5 684.5,90.5 685.0,81.7 685.0,82.0 685.5,93.1 685.5,89.9 686.0,80.9 686.0,81.3 686.5,91.5 686.5,89.4 687.0,75.7 687.0,74.5 687.5,91.1 687.5,92.0 688.0,81.2 688.0,81.9 688.5,95.9 688.5,93.0 689.0,84.5 689.0,79.4 689.5,90.9 689.5,94.9 690.0,87.1 690.0,83.7 690.5,99.4 690.5,93.0 691.0,82.7 691.0,78.9 691.5,90.7 691.5,94.2 692.0,84.2 692.0,80.3 692.5,94.7 692.5,95.0 693.0,81.9 693.0,80.9 693.5,93.8 693.5,94.7 694.0,80.0 694.0,79.6 694.5,89.8 694.5,96.1 695.0,80.8 695.0,77.4 695.5,95.9 695.5,91.8 696.0,80.5 696.0,79.0 696.5,91.5 696.5,91.7 697.0,79.7 697.0,83.4 697.5,95.5 697.5,95.9 698.0,82.5 698.0,80.1 698.5,93.9 698.5,95.6 699.0,81.8 699.0,82.9 699.5,97.1 699.5,94.3 700.0,84.0 700.0,81.1 700.5,93.8 700.5,96.1 701.0,81.9 701.0,82.0 701.5,99.4 701.5,93.7 702.0,80.3 702.0,79.9 702.5,89.1 702.5,97.4 703.0,82.1 703.0,84.2 703.5,96.2 703.5,91.2 704.0,78.1 704.0,74.5 704.5,88.7 704.5,88.1 705.0,77.9 705.0,75.8 705.5,88.7 705.5,88.1 706.0,77.7 706.0,74.3 706.5,95.8 706.5,90.0 707.0,82.5 707.0,79.0 707.5,89.9 707.5,91.4 708.0,78.7 708.0,80.2 708.5,92.8 708.5,95.9 709.0,77.6 709.0,75.8 709.5,89.7 709.5,91.8 710.0,81.3 710.0,77.8 710.5,97.1 710.5,92.5 711.0,82.1 711.0,80.5 711.5,90.7 711.5,93.5 712.0,80.5 712.0,82.0 712.5,95.4 712.5,94.6 713.0,84.2 713.0,81.6 713.5,93.4 713.5,95.6 714.0,81.6 714.0,85.1 714.5,94.0 714.5,97.7 715.0,81.2 715.0,83.8 715.5,94.8 715.5,99.0 716.0,89.9 716.0,83.2 716.5,100.0 716.5,97.0 717.0,82.6 717.0,84.7 717.5,99.8 717.5,93.0 718.0,80.4 718.0,79.7 718.5,94.5 718.5,92.9 719.0,77.0 719.0,77.0 719.5,92.7 719.5,92.0 720.0,80.2 720.0,79.0 720.5,96.5 720.5,96.0 721.0,86.2 721.0,87.2 721.5,96.6 721.5,96.9 722.0,83.8 722.0,87.8 722.5,97.5 722.5,101.6 723.0,86.0 723.0,87.5 723.5,97.9 723.5,96.4 724.0,87.6 724.0,89.3 724.5,97.5 724.5,93.5 725.0,80.3 725.0,81.5 725.5,97.0 725.5,90.8 726.0,81.5 726.0,78.4 726.5,95.2 726.5,95.1 727.0,79.1 727.0,81.2 727.5,91.5 727.5,93.1 728.0,78.2 728.0,78.4 728.5,95.0 728.5,96.7 729.0,76.6 729.0,80.8 729.5,94.6 729.5,91.1 730.0,76.9 730.0,78.6 730.5,85.6 730.5,95.0 731.0,78.9 731.0,79.0 731.5,93.6 731.5,98.2 732.0,82.1 732.0,88.9 732.5,96.0 732.5,94.0 733.0,82.2 733.0,82.1 733.5,96.2 733.5,90.8 734.0,78.3 734.0,76.7 734.5,95.4 734.5,93.2 735.0,80.9 735.0,79.1 735.5,91.5 735.5,90.6 736.0,77.3 736.0,74.0 736.5,89.8 736.5,92.4 737.0,79.0 737.0,79.7 737.5,92.2 737.5,88.9 738.0,78.9 738.0,75.7 738.5,90.6 738.5,84.0 739.0,78.2 739.0,75.8 739.5,89.1 739.5,88.2 740.0,76.5 740.0,79.1 740.5,91.2 740.5,85.1 741.0,75.3 741.0,74.1 741.5,90.7 741.5,86.3 742.0,77.6 742.0,78.1 742.5,88.2 742.5,89.0 743.0,76.9 743.0,79.6 743.5,88.3 743.5,93.3 744.0,74.2 744.0,77.6 744.5,89.3 744.5,95.7 745.0,81.5 745.0,76.4 745.5,92.4 745.5,90.0 746.0,81.4 746.0,80.0 746.5,91.4 746.5,94.4 747.0,83.1 747.0,82.5 747.5,92.6 747.5,96.2 748.0,80.7 748.0,81.0 748.5,98.5 748.5,98.0 749.0,84.2 749.0,83.1 749.5,94.8 749.5,95.5 750.0,80.1 750.0,81.4 750.5,98.1 750.5,98.8 751.0,84.0 751.0,86.0 751.5,98.9 751.5,94.3 752.0,82.2 752.0,82.1 752.5,94.2 752.5,95.9 753.0,78.5 753.0,84.1 753.5,92.1 753.5,91.4 754.0,79.3 754.0,80.2 754.5,93.0 754.5,87.7 755.0,79.9 755.0,80.3 755.5,96.0 755.5,93.9 756.0,77.2 756.0,83.2 756.5,93.0 756.5,97.9 757.0,83.7 757.0,83.6 757.5,96.6 757.5,95.3 758.0,81.9 758.0,81.5 758.5,94.0 758.5,97.8 759.0,82.4 759.0,80.0 759.5,97.7 759.5,97.4 760.0,81.4 760.0,82.8 760.5,97.3 760.5,93.8 761.0,81.2 761.0,82.1 761.5,96.6 761.5,93.0 762.0,83.8 762.0,80.0 762.5,94.2 762.5,93.1 763.0,82.2 763.0,81.1 763.5,96.2 763.5,94.8 764.0,78.5 764.0,79.3 764.5,90.8 764.5,89.4 765.0,79.1 765.0,76.8 765.5,87.9 765.5,90.8 766.0,77.3 766.0,76.8 766.5,86.0 766.5,202.0 767.0,74.1 767.0,193.3 767.5,203.8 767.5,203.7 768.0,192.7 768.0,192.6 768.5,202.8 768.5,202.6 769.0,193.8 769.0,195.2 769.5,204.3 769.5,205.2 770.0,194.6 770.0,194.9 770.5,206.8 770.5,205.6 771.0,195.4 771.0,197.1 771.5,206.3 771.5,206.3 772.0,198.2 772.0,198.2 772.5,207.0 772.5,208.1 773.0,200.2 773.0,198.2 773.5,208.4 773.5,206.3 774.0,194.5 774.0,197.7 774.5,204.3 774.5,206.2 775.0,195.9 775.0,198.0 775.5,207.6 775.5,206.5 776.0,196.9 776.0,197.9 776.5,207.7 776.5,207.2 777.0,194.5 777.0,195.5 777.5,204.9 777.5,205.9 778.0,195.2 778.0,195.7 778.5,205.9 778.5,203.4 779.0,194.8 779.0,194.6 779.5,204.2 779.5,204.1 780.0,193.7 780.0,193.2 780.5,203.4 780.5,204.6 781.0,192.0 781.0,194.2 781.5,203.4 781.5,202.9 782.0,193.0 782.0,195.5 782.5,200.1 782.5,203.8 783.0,195.9 783.0,193.2 783.5,201.6 783.5,203.9 784.0,194.0 784.0,193.5 784.5,205.5 784.5,206.2 785.0,195.2 785.0,195.6 785.5,206.7 785.5,203.7 786.0,197.0 786.0,198.4 786.5,208.4 786.5,205.1 787.0,197.0 787.0,194.6 787.5,207.2 787.5,206.5 788.0,197.8 788.0,198.3 788.5,204.9 788.5,202.7 789.0,194.4 789.0,194.9 789.5,207.4 789.5,207.1 790.0,197.9 790.0,194.4 790.5,205.6 790.5,205.6 791.0,195.9 791.0,198.7 791.5,203.8 791.5,203.9 792.0,193.7 792.0,194.1 792.5,204.6 792.5,205.5 793.0,193.6 793.0,195.4 793.5,205.7 793.5,204.2 794.0,193.2 794.0,195.9 794.5,206.1 794.5,206.5 795.0,193.6 795.0,194.5 795.5,202.8 795.5,203.1 796.0,192.0 796.0,195.1 796.5,204.3 796.5,203.0 797.0,193.8 797.0,194.6 797.5,205.5 797.5,207.5 798.0,199.3 798.0,196.2 798.5,205.4 798.5,205.6 799.0,196.3 799.0,195.2 799.5,205.5 799.5,203.5 800.0,197.5 800.0,194.4 800.5,206.0 800.5,205.7 801.0,196.8 801.0,196.4 801.5,204.7 801.5,206.2 802.0,201.2 802.0,197.0 802.5,205.5 802.5,205.6 803.0,195.3 803.0,195.4 803.5,205.6 803.5,206.2 804.0,196.3 804.0,195.7 804.5,207.7 804.5,206.2 805.0,197.6 805.0,194.2 805.5,203.7 805.5,206.0 806.0,194.0 806.0,194.7 806.5,204.2 806.5,203.1 807.0,194.0 807.0,195.9 807.5,203.8 807.5,204.9 808.0,193.6 808.0,191.8 808.5,201.2 808.5,202.9 809.0,195.8 809.0,195.4 809.5,204.0 809.5,205.0 810.0,194.3 810.0,196.1 810.5,204.2 810.5,205.0 811.0,191.7 811.0,198.1 811.5,206.7 811.5,205.8 812.0,192.6 812.0,195.5 812.5,204.0 812.5,202.8 813.0,195.3 813.0,196.5 813.5,204.6 813.5,207.2 814.0,196.4 814.0,197.6 814.5,206.2 814.5,207.9 815.0,197.9 815.0,196.8 815.5,206.0 815.5,205.2 816.0,196.4 816.0,199.3 816.5,205.1 816.5,206.6 817.0,196.5 817.0,198.2 817.5,205.4 817.5,206.2 818.0,197.2 818.0,195.9 818.5,207.0 818.5,204.4 819.0,194.2 819.0,194.0 819.5,201.2 819.5,203.8 820.0,194.4 820.0,191.8 820.5,204.9 820.5,201.9 821.0,192.9 821.0,193.0 821.5,206.3 821.5,199.5 822.0,191.3 822.0,192.0 822.5,204.3 822.5,204.1 823.0,192.3 823.0,193.9 823.5,203.0 823.5,203.0 824.0,194.3 824.0,194.0 824.5,202.2 824.5,205.7 825.0,195.3 825.0,194.4 825.5,205.2 825.5,204.6 826.0,194.8 826.0,194.8 826.5,206.6 826.5,206.4 827.0,197.7 827.0,196.8 827.5,204.9 827.5,205.9 828.0,196.2 828.0,198.4 828.5,207.9 828.5,206.7 829.0,197.4 829.0,197.6 829.5,207.5 829.5,204.4 830.0,195.5 830.0,198.1 830.5,205.4 830.5,206.0 831.0,197.1 831.0,196.4 831.5,207.4 831.5,204.1 832.0,195.5 832.0,195.7 832.5,204.2 832.5,208.2 833.0,195.7 833.0,194.7 833.5,202.9 833.5,203.6 834.0,194.9 834.0,196.3 834.5,204.9 834.5,208.0 835.0,195.5 835.0,192.8 835.5,203.6 835.5,202.0 836.0,193.5 836.0,194.1 836.5,202.1 836.5,204.6 837.0,195.7 837.0,194.4 837.5,202.9 837.5,203.5 838.0,195.2 838.0,195.4 838.5,205.0 838.5,203.6 839.0,194.3 839.0,195.6 839.5,202.5 839.5,206.4 840.0,194.6 840.0,197.8 840.5,207.6 840.5,204.8 841.0,197.1 841.0,195.5 841.5,206.1 841.5,207.5 842.0,196.3 842.0,198.3 842.5,208.5 842.5,207.1 843.0,197.0 843.0,196.7 843.5,206.0 843.5,207.6 844.0,197.5 844.0,197.1 844.5,206.7 844.5,208.0 845.0,196.2 845.0,197.2 845.5,207.9 845.5,205.2 846.0,194.7 846.0,198.4 846.5,206.6 846.5,206.3 847.0,195.2 847.0,197.8 847.5,205.9 847.5,206.8 848.0,193.1 848.0,193.6 848.5,204.9 848.5,205.4 849.0,193.8 849.0,195.2 849.5,204.1 849.5,205.6 850.0,196.9 850.0,193.8 850.5,202.9 850.5,204.9 851.0,192.1 851.0,192.5 851.5,202.6 851.5,204.2 852.0,197.1 852.0,194.5 852.5,201.1 852.5,202.0 853.0,194.1 853.0,196.3 853.5,202.7 853.5,205.7 854.0,197.9 854.0,197.0 854.5,208.5 854.5,205.0 855.0,196.0 855.0,196.7 855.5,205.4 855.5,206.6 856.0,194.6 856.0,196.7 856.5,205.4 856.5,205.5 857.0,195.5 857.0,57.4 857.5,69.9 857.5,75.1 858.0,59.4 858.0,69.1 858.5,77.8 858.5,78.4 859.0,65.7 859.0,66.6 859.5,76.2 859.5,79.3 860.0,69.3 860.0,71.1 860.5,79.7 860.5,81.7 861.0,71.6 861.0,67.5 861.5,80.1 861.5,80.5 862.0,70.6 862.0,70.2 862.5,78.0 862.5,76.6 863.0,64.7 863.0,65.7 863.5,77.2 863.5,77.5 864.0,64.1 864.0,70.5 864.5,79.8 864.5,76.9 865.0,65.2 865.0,68.3 865.5,79.5 865.5,84.0 866.0,72.5 866.0,72.2 866.5,85.2 866.5,86.2 867.0,73.3 867.0,78.3 867.5,87.3 867.5,86.7 868.0,76.5 868.0,77.0 868.5,91.7 868.5,90.0 869.0,80.4 869.0,81.8 869.5,91.5 869.5,95.0 870.0,86.9 870.0,85.0 870.5,94.7 870.5,89.8 871.0,80.9 871.0,80.7 871.5,88.3 871.5,91.3 872.0,82.5 872.0,78.9 872.5,88.9 872.5,90.4 873.0,78.0 873.0,78.5 873.5,86.9 873.5,89.4 874.0,75.6 874.0,79.9 874.5,88.8 874.5,90.8 875.0,81.8 875.0,82.1 875.5,90.4 875.5,92.0 876.0,81.3 876.0,80.6 876.5,88.9 876.5,89.9 877.0,77.1 877.0,79.8 877.5,89.8 877.5,89.0 878.0,75.1 878.0,81.9 878.5,91.1 878.5,92.5 879.0,82.2 879.0,84.5 879.5,95.5 879.5,95.0 880.0,85.7 880.0,86.3 880.5,97.2 880.5,96.9 881.0,86.1 881.0,84.4 881.5,94.6 881.5,96.4 882.0,88.0 882.0,84.6 882.5,98.8 882.5,98.7 883.0,89.8 883.0,84.8 883.5,98.4 883.5,97.8 884.0,85.4 884.0,87.0 884.5,97.1 884.5,96.3 885.0,86.1 885.0,82.7 885.5,94.7 885.5,92.9 886.0,85.4 886.0,84.6 886.5,96.9 886.5,94.2 887.0,82.9 887.0,82.0 887.5,94.3 887.5,91.4 888.0,81.6 888.0,80.6 888.5,93.8 888.5,91.3 889.0,79.2 889.0,79.4 889.5,89.7 889.5,89.0 890.0,82.3 890.0,78.6 890.5,92.7 890.5,93.7 891.0,82.0 891.0,80.7 891.5,92.6 891.5,92.3 892.0,79.6 892.0,83.8 892.5,95.9 892.5,91.7 893.0,80.9 893.0,81.6 893.5,92.9 893.5,94.8 894.0,82.2 894.0,86.2 894.5,95.9 894.5,93.1 895.0,82.9 895.0,80.0 895.5,93.7 895.5,94.2 896.0,82.5 896.0,81.2 896.5,94.9 896.5,93.8 897.0,80.9 897.0,84.0 897.5,96.2 897.5,95.3 898.0,83.3 898.0,85.5 898.5,96.7 898.5,94.9 899.0,81.5 899.0,83.2 899.5,95.2 899.5,92.2 900.0,82.8 900.0,84.6 900.5,95.4 900.5,94.8 901.0,82.9 901.0,87.1 901.5,94.6 901.5,98.1 902.0,87.6 902.0,88.5 902.5,97.4 902.5,94.8 903.0,85.6 903.0,81.8 903.5,96.0 903.5,93.8 904.0,83.2 904.0,85.3 904.5,96.2 904.5,97.2 905.0,87.9 905.0,85.6 905.5,101.4 905.5,93.9 906.0,84.2 906.0,83.4 906.5,99.3 906.5,98.3 907.0,90.3 907.0,86.0 907.5,98.1 907.5,99.1 908.0,86.8 908.0,91.4 908.5,102.5 908.5,102.4 909.0,93.2 909.0,93.6 909.5,109.0 909.5,103.1 910.0,93.6 910.0,93.1 910.5,103.0 910.5,102.3 911.0,90.0 911.0,90.0 911.5,99.7 911.5,97.0 912.0,85.8 912.0,86.8 912.5,96.7 912.5,99.2 913.0,90.1 913.0,88.3 913.5,100.1 913.5,100.1 914.0,90.0 914.0,90.2 914.5,100.3 914.5,103.2 915.0,88.6 915.0,86.8 915.5,99.4 915.5,96.1 916.0,88.7 916.0,80.6 916.5,97.3 916.5,93.4 917.0,86.2 917.0,85.4 917.5,92.8 917.5,97.8 918.0,83.8 918.0,84.4 918.5,96.8 918.5,98.0 919.0,85.5 919.0,85.9 919.5,95.2 919.5,93.0 920.0,80.8 920.0,81.9 920.5,94.3 920.5,91.7 921.0,84.7 921.0,81.5 921.5,92.6 921.5,93.4 922.0,80.6 922.0,82.6 922.5,91.7 922.5,92.2 923.0,85.3 923.0,82.7 923.5,98.2 923.5,92.8 924.0,82.6 924.0,83.3 924.5,96.8 924.5,96.5 925.0,85.1 925.0,87.4 925.5,95.9 925.5,97.0 926.0,84.9 926.0,87.4 926.5,96.8 926.5,97.2 927.0,87.2 927.0,83.6 927.5,96.6 927.5,95.9 928.0,87.3 928.0,86.3 928.5,95.7 928.5,98.9 929.0,90.4 929.0,84.9 929.5,96.3 929.5,95.4 930.0,86.2 930.0,89.8 930.5,99.3 930.5,98.9 931.0,86.8 931.0,87.4 931.5,98.4 931.5,97.9 932.0,86.3 932.0,87.6 932.5,96.8 932.5,97.6 933.0,83.2 933.0,82.2 933.5,94.9 933.5,94.8 934.0,85.6 934.0,86.1 934.5,97.5 934.5,98.4 935.0,88.2 935.0,85.1 935.5,96.7 935.5,98.3 936.0,85.7 936.0,84.6 936.5,98.8 936.5,97.4 937.0,85.0 937.0,82.4 937.5,96.4 937.5,96.0 938.0,83.5 938.0,84.5 938.5,96.3 938.5,99.7 939.0,84.3 939.0,89.0 939.5,97.6 939.5,100.1 940.0,90.2 940.0,87.6 940.5,97.7 940.5,99.7 941.0,90.4 941.0,88.3 941.5,100.6 941.5,101.2 942.0,92.7 942.0,89.8 942.5,100.9 942.5,104.8 943.0,90.0 943.0,92.1 943.5,106.2 943.5,105.3 944.0,90.8 944.0,93.6 944.5,102.1 944.5,105.9 945.0,93.3 945.0,91.3 945.5,105.1 945.5,103.6 946.0,92.2 946.0,90.9 946.5,102.4 946.5,101.5 947.0,90.8 947.0,88.1 947.5,99.4 947.5,97.1 948.0,92.6 948.0,89.0 948.5,99.1 948.5,96.2 949.0,88.4 949.0,88.3 949.5,97.9 949.5,99.3 950.0,89.9 950.0,89.5 950.5,98.8 950.5,98.8 951.0,87.5 951.0,88.9 951.5,98.5 951.5,98.4 952.0,87.2 952.0,91.1 952.5,99.1 952.5,102.6 953.0,91.6 953.0,90.7 953.5,104.2 953.5,105.4 954.0,95.6 954.0,94.9 954.5,106.7 954.5,105.6 955.0,94.4 955.0,97.3 955.5,105.1 955.5,105.4 956.0,94.7 956.0,94.0 956.5,102.2 956.5,102.4 957.0,93.6 957.0,90.1 957.5,101.9 957.5,97.1 958.0,90.0 958.0,88.8 958.5,100.5 958.5,98.5 959.0,88.8 959.0,85.5 959.5,98.7 959.5,99.0 960.0,84.9 960.0,89.6 960.5,97.6 960.5,97.9 961.0,87.3 961.0,86.5 961.5,95.6 961.5,97.8 962.0,84.9 962.0,83.0 962.5,95.5 962.5,94.9 963.0,82.0 963.0,83.7 963.5,89.9 963.5,92.7 964.0,84.1 964.0,83.5 964.5,94.7 964.5,95.1 965.0,85.8 965.0,84.6 965.5,94.3 965.5,96.6 966.0,85.1 966.0,91.3 966.5,100.3 966.5,101.1 967.0,89.0 967.0,90.6 967.5,103.2 967.5,101.6 968.0,91.6 968.0,89.4 968.5,101.6 968.5,103.6 969.0,91.2 969.0,90.7 969.5,96.6 969.5,99.1 970.0,89.8 970.0,92.3 970.5,207.6 970.5,207.8 971.0,198.4 971.0,198.7 971.5,209.2 971.5,206.2 972.0,197.7 972.0,195.9 972.5,206.5 972.5,206.4 973.0,195.1 973.0,196.4 973.5,206.5 973.5,205.1 974.0,195.2 974.0,195.9 974.5,204.0 974.5,206.1 975.0,196.1 975.0,193.3 975.5,202.7 975.5,206.6 976.0,195.2 976.0,197.4 976.5,206.0 976.5,208.4 977.0,195.8 977.0,196.7 977.5,202.8 977.5,205.2 978.0,196.8 978.0,197.8 978.5,206.2 978.5,207.6 979.0,196.8 979.0,200.4 979.5,207.6 979.5,209.1 980.0,197.7 980.0,197.3 980.5,209.1 980.5,209.6 981.0,200.0 981.0,199.6 981.5,208.7 981.5,209.4 982.0,200.1 982.0,199.6 982.5,208.7 982.5,210.6 983.0,200.4 983.0,200.0 983.5,211.4 983.5,211.7 984.0,200.0 984.0,199.7 984.5,211.5 984.5,209.4 985.0,202.4 985.0,200.2 985.5,210.6 985.5,208.8 986.0,198.8 986.0,200.0 986.5,207.1 986.5,209.9 987.0,200.7 987.0,197.3 987.5,206.0 987.5,205.6 988.0,196.6 988.0,198.1 988.5,207.7 988.5,207.9 989.0,200.7 989.0,199.6 989.5,206.2 989.5,206.8 990.0,197.4 990.0,200.2 990.5,207.5 990.5,206.0 991.0,200.6 991.0,198.3 991.5,209.1 991.5,209.8 992.0,196.8 992.0,199.4 992.5,206.1 992.5,209.4 993.0,200.5 993.0,200.3 993.5,208.1 993.5,210.6 994.0,199.5 994.0,200.7 994.5,209.9 994.5,210.5 995.0,200.4 995.0,202.1 995.5,213.1 995.5,211.4 996.0,201.2 996.0,203.7 996.5,213.2 996.5,208.7 997.0,202.5 997.0,202.9 997.5,212.6 997.5,211.0 998.0,203.2 998.0,200.8 998.5,212.7 998.5,210.6 999.0,203.1 999.0,202.9 999.5,211.3 999.5,210.4 1000.0,201.6 1000.0,198.0 1000.5,211.4 1000.5,209.4 1001.0,198.4 1001.0,199.3 1001.5,207.4 1001.5,207.2 1002.0,199.4 1002.0,198.4 1002.5,205.0 1002.5,208.9 1003.0,198.6 1003.0,201.2 1003.5,207.7 1003.5,206.5 1004.0,199.4 1004.0,197.4 1004.5,208.3 1004.5,206.9 1005.0,199.5 1005.0,199.6 1005.5,209.3 1005.5,274.0 1005.7,207.4" fill="none" stroke="#ff0000" stroke-width="1"/>
<polyline points="607.5,237.1 607.5,200.3 651.2,200.3 651.2,89.7 766.9,89.7 766.9,200.3 856.7,200.3 856.7,89.7 970.1,89.7 970.1,200.3 1005.7,200.3" fill="none" stroke="#00ff00" stroke-width="2"/></g>
<g stroke="#6a6a6a" stroke-width="1"><line x1="155.50" y1="274.00" x2="155.50" y2="269.50"/><line x1="155.50" y1="16.00" x2="155.50" y2="20.50"/><line x1="237.00" y1="274.00" x2="237.00" y2="269.50"/><line x1="237.00" y1="16.00" x2="237.00" y2="20.50"/><line x1="318.50" y1="274.00" x2="318.50" y2="269.50"/><line x1="318.50" y1="16.00" x2="318.50" y2="20.50"/><line x1="400.00" y1="274.00" x2="400.00" y2="269.50"/><line x1="400.00" y1="16.00" x2="400.00" y2="20.50"/><line x1="74.00" y1="227.09" x2="78.50" y2="227.09"/><line x1="481.50" y1="227.09" x2="477.00" y2="227.09"/><line x1="74.00" y1="180.18" x2="78.50" y2="180.18"/><line x1="481.50" y1="180.18" x2="477.00" y2="180.18"/><line x1="74.00" y1="133.27" x2="78.50" y2="133.27"/><line x1="481.50" y1="133.27" x2="477.00" y2="133.27"/><line x1="74.00" y1="86.36" x2="78.50" y2="86.36"/><line x1="481.50" y1="86.36" x2="477.00" y2="86.36"/><line x1="74.00" y1="39.45" x2="78.50" y2="39.45"/><line x1="481.50" y1="39.45" x2="477.00" y2="39.45"/></g><line x1="74.0" y1="15.4" x2="74.0" y2="274.6" stroke="#5d5d5d" stroke-width="1.3"/><line x1="481.5" y1="15.4" x2="481.5" y2="274.6" stroke="#707070" stroke-width="1.0"/><line x1="74.0" y1="16.0" x2="481.5" y2="16.0" stroke="#808080" stroke-width="1.1"/><line x1="74.0" y1="274.0" x2="481.5" y2="274.0" stroke="#7a7a7a" stroke-width="1.3"/>
<g stroke="#6a6a6a" stroke-width="1"><line x1="688.06" y1="274.00" x2="688.06" y2="269.50"/><line x1="688.06" y1="16.00" x2="688.06" y2="20.50"/><line x1="769.62" y1="274.00" x2="769.62" y2="269.50"/><line x1="769.62" y1="16.00" x2="769.62" y2="20.50"/><line x1="851.18" y1="274.00" x2="851.18" y2="269.50"/><line x1="851.18" y1="16.00" x2="851.18" y2="20.50"/><line x1="932.74" y1="274.00" x2="932.74" y2="269.50"/><line x1="932.74" y1="16.00" x2="932.74" y2="20.50"/><line x1="606.50" y1="237.14" x2="611.00" y2="237.14"/><line x1="1014.30" y1="237.14" x2="1009.80" y2="237.14"/><line x1="606.50" y1="200.29" x2="611.00" y2="200.29"/><line x1="1014.30" y1="200.29" x2="1009.80" y2="200.29"/><line x1="606.50" y1="163.43" x2="611.00" y2="163.43"/><line x1="1014.30" y1="163.43" x2="1009.80" y2="163.43"/><line x1="606.50" y1="126.57" x2="611.00" y2="126.57"/><line x1="1014.30" y1="126.57" x2="1009.80" y2="126.57"/><line x1="606.50" y1="89.71" x2="611.00" y2="89.71"/><line x1="1014.30" y1="89.71" x2="1009.80" y2="89.71"/><line x1="606.50" y1="52.86" x2="611.00" y2="52.86"/><line x1="1014.30" y1="52.86" x2="1009.80" y2="52.86"/></g><line x1="606.5" y1="15.4" x2="606.5" y2="274.6" stroke="#6a6a6a" stroke-width="1.0"/><line x1="1014.3" y1="15.4" x2="1014.3" y2="274.6" stroke="#6a6a6a" stroke-width="1.2"/><line x1="606.5" y1="16.0" x2="1014.3" y2="16.0" stroke="#cccccc" stroke-width="1.1"/><line x1="606.5" y1="274.0" x2="1014.3" y2="274.0" stroke="#7a7a7a" stroke-width="1.3"/>
<rect x="311.9" y="25.0" width="162.3" height="64.6" fill="#fff" stroke="#7a7a7a" stroke-width="1.2"/>
<line x1="317.9" y1="36.1" x2="338.4" y2="36.1" stroke="#a8a8a8" stroke-width="2"/>
<text x="341.0" y="42.0" font-size="20.8">measurement</text>
<line x1="317.9" y1="56.0" x2="338.4" y2="56.0" stroke="#ff0000" stroke-width="2"/>
<text x="341.0" y="61.8" font-size="20.8">filtered meas.</text>
<line x1="317.9" y1="79.0" x2="338.4" y2="79.0" stroke="#00ff00" stroke-width="2"/>
<text x="341.0" y="81.7" font-size="20.8">goal shape</text>
<rect x="651.5" y="203.3" width="123.70000000000005" height="64.80000000000001" fill="#fff" stroke="#7a7a7a" stroke-width="1.2"/>
<line x1="657.6" y1="213.8" x2="677.9" y2="213.8" stroke="#a8a8a8" stroke-width="2"/>
<text x="680.2" y="220.9" font-size="17.7">measurement</text>
<line x1="657.6" y1="235.10000000000002" x2="677.9" y2="235.10000000000002" stroke="#ff0000" stroke-width="2"/>
<text x="680.2" y="241.0" font-size="17.7">filtered meas.</text>
<line x1="657.6" y1="258.2" x2="677.9" y2="258.2" stroke="#00ff00" stroke-width="2"/>
<text x="680.2" y="260.3" font-size="17.7">goal shape</text>
<g font-size="28"><text transform="translate(75.70,294.6) scale(1.030,1.07)" text-anchor="middle">0</text>
<text transform="translate(157.20,294.6) scale(1.030,1.07)" text-anchor="middle">0<tspan dx="-3.5">.</tspan><tspan dx="-2.4">2</tspan></text>
<text transform="translate(238.70,294.6) scale(1.030,1.07)" text-anchor="middle">0<tspan dx="-3.5">.</tspan><tspan dx="-2.4">4</tspan></text>
<text transform="translate(320.20,294.6) scale(1.030,1.07)" text-anchor="middle">0<tspan dx="-3.5">.</tspan><tspan dx="-2.4">6</tspan></text>
<text transform="translate(401.70,294.6) scale(1.030,1.07)" text-anchor="middle">0<tspan dx="-3.5">.</tspan><tspan dx="-2.4">8</tspan></text>
<text transform="translate(483.20,294.6) scale(0.824,1.07)" text-anchor="middle">1</text>
<text transform="translate(68.20,282.20) scale(1.030,1.07)" text-anchor="end">0</text>
<text transform="translate(68.20,235.29) scale(1.030,1.07)" text-anchor="end">0.2</text>
<text transform="translate(68.20,188.38) scale(1.030,1.07)" text-anchor="end">0.4</text>
<text transform="translate(68.20,141.47) scale(1.030,1.07)" text-anchor="end">0.6</text>
<text transform="translate(68.20,94.56) scale(1.030,1.07)" text-anchor="end">0.8</text>
<text transform="translate(68.20,47.65) scale(0.824,1.07)" text-anchor="end">1</text>
<text x="286.05" y="314" text-anchor="middle">time [ms]</text>
<text transform="translate(26.20,152.9) rotate(-90)" text-anchor="middle">normalized intensity [a.u.]</text>
<text transform="translate(608.20,294.6) scale(1.030,1.07)" text-anchor="middle">0</text>
<text transform="translate(689.76,294.6) scale(1.030,1.07)" text-anchor="middle">0<tspan dx="-3.5">.</tspan><tspan dx="-2.4">2</tspan></text>
<text transform="translate(771.32,294.6) scale(1.030,1.07)" text-anchor="middle">0<tspan dx="-3.5">.</tspan><tspan dx="-2.4">4</tspan></text>
<text transform="translate(852.88,294.6) scale(1.030,1.07)" text-anchor="middle">0<tspan dx="-3.5">.</tspan><tspan dx="-2.4">6</tspan></text>
<text transform="translate(934.44,294.6) scale(1.030,1.07)" text-anchor="middle">0<tspan dx="-3.5">.</tspan><tspan dx="-2.4">8</tspan></text>
<text transform="translate(1016.00,294.6) scale(0.824,1.07)" text-anchor="middle">1</text>
<text transform="translate(600.70,282.20) scale(1.030,1.07)" text-anchor="end">0</text>
<text transform="translate(600.70,245.34) scale(1.030,1.07)" text-anchor="end">0.2</text>
<text transform="translate(600.70,208.49) scale(1.030,1.07)" text-anchor="end">0.4</text>
<text transform="translate(600.70,171.63) scale(1.030,1.07)" text-anchor="end">0.6</text>
<text transform="translate(600.70,134.77) scale(1.030,1.07)" text-anchor="end">0.8</text>
<text transform="translate(600.70,97.91) scale(0.824,1.07)" text-anchor="end">1</text>
<text transform="translate(600.70,61.06) scale(1.030,1.07)" text-anchor="end">1.2</text>
<text x="818.70" y="314" text-anchor="middle">time [ms]</text>
<text transform="translate(558.70,152.9) rotate(-90)" text-anchor="middle">normalized intensity [a.u.]</text></g>
</svg>
</body></html>
